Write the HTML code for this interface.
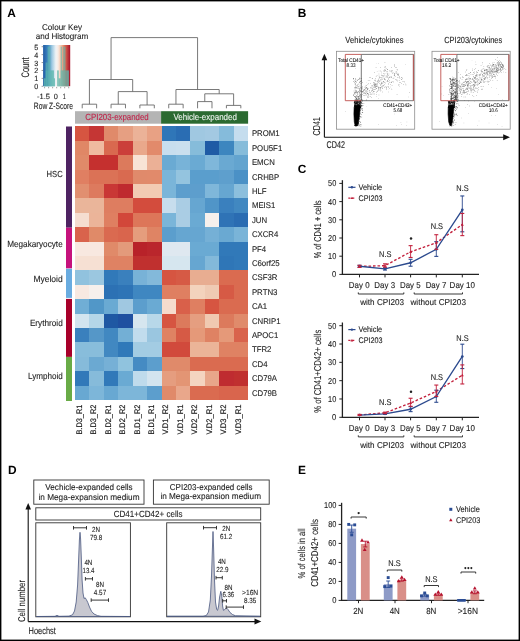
<!DOCTYPE html>
<html><head><meta charset="utf-8"><title>Figure</title>
<style>
html,body{margin:0;padding:0;background:#fff;}
body{width:520px;height:641px;overflow:hidden;}
svg{display:block;filter:blur(0.3px);}
text{font-family:"Liberation Sans", sans-serif;text-rendering:geometricPrecision;}
</style></head><body>
<svg width="520" height="641" viewBox="0 0 520 641">
<rect x="0" y="0" width="520" height="641" fill="#fff"/>
<text x="7.20" y="17.00" font-size="11.9" fill="#000" font-weight="bold">A</text>
<text x="62.00" y="29.50" font-size="8.35" fill="#222" text-anchor="middle" textLength="40" lengthAdjust="spacingAndGlyphs" stroke="#222" stroke-width="0.1">Colour Key</text>
<text x="62.00" y="38.60" font-size="8.35" fill="#222" text-anchor="middle" textLength="52.5" lengthAdjust="spacingAndGlyphs" stroke="#222" stroke-width="0.1">and Histogram</text>
<defs><linearGradient id="ck" x1="0" x2="1" y1="0" y2="0">
<stop offset="0" stop-color="#1f5aa4"/>
<stop offset="0.18" stop-color="#3f86c0"/>
<stop offset="0.33" stop-color="#9fcae2"/>
<stop offset="0.47" stop-color="#eef3f6"/>
<stop offset="0.55" stop-color="#f7ece6"/>
<stop offset="0.67" stop-color="#f3c0a4"/>
<stop offset="0.8" stop-color="#dc6f55"/>
<stop offset="1" stop-color="#a8102a"/>
</linearGradient></defs>
<rect x="43.10" y="45.00" width="27.10" height="41.20" fill="url(#ck)" />
<rect x="43.80" y="78.38" width="1.80" height="7.92" fill="#5db7ae" fill-opacity="0.6"/>
<rect x="43.80" y="78.38" width="1.80" height="7.92" fill="#5db7ae" fill-opacity="0.45"/>
<rect x="45.60" y="62.54" width="2.00" height="23.76" fill="#5db7ae" fill-opacity="0.6"/>
<rect x="45.60" y="70.46" width="2.00" height="15.84" fill="#5db7ae" fill-opacity="0.45"/>
<rect x="47.60" y="46.70" width="2.80" height="39.60" fill="#5db7ae" fill-opacity="0.6"/>
<rect x="47.60" y="70.46" width="2.80" height="15.84" fill="#5db7ae" fill-opacity="0.45"/>
<rect x="50.40" y="70.46" width="3.50" height="15.84" fill="#5db7ae" fill-opacity="0.6"/>
<rect x="50.40" y="70.46" width="3.50" height="15.84" fill="#5db7ae" fill-opacity="0.45"/>
<rect x="53.90" y="78.38" width="1.10" height="7.92" fill="#5db7ae" fill-opacity="0.6"/>
<rect x="53.90" y="78.38" width="1.10" height="7.92" fill="#5db7ae" fill-opacity="0.45"/>
<rect x="57.20" y="70.46" width="1.50" height="15.84" fill="#5db7ae" fill-opacity="0.6"/>
<rect x="57.20" y="70.46" width="1.50" height="15.84" fill="#5db7ae" fill-opacity="0.45"/>
<rect x="58.70" y="78.38" width="1.90" height="7.92" fill="#5db7ae" fill-opacity="0.6"/>
<rect x="58.70" y="78.38" width="1.90" height="7.92" fill="#5db7ae" fill-opacity="0.45"/>
<rect x="60.60" y="46.70" width="1.50" height="39.60" fill="#5db7ae" fill-opacity="0.6"/>
<rect x="60.60" y="70.46" width="1.50" height="15.84" fill="#5db7ae" fill-opacity="0.45"/>
<rect x="62.10" y="70.46" width="1.10" height="15.84" fill="#5db7ae" fill-opacity="0.6"/>
<rect x="62.10" y="70.46" width="1.10" height="15.84" fill="#5db7ae" fill-opacity="0.45"/>
<rect x="63.20" y="46.70" width="2.30" height="39.60" fill="#5db7ae" fill-opacity="0.6"/>
<rect x="63.20" y="70.46" width="2.30" height="15.84" fill="#5db7ae" fill-opacity="0.45"/>
<rect x="65.50" y="70.46" width="1.10" height="15.84" fill="#5db7ae" fill-opacity="0.6"/>
<rect x="65.50" y="70.46" width="1.10" height="15.84" fill="#5db7ae" fill-opacity="0.45"/>
<rect x="66.60" y="70.46" width="2.30" height="15.84" fill="#5db7ae" fill-opacity="0.6"/>
<rect x="66.60" y="70.46" width="2.30" height="15.84" fill="#5db7ae" fill-opacity="0.45"/>
<line x1="41.60" y1="86.30" x2="43.10" y2="86.30" stroke="#555" stroke-width="0.6" />
<text x="38.30" y="89.28" font-size="7.49" fill="#222" text-anchor="end" textLength="4.0" lengthAdjust="spacingAndGlyphs" stroke="#222" stroke-width="0.1">0</text>
<line x1="41.60" y1="78.38" x2="43.10" y2="78.38" stroke="#555" stroke-width="0.6" />
<text x="38.30" y="81.36" font-size="7.49" fill="#222" text-anchor="end" textLength="4.0" lengthAdjust="spacingAndGlyphs" stroke="#222" stroke-width="0.1">1</text>
<line x1="41.60" y1="70.46" x2="43.10" y2="70.46" stroke="#555" stroke-width="0.6" />
<text x="38.30" y="73.44" font-size="7.49" fill="#222" text-anchor="end" textLength="4.0" lengthAdjust="spacingAndGlyphs" stroke="#222" stroke-width="0.1">2</text>
<line x1="41.60" y1="62.54" x2="43.10" y2="62.54" stroke="#555" stroke-width="0.6" />
<text x="38.30" y="65.52" font-size="7.49" fill="#222" text-anchor="end" textLength="4.0" lengthAdjust="spacingAndGlyphs" stroke="#222" stroke-width="0.1">3</text>
<line x1="41.60" y1="54.62" x2="43.10" y2="54.62" stroke="#555" stroke-width="0.6" />
<text x="38.30" y="57.60" font-size="7.49" fill="#222" text-anchor="end" textLength="4.0" lengthAdjust="spacingAndGlyphs" stroke="#222" stroke-width="0.1">4</text>
<line x1="41.60" y1="46.70" x2="43.10" y2="46.70" stroke="#555" stroke-width="0.6" />
<text x="38.30" y="49.68" font-size="7.49" fill="#222" text-anchor="end" textLength="4.0" lengthAdjust="spacingAndGlyphs" stroke="#222" stroke-width="0.1">5</text>
<line x1="44.60" y1="86.90" x2="44.60" y2="88.30" stroke="#666" stroke-width="0.6" />
<line x1="48.62" y1="86.90" x2="48.62" y2="88.30" stroke="#666" stroke-width="0.6" />
<line x1="52.64" y1="86.90" x2="52.64" y2="88.30" stroke="#666" stroke-width="0.6" />
<line x1="56.66" y1="86.90" x2="56.66" y2="88.30" stroke="#666" stroke-width="0.6" />
<line x1="60.68" y1="86.90" x2="60.68" y2="88.30" stroke="#666" stroke-width="0.6" />
<line x1="64.70" y1="86.90" x2="64.70" y2="88.30" stroke="#666" stroke-width="0.6" />
<line x1="68.72" y1="86.90" x2="68.72" y2="88.30" stroke="#666" stroke-width="0.6" />
<text x="43.50" y="98.78" font-size="7.49" fill="#222" text-anchor="middle" textLength="13.0" lengthAdjust="spacingAndGlyphs" stroke="#222" stroke-width="0.1">-1.5</text>
<text x="55.80" y="98.78" font-size="7.49" fill="#222" text-anchor="middle" textLength="4.1" lengthAdjust="spacingAndGlyphs" stroke="#222" stroke-width="0.1">0</text>
<text x="64.20" y="98.78" font-size="7.49" fill="#222" text-anchor="middle" textLength="3.0" lengthAdjust="spacingAndGlyphs" stroke="#222" stroke-width="0.1">1</text>
<text x="53.40" y="109.46" font-size="9.2" fill="#222" text-anchor="middle" textLength="39.2" lengthAdjust="spacingAndGlyphs" stroke="#222" stroke-width="0.1">Row Z-Score</text>
<text x="28.90" y="67.50" font-size="10.91" fill="#222" text-anchor="middle" textLength="20.0" lengthAdjust="spacingAndGlyphs" transform="rotate(-90 28.90 67.50)" stroke="#222" stroke-width="0.1">Count</text>
<path d="M82.21,108.30 L82.21,104.20 L96.63,104.20 L96.63,108.30" fill="none" stroke="#6a6a6a" stroke-width="0.9" />
<path d="M111.05,108.30 L111.05,104.20 L125.47,104.20 L125.47,108.30" fill="none" stroke="#6a6a6a" stroke-width="0.9" />
<path d="M139.89,108.30 L139.89,105.00 L154.31,105.00 L154.31,108.30" fill="none" stroke="#6a6a6a" stroke-width="0.9" />
<path d="M168.73,108.30 L168.73,104.20 L183.15,104.20 L183.15,108.30" fill="none" stroke="#6a6a6a" stroke-width="0.9" />
<path d="M197.57,108.30 L197.57,101.60 L211.99,101.60 L211.99,108.30" fill="none" stroke="#6a6a6a" stroke-width="0.9" />
<path d="M226.41,108.30 L226.41,105.40 L240.83,105.40 L240.83,108.30" fill="none" stroke="#6a6a6a" stroke-width="0.9" />
<path d="M118.26,104.20 L118.26,91.60 L147.10,91.60 L147.10,105.00" fill="none" stroke="#6a6a6a" stroke-width="0.9" />
<path d="M89.42,104.20 L89.42,79.50 L132.68,79.50 L132.68,91.60" fill="none" stroke="#6a6a6a" stroke-width="0.9" />
<path d="M204.78,101.60 L204.78,93.80 L233.62,93.80 L233.62,105.40" fill="none" stroke="#6a6a6a" stroke-width="0.9" />
<path d="M175.94,104.20 L175.94,89.50 L219.20,89.50 L219.20,93.80" fill="none" stroke="#6a6a6a" stroke-width="0.9" />
<path d="M111.05,79.50 L111.05,37.60 L197.57,37.60 L197.57,89.50" fill="none" stroke="#6a6a6a" stroke-width="0.9" />
<rect x="75.00" y="111.20" width="86.10" height="12.50" fill="#b4b4b4" />
<rect x="161.10" y="111.20" width="87.00" height="12.50" fill="#2b6a31" />
<text x="117.00" y="120.49" font-size="8.99" fill="#c0244a" text-anchor="middle" textLength="63.5" lengthAdjust="spacingAndGlyphs" stroke="#c0244a" stroke-width="0.12">CPI203-expanded</text>
<text x="205.20" y="120.49" font-size="8.99" fill="#eef3ee" text-anchor="middle" textLength="63.5" lengthAdjust="spacingAndGlyphs" stroke="#eef3ee" stroke-width="0.12">Vehicle-expanded</text>
<g shape-rendering="crispEdges">
<rect x="75.00" y="126.30" width="14.82" height="14.80" fill="#d65541"/>
<rect x="89.42" y="126.30" width="14.82" height="14.80" fill="#c53634"/>
<rect x="103.84" y="126.30" width="14.82" height="14.80" fill="#e08a6a"/>
<rect x="118.26" y="126.30" width="14.82" height="14.80" fill="#e69f82"/>
<rect x="132.68" y="126.30" width="14.82" height="14.80" fill="#ebb298"/>
<rect x="147.10" y="126.30" width="14.82" height="14.80" fill="#e8a184"/>
<rect x="161.52" y="126.30" width="14.82" height="14.80" fill="#2f76b8"/>
<rect x="175.94" y="126.30" width="14.82" height="14.80" fill="#2a6db3"/>
<rect x="190.36" y="126.30" width="14.82" height="14.80" fill="#a0c8e1"/>
<rect x="204.78" y="126.30" width="14.82" height="14.80" fill="#a3c9e2"/>
<rect x="219.20" y="126.30" width="14.82" height="14.80" fill="#85bbdb"/>
<rect x="233.62" y="126.30" width="14.82" height="14.80" fill="#c5ddee"/>
<rect x="75.00" y="140.70" width="14.82" height="14.80" fill="#e08766"/>
<rect x="89.42" y="140.70" width="14.82" height="14.80" fill="#efbba0"/>
<rect x="103.84" y="140.70" width="14.82" height="14.80" fill="#d9694f"/>
<rect x="118.26" y="140.70" width="14.82" height="14.80" fill="#cb3f3a"/>
<rect x="132.68" y="140.70" width="14.82" height="14.80" fill="#e9a88b"/>
<rect x="147.10" y="140.70" width="14.82" height="14.80" fill="#e28a6b"/>
<rect x="161.52" y="140.70" width="14.82" height="14.80" fill="#c8deee"/>
<rect x="175.94" y="140.70" width="14.82" height="14.80" fill="#cadfee"/>
<rect x="190.36" y="140.70" width="14.82" height="14.80" fill="#86bcda"/>
<rect x="204.78" y="140.70" width="14.82" height="14.80" fill="#1f5ba5"/>
<rect x="219.20" y="140.70" width="14.82" height="14.80" fill="#3d86bf"/>
<rect x="233.62" y="140.70" width="14.82" height="14.80" fill="#86bcda"/>
<rect x="75.00" y="155.11" width="14.82" height="14.80" fill="#e08a69"/>
<rect x="89.42" y="155.11" width="14.82" height="14.80" fill="#c5302f"/>
<rect x="103.84" y="155.11" width="14.82" height="14.80" fill="#c5302f"/>
<rect x="118.26" y="155.11" width="14.82" height="14.80" fill="#dc7a5c"/>
<rect x="132.68" y="155.11" width="14.82" height="14.80" fill="#f8e4d6"/>
<rect x="147.10" y="155.11" width="14.82" height="14.80" fill="#ebb096"/>
<rect x="161.52" y="155.11" width="14.82" height="14.80" fill="#6aaad3"/>
<rect x="175.94" y="155.11" width="14.82" height="14.80" fill="#78b3d8"/>
<rect x="190.36" y="155.11" width="14.82" height="14.80" fill="#6aaad3"/>
<rect x="204.78" y="155.11" width="14.82" height="14.80" fill="#7fb7da"/>
<rect x="219.20" y="155.11" width="14.82" height="14.80" fill="#6aa9d2"/>
<rect x="233.62" y="155.11" width="14.82" height="14.80" fill="#63a4cf"/>
<rect x="75.00" y="169.51" width="14.82" height="14.80" fill="#e07f62"/>
<rect x="89.42" y="169.51" width="14.82" height="14.80" fill="#db7256"/>
<rect x="103.84" y="169.51" width="14.82" height="14.80" fill="#db7256"/>
<rect x="118.26" y="169.51" width="14.82" height="14.80" fill="#d96a50"/>
<rect x="132.68" y="169.51" width="14.82" height="14.80" fill="#e08a6b"/>
<rect x="147.10" y="169.51" width="14.82" height="14.80" fill="#e18a6b"/>
<rect x="161.52" y="169.51" width="14.82" height="14.80" fill="#7ab5d9"/>
<rect x="175.94" y="169.51" width="14.82" height="14.80" fill="#94c4df"/>
<rect x="190.36" y="169.51" width="14.82" height="14.80" fill="#5a9ecd"/>
<rect x="204.78" y="169.51" width="14.82" height="14.80" fill="#5a9ecd"/>
<rect x="219.20" y="169.51" width="14.82" height="14.80" fill="#5e9fcd"/>
<rect x="233.62" y="169.51" width="14.82" height="14.80" fill="#4b91c6"/>
<rect x="75.00" y="183.92" width="14.82" height="14.80" fill="#e18f70"/>
<rect x="89.42" y="183.92" width="14.82" height="14.80" fill="#dd7a5e"/>
<rect x="103.84" y="183.92" width="14.82" height="14.80" fill="#c93735"/>
<rect x="118.26" y="183.92" width="14.82" height="14.80" fill="#bf2a2f"/>
<rect x="132.68" y="183.92" width="14.82" height="14.80" fill="#f2cbb3"/>
<rect x="147.10" y="183.92" width="14.82" height="14.80" fill="#f2cbb3"/>
<rect x="161.52" y="183.92" width="14.82" height="14.80" fill="#7ab5d9"/>
<rect x="175.94" y="183.92" width="14.82" height="14.80" fill="#5d9ecd"/>
<rect x="190.36" y="183.92" width="14.82" height="14.80" fill="#5d9ecd"/>
<rect x="204.78" y="183.92" width="14.82" height="14.80" fill="#7fb7da"/>
<rect x="219.20" y="183.92" width="14.82" height="14.80" fill="#66a6d1"/>
<rect x="233.62" y="183.92" width="14.82" height="14.80" fill="#8cbfdd"/>
<rect x="75.00" y="198.32" width="14.82" height="14.80" fill="#eab59a"/>
<rect x="89.42" y="198.32" width="14.82" height="14.80" fill="#eab59a"/>
<rect x="103.84" y="198.32" width="14.82" height="14.80" fill="#de7d60"/>
<rect x="118.26" y="198.32" width="14.82" height="14.80" fill="#de7d60"/>
<rect x="132.68" y="198.32" width="14.82" height="14.80" fill="#d34c3d"/>
<rect x="147.10" y="198.32" width="14.82" height="14.80" fill="#d34c3d"/>
<rect x="161.52" y="198.32" width="14.82" height="14.80" fill="#c7dded"/>
<rect x="175.94" y="198.32" width="14.82" height="14.80" fill="#aacde4"/>
<rect x="190.36" y="198.32" width="14.82" height="14.80" fill="#66a6d1"/>
<rect x="204.78" y="198.32" width="14.82" height="14.80" fill="#5095c8"/>
<rect x="219.20" y="198.32" width="14.82" height="14.80" fill="#3a80be"/>
<rect x="233.62" y="198.32" width="14.82" height="14.80" fill="#4188c1"/>
<rect x="75.00" y="212.73" width="14.82" height="14.80" fill="#f5ddd0"/>
<rect x="89.42" y="212.73" width="14.82" height="14.80" fill="#ebb499"/>
<rect x="103.84" y="212.73" width="14.82" height="14.80" fill="#df7f61"/>
<rect x="118.26" y="212.73" width="14.82" height="14.80" fill="#d2473a"/>
<rect x="132.68" y="212.73" width="14.82" height="14.80" fill="#dd7659"/>
<rect x="147.10" y="212.73" width="14.82" height="14.80" fill="#dd7659"/>
<rect x="161.52" y="212.73" width="14.82" height="14.80" fill="#7ab5d9"/>
<rect x="175.94" y="212.73" width="14.82" height="14.80" fill="#aacde4"/>
<rect x="190.36" y="212.73" width="14.82" height="14.80" fill="#6aaad3"/>
<rect x="204.78" y="212.73" width="14.82" height="14.80" fill="#f6f0ec"/>
<rect x="219.20" y="212.73" width="14.82" height="14.80" fill="#2f73b6"/>
<rect x="233.62" y="212.73" width="14.82" height="14.80" fill="#2a6cb2"/>
<rect x="75.00" y="227.13" width="14.82" height="14.80" fill="#d9634c"/>
<rect x="89.42" y="227.13" width="14.82" height="14.80" fill="#e08a68"/>
<rect x="103.84" y="227.13" width="14.82" height="14.80" fill="#da6a50"/>
<rect x="118.26" y="227.13" width="14.82" height="14.80" fill="#d9654d"/>
<rect x="132.68" y="227.13" width="14.82" height="14.80" fill="#e59d7d"/>
<rect x="147.10" y="227.13" width="14.82" height="14.80" fill="#df8464"/>
<rect x="161.52" y="227.13" width="14.82" height="14.80" fill="#5b9ecd"/>
<rect x="175.94" y="227.13" width="14.82" height="14.80" fill="#66a6d1"/>
<rect x="190.36" y="227.13" width="14.82" height="14.80" fill="#66a6d1"/>
<rect x="204.78" y="227.13" width="14.82" height="14.80" fill="#75b0d6"/>
<rect x="219.20" y="227.13" width="14.82" height="14.80" fill="#6aa9d2"/>
<rect x="233.62" y="227.13" width="14.82" height="14.80" fill="#7ab4d8"/>
<rect x="75.00" y="241.54" width="14.82" height="14.80" fill="#f8e8e0"/>
<rect x="89.42" y="241.54" width="14.82" height="14.80" fill="#f8e8e0"/>
<rect x="103.84" y="241.54" width="14.82" height="14.80" fill="#e08a69"/>
<rect x="118.26" y="241.54" width="14.82" height="14.80" fill="#e39a7b"/>
<rect x="132.68" y="241.54" width="14.82" height="14.80" fill="#b82229"/>
<rect x="147.10" y="241.54" width="14.82" height="14.80" fill="#ba262c"/>
<rect x="161.52" y="241.54" width="14.82" height="14.80" fill="#dfe8f0"/>
<rect x="175.94" y="241.54" width="14.82" height="14.80" fill="#dfe8f0"/>
<rect x="190.36" y="241.54" width="14.82" height="14.80" fill="#6aaad3"/>
<rect x="204.78" y="241.54" width="14.82" height="14.80" fill="#6aaad3"/>
<rect x="219.20" y="241.54" width="14.82" height="14.80" fill="#3179b9"/>
<rect x="233.62" y="241.54" width="14.82" height="14.80" fill="#3179b9"/>
<rect x="75.00" y="255.94" width="14.82" height="14.80" fill="#f6e0d3"/>
<rect x="89.42" y="255.94" width="14.82" height="14.80" fill="#f6e0d3"/>
<rect x="103.84" y="255.94" width="14.82" height="14.80" fill="#df8263"/>
<rect x="118.26" y="255.94" width="14.82" height="14.80" fill="#df8263"/>
<rect x="132.68" y="255.94" width="14.82" height="14.80" fill="#c0302f"/>
<rect x="147.10" y="255.94" width="14.82" height="14.80" fill="#c0302f"/>
<rect x="161.52" y="255.94" width="14.82" height="14.80" fill="#d6e6ef"/>
<rect x="175.94" y="255.94" width="14.82" height="14.80" fill="#d6e6ef"/>
<rect x="190.36" y="255.94" width="14.82" height="14.80" fill="#66a6d1"/>
<rect x="204.78" y="255.94" width="14.82" height="14.80" fill="#83b9da"/>
<rect x="219.20" y="255.94" width="14.82" height="14.80" fill="#2f76b7"/>
<rect x="233.62" y="255.94" width="14.82" height="14.80" fill="#3179b9"/>
<rect x="75.00" y="270.35" width="14.82" height="14.80" fill="#91c2de"/>
<rect x="89.42" y="270.35" width="14.82" height="14.80" fill="#9bc7e0"/>
<rect x="103.84" y="270.35" width="14.82" height="14.80" fill="#3179b9"/>
<rect x="118.26" y="270.35" width="14.82" height="14.80" fill="#3a80bd"/>
<rect x="132.68" y="270.35" width="14.82" height="14.80" fill="#78b2d7"/>
<rect x="147.10" y="270.35" width="14.82" height="14.80" fill="#83b9da"/>
<rect x="161.52" y="270.35" width="14.82" height="14.80" fill="#d65541"/>
<rect x="175.94" y="270.35" width="14.82" height="14.80" fill="#d65a45"/>
<rect x="190.36" y="270.35" width="14.82" height="14.80" fill="#e8ad91"/>
<rect x="204.78" y="270.35" width="14.82" height="14.80" fill="#e8ad91"/>
<rect x="219.20" y="270.35" width="14.82" height="14.80" fill="#da6b50"/>
<rect x="233.62" y="270.35" width="14.82" height="14.80" fill="#da6b50"/>
<rect x="75.00" y="284.75" width="14.82" height="14.80" fill="#f8e9e1"/>
<rect x="89.42" y="284.75" width="14.82" height="14.80" fill="#f6f0ec"/>
<rect x="103.84" y="284.75" width="14.82" height="14.80" fill="#2c71b4"/>
<rect x="118.26" y="284.75" width="14.82" height="14.80" fill="#2e74b6"/>
<rect x="132.68" y="284.75" width="14.82" height="14.80" fill="#3f87c1"/>
<rect x="147.10" y="284.75" width="14.82" height="14.80" fill="#3f87c1"/>
<rect x="161.52" y="284.75" width="14.82" height="14.80" fill="#df7f61"/>
<rect x="175.94" y="284.75" width="14.82" height="14.80" fill="#df7f61"/>
<rect x="190.36" y="284.75" width="14.82" height="14.80" fill="#f3d3bd"/>
<rect x="204.78" y="284.75" width="14.82" height="14.80" fill="#efcab3"/>
<rect x="219.20" y="284.75" width="14.82" height="14.80" fill="#d65a45"/>
<rect x="233.62" y="284.75" width="14.82" height="14.80" fill="#da6b50"/>
<rect x="75.00" y="299.16" width="14.82" height="14.80" fill="#70aed5"/>
<rect x="89.42" y="299.16" width="14.82" height="14.80" fill="#5197c8"/>
<rect x="103.84" y="299.16" width="14.82" height="14.80" fill="#6aaad3"/>
<rect x="118.26" y="299.16" width="14.82" height="14.80" fill="#a0c8e1"/>
<rect x="132.68" y="299.16" width="14.82" height="14.80" fill="#5c9ecd"/>
<rect x="147.10" y="299.16" width="14.82" height="14.80" fill="#6aaad3"/>
<rect x="161.52" y="299.16" width="14.82" height="14.80" fill="#f6dccd"/>
<rect x="175.94" y="299.16" width="14.82" height="14.80" fill="#d9604a"/>
<rect x="190.36" y="299.16" width="14.82" height="14.80" fill="#df7f61"/>
<rect x="204.78" y="299.16" width="14.82" height="14.80" fill="#d65541"/>
<rect x="219.20" y="299.16" width="14.82" height="14.80" fill="#da6b50"/>
<rect x="233.62" y="299.16" width="14.82" height="14.80" fill="#da6b50"/>
<rect x="75.00" y="313.56" width="14.82" height="14.80" fill="#d3e5ef"/>
<rect x="89.42" y="313.56" width="14.82" height="14.80" fill="#b4d6e8"/>
<rect x="103.84" y="313.56" width="14.82" height="14.80" fill="#1f58a3"/>
<rect x="118.26" y="313.56" width="14.82" height="14.80" fill="#1f50a0"/>
<rect x="132.68" y="313.56" width="14.82" height="14.80" fill="#d6e6ef"/>
<rect x="147.10" y="313.56" width="14.82" height="14.80" fill="#b8d8e9"/>
<rect x="161.52" y="313.56" width="14.82" height="14.80" fill="#d65541"/>
<rect x="175.94" y="313.56" width="14.82" height="14.80" fill="#dc7a5c"/>
<rect x="190.36" y="313.56" width="14.82" height="14.80" fill="#e59e80"/>
<rect x="204.78" y="313.56" width="14.82" height="14.80" fill="#f0c9b1"/>
<rect x="219.20" y="313.56" width="14.82" height="14.80" fill="#dc7a5c"/>
<rect x="233.62" y="313.56" width="14.82" height="14.80" fill="#e08b6b"/>
<rect x="75.00" y="327.97" width="14.82" height="14.80" fill="#3a80bd"/>
<rect x="89.42" y="327.97" width="14.82" height="14.80" fill="#5597c8"/>
<rect x="103.84" y="327.97" width="14.82" height="14.80" fill="#4188c1"/>
<rect x="118.26" y="327.97" width="14.82" height="14.80" fill="#73afd5"/>
<rect x="132.68" y="327.97" width="14.82" height="14.80" fill="#c1dced"/>
<rect x="147.10" y="327.97" width="14.82" height="14.80" fill="#9ac6e0"/>
<rect x="161.52" y="327.97" width="14.82" height="14.80" fill="#df8263"/>
<rect x="175.94" y="327.97" width="14.82" height="14.80" fill="#d65a45"/>
<rect x="190.36" y="327.97" width="14.82" height="14.80" fill="#e59979"/>
<rect x="204.78" y="327.97" width="14.82" height="14.80" fill="#df8263"/>
<rect x="219.20" y="327.97" width="14.82" height="14.80" fill="#e59979"/>
<rect x="233.62" y="327.97" width="14.82" height="14.80" fill="#d9634c"/>
<rect x="75.00" y="342.38" width="14.82" height="14.80" fill="#88bddb"/>
<rect x="89.42" y="342.38" width="14.82" height="14.80" fill="#88bddb"/>
<rect x="103.84" y="342.38" width="14.82" height="14.80" fill="#4188c1"/>
<rect x="118.26" y="342.38" width="14.82" height="14.80" fill="#3079b9"/>
<rect x="132.68" y="342.38" width="14.82" height="14.80" fill="#a3cce3"/>
<rect x="147.10" y="342.38" width="14.82" height="14.80" fill="#a3cce3"/>
<rect x="161.52" y="342.38" width="14.82" height="14.80" fill="#d14a3c"/>
<rect x="175.94" y="342.38" width="14.82" height="14.80" fill="#d14a3c"/>
<rect x="190.36" y="342.38" width="14.82" height="14.80" fill="#ebb498"/>
<rect x="204.78" y="342.38" width="14.82" height="14.80" fill="#ebb498"/>
<rect x="219.20" y="342.38" width="14.82" height="14.80" fill="#df8263"/>
<rect x="233.62" y="342.38" width="14.82" height="14.80" fill="#df8263"/>
<rect x="75.00" y="356.78" width="14.82" height="14.80" fill="#86bbda"/>
<rect x="89.42" y="356.78" width="14.82" height="14.80" fill="#6ba9d2"/>
<rect x="103.84" y="356.78" width="14.82" height="14.80" fill="#76b0d6"/>
<rect x="118.26" y="356.78" width="14.82" height="14.80" fill="#90c3de"/>
<rect x="132.68" y="356.78" width="14.82" height="14.80" fill="#458bc3"/>
<rect x="147.10" y="356.78" width="14.82" height="14.80" fill="#5c9ecd"/>
<rect x="161.52" y="356.78" width="14.82" height="14.80" fill="#e08a6a"/>
<rect x="175.94" y="356.78" width="14.82" height="14.80" fill="#e08a6a"/>
<rect x="190.36" y="356.78" width="14.82" height="14.80" fill="#da6b50"/>
<rect x="204.78" y="356.78" width="14.82" height="14.80" fill="#da6b50"/>
<rect x="219.20" y="356.78" width="14.82" height="14.80" fill="#da6b50"/>
<rect x="233.62" y="356.78" width="14.82" height="14.80" fill="#da6b50"/>
<rect x="75.00" y="371.19" width="14.82" height="14.80" fill="#3179b9"/>
<rect x="89.42" y="371.19" width="14.82" height="14.80" fill="#86bbda"/>
<rect x="103.84" y="371.19" width="14.82" height="14.80" fill="#3179b9"/>
<rect x="118.26" y="371.19" width="14.82" height="14.80" fill="#6aaad3"/>
<rect x="132.68" y="371.19" width="14.82" height="14.80" fill="#bfdbec"/>
<rect x="147.10" y="371.19" width="14.82" height="14.80" fill="#d3e4ef"/>
<rect x="161.52" y="371.19" width="14.82" height="14.80" fill="#e59d7f"/>
<rect x="175.94" y="371.19" width="14.82" height="14.80" fill="#e39574"/>
<rect x="190.36" y="371.19" width="14.82" height="14.80" fill="#f4d4c0"/>
<rect x="204.78" y="371.19" width="14.82" height="14.80" fill="#e8a68a"/>
<rect x="219.20" y="371.19" width="14.82" height="14.80" fill="#bf2c30"/>
<rect x="233.62" y="371.19" width="14.82" height="14.80" fill="#c0302f"/>
<rect x="75.00" y="385.59" width="14.82" height="14.80" fill="#68a8d2"/>
<rect x="89.42" y="385.59" width="14.82" height="14.80" fill="#7db6d9"/>
<rect x="103.84" y="385.59" width="14.82" height="14.80" fill="#68a8d2"/>
<rect x="118.26" y="385.59" width="14.82" height="14.80" fill="#7db6d9"/>
<rect x="132.68" y="385.59" width="14.82" height="14.80" fill="#7db6d9"/>
<rect x="147.10" y="385.59" width="14.82" height="14.80" fill="#5c9ecd"/>
<rect x="161.52" y="385.59" width="14.82" height="14.80" fill="#e08a6a"/>
<rect x="175.94" y="385.59" width="14.82" height="14.80" fill="#e9a78b"/>
<rect x="190.36" y="385.59" width="14.82" height="14.80" fill="#da6b50"/>
<rect x="204.78" y="385.59" width="14.82" height="14.80" fill="#da6b50"/>
<rect x="219.20" y="385.59" width="14.82" height="14.80" fill="#d9654d"/>
<rect x="233.62" y="385.59" width="14.82" height="14.80" fill="#d9654d"/>
</g>
<rect x="66.00" y="126.50" width="6.00" height="101.20" fill="#4e2362" />
<text x="62.70" y="177.25" font-size="8.88" fill="#222" text-anchor="end" textLength="16.1" lengthAdjust="spacingAndGlyphs" stroke="#222" stroke-width="0.1">HSC</text>
<rect x="66.00" y="227.70" width="6.00" height="40.70" fill="#c6127c" />
<text x="62.70" y="246.75" font-size="8.88" fill="#222" text-anchor="end" textLength="55.5" lengthAdjust="spacingAndGlyphs" stroke="#222" stroke-width="0.1">Megakaryocyte</text>
<rect x="66.00" y="268.80" width="6.00" height="29.10" fill="#6aace0" />
<text x="62.70" y="282.05" font-size="8.88" fill="#222" text-anchor="end" textLength="29.3" lengthAdjust="spacingAndGlyphs" stroke="#222" stroke-width="0.1">Myeloid</text>
<rect x="66.00" y="298.90" width="6.00" height="58.00" fill="#a8002a" />
<text x="62.70" y="326.35" font-size="8.88" fill="#222" text-anchor="end" textLength="32.8" lengthAdjust="spacingAndGlyphs" stroke="#222" stroke-width="0.1">Erythroid</text>
<rect x="66.00" y="356.90" width="6.00" height="44.10" fill="#69ab47" />
<text x="62.70" y="379.25" font-size="8.88" fill="#222" text-anchor="end" textLength="34.7" lengthAdjust="spacingAndGlyphs" stroke="#222" stroke-width="0.1">Lymphoid</text>
<text x="251.90" y="136.37" font-size="8.35" fill="#222" textLength="27.74" lengthAdjust="spacingAndGlyphs" stroke="#222" stroke-width="0.1">PROM1</text>
<text x="251.90" y="150.78" font-size="8.35" fill="#222" textLength="30.34" lengthAdjust="spacingAndGlyphs" stroke="#222" stroke-width="0.1">POU5F1</text>
<text x="251.90" y="165.18" font-size="8.35" fill="#222" textLength="22.97" lengthAdjust="spacingAndGlyphs" stroke="#222" stroke-width="0.1">EMCN</text>
<text x="251.90" y="179.59" font-size="8.35" fill="#222" textLength="27.3" lengthAdjust="spacingAndGlyphs" stroke="#222" stroke-width="0.1">CRHBP</text>
<text x="251.90" y="193.99" font-size="8.35" fill="#222" textLength="14.74" lengthAdjust="spacingAndGlyphs" stroke="#222" stroke-width="0.1">HLF</text>
<text x="251.90" y="208.40" font-size="8.35" fill="#222" textLength="23.41" lengthAdjust="spacingAndGlyphs" stroke="#222" stroke-width="0.1">MEIS1</text>
<text x="251.90" y="222.80" font-size="8.35" fill="#222" textLength="15.17" lengthAdjust="spacingAndGlyphs" stroke="#222" stroke-width="0.1">JUN</text>
<text x="251.90" y="237.21" font-size="8.35" fill="#222" textLength="26.44" lengthAdjust="spacingAndGlyphs" stroke="#222" stroke-width="0.1">CXCR4</text>
<text x="251.90" y="251.61" font-size="8.35" fill="#222" textLength="14.31" lengthAdjust="spacingAndGlyphs" stroke="#222" stroke-width="0.1">PF4</text>
<text x="251.90" y="266.02" font-size="8.35" fill="#222" textLength="27.75" lengthAdjust="spacingAndGlyphs" stroke="#222" stroke-width="0.1">C6orf25</text>
<text x="251.90" y="280.42" font-size="8.35" fill="#222" textLength="25.57" lengthAdjust="spacingAndGlyphs" stroke="#222" stroke-width="0.1">CSF3R</text>
<text x="251.90" y="294.83" font-size="8.35" fill="#222" textLength="25.57" lengthAdjust="spacingAndGlyphs" stroke="#222" stroke-width="0.1">PRTN3</text>
<text x="251.90" y="309.23" font-size="8.35" fill="#222" textLength="15.17" lengthAdjust="spacingAndGlyphs" stroke="#222" stroke-width="0.1">CA1</text>
<text x="251.90" y="323.64" font-size="8.35" fill="#222" textLength="28.61" lengthAdjust="spacingAndGlyphs" stroke="#222" stroke-width="0.1">CNRIP1</text>
<text x="251.90" y="338.04" font-size="8.35" fill="#222" textLength="26.44" lengthAdjust="spacingAndGlyphs" stroke="#222" stroke-width="0.1">APOC1</text>
<text x="251.90" y="352.45" font-size="8.35" fill="#222" textLength="19.5" lengthAdjust="spacingAndGlyphs" stroke="#222" stroke-width="0.1">TFR2</text>
<text x="251.90" y="366.85" font-size="8.35" fill="#222" textLength="15.6" lengthAdjust="spacingAndGlyphs" stroke="#222" stroke-width="0.1">CD4</text>
<text x="251.90" y="381.26" font-size="8.35" fill="#222" textLength="25.14" lengthAdjust="spacingAndGlyphs" stroke="#222" stroke-width="0.1">CD79A</text>
<text x="251.90" y="395.66" font-size="8.35" fill="#222" textLength="25.14" lengthAdjust="spacingAndGlyphs" stroke="#222" stroke-width="0.1">CD79B</text>
<text x="81.91" y="404.6" font-size="8.1" fill="#222" stroke="#222" stroke-width="0.18" text-anchor="end" textLength="30" lengthAdjust="spacingAndGlyphs" transform="rotate(-90 81.91 404.6)">B.D3_R1</text>
<text x="96.33" y="404.6" font-size="8.1" fill="#222" stroke="#222" stroke-width="0.18" text-anchor="end" textLength="30" lengthAdjust="spacingAndGlyphs" transform="rotate(-90 96.33 404.6)">B.D3_R2</text>
<text x="110.75" y="404.6" font-size="8.1" fill="#222" stroke="#222" stroke-width="0.18" text-anchor="end" textLength="30" lengthAdjust="spacingAndGlyphs" transform="rotate(-90 110.75 404.6)">B.D2_R1</text>
<text x="125.17" y="404.6" font-size="8.1" fill="#222" stroke="#222" stroke-width="0.18" text-anchor="end" textLength="30" lengthAdjust="spacingAndGlyphs" transform="rotate(-90 125.17 404.6)">B.D2_R2</text>
<text x="139.59" y="404.6" font-size="8.1" fill="#222" stroke="#222" stroke-width="0.18" text-anchor="end" textLength="30" lengthAdjust="spacingAndGlyphs" transform="rotate(-90 139.59 404.6)">B.D1_R2</text>
<text x="154.01" y="404.6" font-size="8.1" fill="#222" stroke="#222" stroke-width="0.18" text-anchor="end" textLength="30" lengthAdjust="spacingAndGlyphs" transform="rotate(-90 154.01 404.6)">B.D1_R1</text>
<text x="168.43" y="404.6" font-size="8.1" fill="#222" stroke="#222" stroke-width="0.18" text-anchor="end" textLength="30" lengthAdjust="spacingAndGlyphs" transform="rotate(-90 168.43 404.6)">V.D1_R2</text>
<text x="182.85" y="404.6" font-size="8.1" fill="#222" stroke="#222" stroke-width="0.18" text-anchor="end" textLength="30" lengthAdjust="spacingAndGlyphs" transform="rotate(-90 182.85 404.6)">V.D1_R1</text>
<text x="197.27" y="404.6" font-size="8.1" fill="#222" stroke="#222" stroke-width="0.18" text-anchor="end" textLength="30" lengthAdjust="spacingAndGlyphs" transform="rotate(-90 197.27 404.6)">V.D2_R2</text>
<text x="211.69" y="404.6" font-size="8.1" fill="#222" stroke="#222" stroke-width="0.18" text-anchor="end" textLength="30" lengthAdjust="spacingAndGlyphs" transform="rotate(-90 211.69 404.6)">V.D2_R1</text>
<text x="226.11" y="404.6" font-size="8.1" fill="#222" stroke="#222" stroke-width="0.18" text-anchor="end" textLength="30" lengthAdjust="spacingAndGlyphs" transform="rotate(-90 226.11 404.6)">V.D3_R2</text>
<text x="240.53" y="404.6" font-size="8.1" fill="#222" stroke="#222" stroke-width="0.18" text-anchor="end" textLength="30" lengthAdjust="spacingAndGlyphs" transform="rotate(-90 240.53 404.6)">V.D3_R1</text>
<text x="297.80" y="17.30" font-size="11.9" fill="#000" font-weight="bold">B</text>
<text x="374.40" y="43.45" font-size="8.88" fill="#222" text-anchor="middle" textLength="58.2" lengthAdjust="spacingAndGlyphs" stroke="#222" stroke-width="0.1">Vehicle/cytokines</text>
<text x="473.20" y="43.25" font-size="8.88" fill="#222" text-anchor="middle" textLength="57.9" lengthAdjust="spacingAndGlyphs" stroke="#222" stroke-width="0.1">CPI203/cytokines</text>
<line x1="324.40" y1="137.30" x2="324.40" y2="58.50" stroke="#111" stroke-width="1.1" />
<path d="M324.4,53.8 L321.6,60.2 L327.2,60.2 Z" fill="#111" />
<line x1="324.40" y1="137.30" x2="504.50" y2="137.30" stroke="#111" stroke-width="1.1" />
<path d="M510,137.3 L503.2,134.3 L503.2,140.3 Z" fill="#111" />
<text x="320.10" y="126.30" font-size="10.06" fill="#222" text-anchor="middle" textLength="18.3" lengthAdjust="spacingAndGlyphs" transform="rotate(-90 320.10 126.30)" stroke="#222" stroke-width="0.1">CD41</text>
<text x="335.80" y="147.58" font-size="9.84" fill="#222" text-anchor="middle" textLength="18.4" lengthAdjust="spacingAndGlyphs" stroke="#222" stroke-width="0.1">CD42</text>
<rect x="336.50" y="51.30" width="78.20" height="77.90" fill="none" stroke="#8d8d8d" stroke-width="0.8" />
<path d="M362.5,112.0h0.55v0.55h-0.55zM359.3,113.4h0.55v0.55h-0.55zM361.5,105.2h0.55v0.55h-0.55zM358.6,102.9h0.55v0.55h-0.55zM359.7,102.8h0.55v0.55h-0.55zM354.0,125.5h0.55v0.55h-0.55zM357.9,117.2h0.55v0.55h-0.55zM358.1,114.0h0.55v0.55h-0.55zM358.1,105.4h0.55v0.55h-0.55zM357.1,111.7h0.55v0.55h-0.55zM359.0,113.7h0.55v0.55h-0.55zM359.6,112.2h0.55v0.55h-0.55zM360.6,125.9h0.55v0.55h-0.55zM357.9,108.5h0.55v0.55h-0.55zM361.5,107.9h0.55v0.55h-0.55zM358.1,122.1h0.55v0.55h-0.55zM356.2,124.9h0.55v0.55h-0.55zM356.3,123.7h0.55v0.55h-0.55zM356.8,125.5h0.55v0.55h-0.55zM357.1,120.4h0.55v0.55h-0.55zM361.4,102.7h0.55v0.55h-0.55zM363.6,103.5h0.55v0.55h-0.55zM362.3,103.1h0.55v0.55h-0.55zM358.7,114.8h0.55v0.55h-0.55zM358.2,105.4h0.55v0.55h-0.55zM359.5,103.5h0.55v0.55h-0.55zM357.5,105.9h0.55v0.55h-0.55zM354.0,108.3h0.55v0.55h-0.55zM361.7,105.9h0.55v0.55h-0.55zM356.6,103.1h0.55v0.55h-0.55zM358.2,105.9h0.55v0.55h-0.55zM361.9,108.1h0.55v0.55h-0.55zM359.9,102.8h0.55v0.55h-0.55zM358.5,110.0h0.55v0.55h-0.55zM354.2,125.0h0.55v0.55h-0.55zM358.4,105.2h0.55v0.55h-0.55zM357.0,123.7h0.55v0.55h-0.55zM355.7,119.4h0.55v0.55h-0.55zM362.8,105.5h0.55v0.55h-0.55zM359.0,111.2h0.55v0.55h-0.55zM360.2,101.5h0.55v0.55h-0.55zM357.6,107.1h0.55v0.55h-0.55zM357.4,115.7h0.55v0.55h-0.55zM359.8,102.3h0.55v0.55h-0.55zM359.1,114.8h0.55v0.55h-0.55zM358.9,123.9h0.55v0.55h-0.55zM358.8,100.9h0.55v0.55h-0.55zM360.7,105.0h0.55v0.55h-0.55zM356.2,115.1h0.55v0.55h-0.55zM357.7,125.5h0.55v0.55h-0.55zM357.9,118.1h0.55v0.55h-0.55zM358.1,101.0h0.55v0.55h-0.55zM357.2,118.4h0.55v0.55h-0.55zM357.4,112.8h0.55v0.55h-0.55zM358.7,108.6h0.55v0.55h-0.55zM356.7,119.3h0.55v0.55h-0.55zM355.9,119.3h0.55v0.55h-0.55zM361.7,109.5h0.55v0.55h-0.55zM358.0,123.5h0.55v0.55h-0.55zM358.2,122.5h0.55v0.55h-0.55zM359.3,116.4h0.55v0.55h-0.55zM360.5,102.5h0.55v0.55h-0.55zM358.8,125.8h0.55v0.55h-0.55zM359.3,119.2h0.55v0.55h-0.55zM358.0,111.7h0.55v0.55h-0.55zM359.3,101.3h0.55v0.55h-0.55zM357.8,112.8h0.55v0.55h-0.55zM354.8,116.2h0.55v0.55h-0.55zM359.9,107.0h0.55v0.55h-0.55zM358.2,105.7h0.55v0.55h-0.55zM355.4,123.6h0.55v0.55h-0.55zM359.9,108.8h0.55v0.55h-0.55zM355.7,105.6h0.55v0.55h-0.55zM358.1,122.9h0.55v0.55h-0.55zM357.6,115.4h0.55v0.55h-0.55zM355.7,121.8h0.55v0.55h-0.55zM358.6,118.6h0.55v0.55h-0.55zM358.0,112.0h0.55v0.55h-0.55zM360.9,106.0h0.55v0.55h-0.55zM356.7,108.5h0.55v0.55h-0.55zM356.9,125.5h0.55v0.55h-0.55zM356.6,122.8h0.55v0.55h-0.55zM358.6,118.6h0.55v0.55h-0.55zM359.4,101.0h0.55v0.55h-0.55zM361.9,112.1h0.55v0.55h-0.55zM358.9,104.1h0.55v0.55h-0.55zM360.1,116.5h0.55v0.55h-0.55zM355.8,121.1h0.55v0.55h-0.55zM357.7,118.0h0.55v0.55h-0.55zM361.1,100.8h0.55v0.55h-0.55zM357.6,118.7h0.55v0.55h-0.55zM358.5,118.3h0.55v0.55h-0.55zM357.1,116.2h0.55v0.55h-0.55zM358.6,123.6h0.55v0.55h-0.55zM356.4,124.3h0.55v0.55h-0.55zM356.2,116.5h0.55v0.55h-0.55zM362.1,110.1h0.55v0.55h-0.55zM358.2,124.6h0.55v0.55h-0.55zM356.2,117.1h0.55v0.55h-0.55zM360.6,116.9h0.55v0.55h-0.55zM354.7,105.9h0.55v0.55h-0.55zM361.1,114.2h0.55v0.55h-0.55zM361.7,108.7h0.55v0.55h-0.55zM360.9,102.6h0.55v0.55h-0.55zM357.5,114.5h0.55v0.55h-0.55zM359.2,121.1h0.55v0.55h-0.55zM357.5,120.9h0.55v0.55h-0.55zM360.1,104.1h0.55v0.55h-0.55zM358.0,113.7h0.55v0.55h-0.55zM360.7,124.6h0.55v0.55h-0.55zM357.6,124.7h0.55v0.55h-0.55zM358.7,107.9h0.55v0.55h-0.55zM361.5,116.8h0.55v0.55h-0.55zM358.4,108.4h0.55v0.55h-0.55zM355.6,122.1h0.55v0.55h-0.55zM357.0,125.2h0.55v0.55h-0.55zM358.0,115.1h0.55v0.55h-0.55zM359.8,115.9h0.55v0.55h-0.55zM354.6,125.2h0.55v0.55h-0.55zM357.4,114.9h0.55v0.55h-0.55zM359.5,118.1h0.55v0.55h-0.55zM355.4,124.9h0.55v0.55h-0.55zM359.1,107.4h0.55v0.55h-0.55zM356.3,121.3h0.55v0.55h-0.55zM358.0,112.7h0.55v0.55h-0.55zM357.6,124.1h0.55v0.55h-0.55zM358.1,120.4h0.55v0.55h-0.55zM357.0,118.0h0.55v0.55h-0.55zM358.5,109.6h0.55v0.55h-0.55zM359.0,103.6h0.55v0.55h-0.55zM358.9,106.9h0.55v0.55h-0.55zM360.4,110.1h0.55v0.55h-0.55zM358.1,114.0h0.55v0.55h-0.55zM358.3,116.8h0.55v0.55h-0.55zM360.0,122.2h0.55v0.55h-0.55zM354.8,119.4h0.55v0.55h-0.55zM355.7,123.5h0.55v0.55h-0.55zM356.8,106.1h0.55v0.55h-0.55zM357.5,123.1h0.55v0.55h-0.55zM359.2,107.1h0.55v0.55h-0.55zM360.2,121.7h0.55v0.55h-0.55zM359.5,110.8h0.55v0.55h-0.55zM357.8,101.0h0.55v0.55h-0.55zM359.5,125.2h0.55v0.55h-0.55zM357.4,113.4h0.55v0.55h-0.55zM360.9,105.3h0.55v0.55h-0.55zM361.2,103.2h0.55v0.55h-0.55zM357.8,115.0h0.55v0.55h-0.55zM357.3,105.2h0.55v0.55h-0.55zM360.6,124.1h0.55v0.55h-0.55zM360.9,102.1h0.55v0.55h-0.55zM358.5,108.8h0.55v0.55h-0.55zM360.2,113.6h0.55v0.55h-0.55zM355.9,118.4h0.55v0.55h-0.55zM361.9,105.1h0.55v0.55h-0.55zM359.2,105.5h0.55v0.55h-0.55zM354.2,113.6h0.55v0.55h-0.55zM356.5,118.5h0.55v0.55h-0.55zM359.6,116.5h0.55v0.55h-0.55zM354.9,125.6h0.55v0.55h-0.55zM355.9,100.6h0.55v0.55h-0.55zM357.3,93.7h0.55v0.55h-0.55zM358.8,79.2h0.55v0.55h-0.55zM356.7,84.9h0.55v0.55h-0.55zM354.7,80.6h0.55v0.55h-0.55zM357.6,92.1h0.55v0.55h-0.55zM360.3,99.8h0.55v0.55h-0.55zM356.7,100.6h0.55v0.55h-0.55zM358.9,94.0h0.55v0.55h-0.55zM357.7,100.4h0.55v0.55h-0.55zM362.0,94.2h0.55v0.55h-0.55zM356.1,101.0h0.55v0.55h-0.55zM355.1,87.4h0.55v0.55h-0.55zM361.5,101.0h0.55v0.55h-0.55zM355.1,84.6h0.55v0.55h-0.55zM357.8,96.1h0.55v0.55h-0.55zM355.8,97.6h0.55v0.55h-0.55zM356.0,98.3h0.55v0.55h-0.55zM357.2,86.8h0.55v0.55h-0.55zM356.2,87.0h0.55v0.55h-0.55zM354.7,83.7h0.55v0.55h-0.55zM359.7,88.4h0.55v0.55h-0.55zM357.4,99.5h0.55v0.55h-0.55zM354.9,100.5h0.55v0.55h-0.55zM354.6,99.8h0.55v0.55h-0.55zM357.3,80.4h0.55v0.55h-0.55zM359.1,93.0h0.55v0.55h-0.55zM355.3,95.9h0.55v0.55h-0.55zM353.2,95.3h0.55v0.55h-0.55zM360.7,78.2h0.55v0.55h-0.55zM359.2,88.9h0.55v0.55h-0.55zM359.1,96.8h0.55v0.55h-0.55zM355.8,100.3h0.55v0.55h-0.55zM358.6,83.7h0.55v0.55h-0.55zM360.6,99.8h0.55v0.55h-0.55zM357.4,96.6h0.55v0.55h-0.55zM360.2,100.0h0.55v0.55h-0.55zM360.4,87.2h0.55v0.55h-0.55zM361.1,99.3h0.55v0.55h-0.55zM355.5,100.6h0.55v0.55h-0.55zM358.7,91.3h0.55v0.55h-0.55zM358.7,96.4h0.55v0.55h-0.55zM362.4,100.2h0.55v0.55h-0.55zM359.3,92.1h0.55v0.55h-0.55zM357.5,91.7h0.55v0.55h-0.55zM357.6,84.0h0.55v0.55h-0.55zM360.1,100.2h0.55v0.55h-0.55zM359.6,98.6h0.55v0.55h-0.55zM355.1,83.5h0.55v0.55h-0.55zM355.2,100.9h0.55v0.55h-0.55zM361.0,78.0h0.55v0.55h-0.55zM359.3,88.6h0.55v0.55h-0.55zM358.6,96.0h0.55v0.55h-0.55zM357.4,99.2h0.55v0.55h-0.55zM356.6,100.0h0.55v0.55h-0.55zM355.8,92.8h0.55v0.55h-0.55zM356.4,91.5h0.55v0.55h-0.55zM354.8,88.6h0.55v0.55h-0.55zM358.0,79.0h0.55v0.55h-0.55zM359.4,90.0h0.55v0.55h-0.55zM357.9,85.9h0.55v0.55h-0.55zM360.8,83.3h0.55v0.55h-0.55zM356.1,95.4h0.55v0.55h-0.55zM357.5,92.6h0.55v0.55h-0.55zM360.9,94.9h0.55v0.55h-0.55zM361.2,86.9h0.55v0.55h-0.55zM358.6,86.7h0.55v0.55h-0.55zM353.8,90.8h0.55v0.55h-0.55zM356.8,100.2h0.55v0.55h-0.55zM359.3,100.8h0.55v0.55h-0.55zM355.5,92.6h0.55v0.55h-0.55zM354.9,98.7h0.55v0.55h-0.55zM360.9,80.7h0.55v0.55h-0.55zM359.2,95.1h0.55v0.55h-0.55zM358.6,98.9h0.55v0.55h-0.55zM359.6,100.4h0.55v0.55h-0.55zM358.1,100.2h0.55v0.55h-0.55zM356.2,98.5h0.55v0.55h-0.55zM355.2,97.1h0.55v0.55h-0.55zM356.0,95.6h0.55v0.55h-0.55zM355.4,91.0h0.55v0.55h-0.55zM358.0,97.4h0.55v0.55h-0.55zM361.2,79.9h0.55v0.55h-0.55zM361.3,97.7h0.55v0.55h-0.55zM355.7,81.3h0.55v0.55h-0.55zM354.7,93.9h0.55v0.55h-0.55zM362.0,81.9h0.55v0.55h-0.55zM361.7,99.3h0.55v0.55h-0.55zM354.6,100.8h0.55v0.55h-0.55zM360.2,81.1h0.55v0.55h-0.55zM354.4,87.3h0.55v0.55h-0.55zM353.1,94.6h0.55v0.55h-0.55zM356.2,98.9h0.55v0.55h-0.55zM355.3,99.5h0.55v0.55h-0.55zM359.5,88.8h0.55v0.55h-0.55zM359.2,81.7h0.55v0.55h-0.55zM357.0,98.8h0.55v0.55h-0.55zM358.5,98.0h0.55v0.55h-0.55zM361.0,100.5h0.55v0.55h-0.55zM354.4,92.5h0.55v0.55h-0.55zM356.1,90.6h0.55v0.55h-0.55zM357.2,100.5h0.55v0.55h-0.55zM355.6,86.0h0.55v0.55h-0.55zM361.7,99.4h0.55v0.55h-0.55zM353.1,78.0h0.55v0.55h-0.55zM361.5,95.9h0.55v0.55h-0.55zM354.4,93.3h0.55v0.55h-0.55zM358.8,96.4h0.55v0.55h-0.55zM356.8,85.1h0.55v0.55h-0.55zM357.9,88.2h0.55v0.55h-0.55zM355.3,79.3h0.55v0.55h-0.55zM355.3,90.4h0.55v0.55h-0.55zM360.2,94.7h0.55v0.55h-0.55zM356.7,98.7h0.55v0.55h-0.55zM358.3,98.9h0.55v0.55h-0.55zM359.5,90.7h0.55v0.55h-0.55zM360.9,91.4h0.55v0.55h-0.55zM358.1,101.0h0.55v0.55h-0.55zM357.2,94.8h0.55v0.55h-0.55zM362.1,100.6h0.55v0.55h-0.55zM358.3,91.5h0.55v0.55h-0.55zM355.9,99.9h0.55v0.55h-0.55zM355.8,100.9h0.55v0.55h-0.55zM358.0,98.2h0.55v0.55h-0.55zM360.6,100.5h0.55v0.55h-0.55zM359.7,99.8h0.55v0.55h-0.55zM360.7,83.5h0.55v0.55h-0.55zM355.8,96.3h0.55v0.55h-0.55zM353.1,78.6h0.55v0.55h-0.55zM355.0,78.0h0.55v0.55h-0.55zM360.2,94.3h0.55v0.55h-0.55zM355.0,81.5h0.55v0.55h-0.55zM356.0,95.7h0.55v0.55h-0.55zM361.9,100.9h0.55v0.55h-0.55zM359.7,85.7h0.55v0.55h-0.55zM356.2,91.9h0.55v0.55h-0.55zM360.9,94.2h0.55v0.55h-0.55zM359.1,78.2h0.55v0.55h-0.55zM356.9,100.9h0.55v0.55h-0.55zM359.2,96.8h0.55v0.55h-0.55zM359.0,82.4h0.55v0.55h-0.55zM360.1,95.7h0.55v0.55h-0.55zM360.2,96.0h0.55v0.55h-0.55zM358.7,99.4h0.55v0.55h-0.55zM355.6,99.7h0.55v0.55h-0.55zM358.0,97.4h0.55v0.55h-0.55zM359.5,77.8h0.55v0.55h-0.55zM354.1,95.9h0.55v0.55h-0.55zM356.7,88.0h0.55v0.55h-0.55zM356.0,99.5h0.55v0.55h-0.55zM361.1,95.7h0.55v0.55h-0.55zM354.6,96.4h0.55v0.55h-0.55zM356.8,79.8h0.55v0.55h-0.55zM353.0,80.9h0.55v0.55h-0.55zM358.0,97.2h0.55v0.55h-0.55zM360.6,97.1h0.55v0.55h-0.55zM353.9,92.8h0.55v0.55h-0.55zM355.3,100.9h0.55v0.55h-0.55zM353.8,90.7h0.55v0.55h-0.55zM355.5,92.1h0.55v0.55h-0.55zM355.7,87.5h0.55v0.55h-0.55zM354.6,99.9h0.55v0.55h-0.55zM359.0,97.9h0.55v0.55h-0.55zM355.9,82.3h0.55v0.55h-0.55zM356.6,97.7h0.55v0.55h-0.55zM359.0,100.9h0.55v0.55h-0.55zM360.8,91.5h0.55v0.55h-0.55zM361.1,88.6h0.55v0.55h-0.55zM358.6,99.0h0.55v0.55h-0.55zM354.4,82.3h0.55v0.55h-0.55z" fill="#333"/>
<path d="M360.2,102.4h0.7v0.7h-0.7zM359.2,105.7h0.7v0.7h-0.7zM356.6,106.2h0.7v0.7h-0.7zM359.9,106.8h0.7v0.7h-0.7zM359.1,105.4h0.7v0.7h-0.7zM356.6,105.9h0.7v0.7h-0.7zM354.2,105.6h0.7v0.7h-0.7zM357.0,103.0h0.7v0.7h-0.7zM356.2,100.7h0.7v0.7h-0.7zM358.1,105.0h0.7v0.7h-0.7zM360.4,102.2h0.7v0.7h-0.7zM356.1,105.2h0.7v0.7h-0.7zM357.7,105.2h0.7v0.7h-0.7zM356.5,104.3h0.7v0.7h-0.7zM358.3,107.5h0.7v0.7h-0.7zM359.1,105.4h0.7v0.7h-0.7zM353.9,107.4h0.7v0.7h-0.7zM358.9,104.8h0.7v0.7h-0.7zM356.6,102.4h0.7v0.7h-0.7zM355.1,100.9h0.7v0.7h-0.7zM354.4,103.2h0.7v0.7h-0.7zM360.1,102.3h0.7v0.7h-0.7zM357.3,104.4h0.7v0.7h-0.7zM357.7,107.3h0.7v0.7h-0.7zM358.2,107.5h0.7v0.7h-0.7zM354.2,106.2h0.7v0.7h-0.7zM359.1,104.7h0.7v0.7h-0.7zM360.3,100.9h0.7v0.7h-0.7zM357.0,101.7h0.7v0.7h-0.7zM357.2,101.8h0.7v0.7h-0.7zM354.1,104.8h0.7v0.7h-0.7zM356.7,107.1h0.7v0.7h-0.7zM357.9,104.2h0.7v0.7h-0.7zM355.7,103.1h0.7v0.7h-0.7zM357.7,105.1h0.7v0.7h-0.7zM358.8,102.6h0.7v0.7h-0.7zM353.8,102.6h0.7v0.7h-0.7zM354.0,102.3h0.7v0.7h-0.7zM359.1,101.7h0.7v0.7h-0.7zM360.1,103.3h0.7v0.7h-0.7zM354.1,105.8h0.7v0.7h-0.7zM360.4,107.4h0.7v0.7h-0.7zM360.1,101.1h0.7v0.7h-0.7zM357.1,103.6h0.7v0.7h-0.7zM355.4,107.3h0.7v0.7h-0.7zM360.4,104.2h0.7v0.7h-0.7zM357.0,105.6h0.7v0.7h-0.7zM359.5,107.4h0.7v0.7h-0.7zM354.5,104.8h0.7v0.7h-0.7zM356.9,104.9h0.7v0.7h-0.7zM354.1,102.0h0.7v0.7h-0.7zM354.6,104.2h0.7v0.7h-0.7zM358.4,103.7h0.7v0.7h-0.7zM355.6,103.7h0.7v0.7h-0.7zM356.7,104.6h0.7v0.7h-0.7zM357.5,106.0h0.7v0.7h-0.7zM360.5,107.5h0.7v0.7h-0.7zM355.4,105.7h0.7v0.7h-0.7zM360.0,101.4h0.7v0.7h-0.7zM358.1,106.0h0.7v0.7h-0.7zM355.6,103.1h0.7v0.7h-0.7zM357.7,105.3h0.7v0.7h-0.7zM358.2,104.7h0.7v0.7h-0.7zM355.0,105.8h0.7v0.7h-0.7zM360.7,102.3h0.7v0.7h-0.7zM359.9,106.9h0.7v0.7h-0.7zM354.1,100.9h0.7v0.7h-0.7zM356.7,102.5h0.7v0.7h-0.7zM354.4,104.9h0.7v0.7h-0.7zM354.2,104.3h0.7v0.7h-0.7zM358.5,101.2h0.7v0.7h-0.7zM358.2,104.4h0.7v0.7h-0.7zM357.1,103.2h0.7v0.7h-0.7zM356.1,102.1h0.7v0.7h-0.7zM359.7,105.7h0.7v0.7h-0.7zM354.6,101.1h0.7v0.7h-0.7zM358.1,106.2h0.7v0.7h-0.7zM355.2,105.9h0.7v0.7h-0.7zM355.5,103.5h0.7v0.7h-0.7zM356.3,106.2h0.7v0.7h-0.7zM360.7,105.1h0.7v0.7h-0.7zM357.6,102.8h0.7v0.7h-0.7zM360.2,105.7h0.7v0.7h-0.7zM356.3,103.6h0.7v0.7h-0.7zM359.9,101.3h0.7v0.7h-0.7zM354.3,101.1h0.7v0.7h-0.7zM357.1,104.5h0.7v0.7h-0.7zM355.8,105.3h0.7v0.7h-0.7zM354.2,106.0h0.7v0.7h-0.7zM358.4,102.1h0.7v0.7h-0.7zM355.9,101.2h0.7v0.7h-0.7zM358.6,105.6h0.7v0.7h-0.7zM354.7,102.6h0.7v0.7h-0.7zM358.9,103.1h0.7v0.7h-0.7zM354.5,103.1h0.7v0.7h-0.7zM357.7,105.5h0.7v0.7h-0.7zM360.4,106.9h0.7v0.7h-0.7zM356.8,106.9h0.7v0.7h-0.7zM355.9,106.1h0.7v0.7h-0.7zM356.5,102.8h0.7v0.7h-0.7zM360.1,107.0h0.7v0.7h-0.7zM356.3,102.3h0.7v0.7h-0.7zM356.3,103.1h0.7v0.7h-0.7zM356.5,103.3h0.7v0.7h-0.7zM357.7,101.9h0.7v0.7h-0.7zM357.5,106.1h0.7v0.7h-0.7zM357.7,106.4h0.7v0.7h-0.7zM359.1,101.8h0.7v0.7h-0.7zM355.7,106.7h0.7v0.7h-0.7zM357.4,100.8h0.7v0.7h-0.7zM357.7,104.4h0.7v0.7h-0.7zM358.3,107.3h0.7v0.7h-0.7zM354.2,106.1h0.7v0.7h-0.7zM359.3,104.4h0.7v0.7h-0.7zM354.3,101.2h0.7v0.7h-0.7zM360.1,105.7h0.7v0.7h-0.7zM358.2,101.2h0.7v0.7h-0.7zM359.0,101.6h0.7v0.7h-0.7zM355.4,105.1h0.7v0.7h-0.7zM359.1,102.1h0.7v0.7h-0.7zM359.1,104.2h0.7v0.7h-0.7zM356.1,103.3h0.7v0.7h-0.7zM358.5,107.3h0.7v0.7h-0.7zM357.5,104.0h0.7v0.7h-0.7zM358.7,105.6h0.7v0.7h-0.7zM356.6,106.9h0.7v0.7h-0.7zM358.4,106.3h0.7v0.7h-0.7zM359.4,106.5h0.7v0.7h-0.7zM360.0,106.4h0.7v0.7h-0.7zM358.2,107.2h0.7v0.7h-0.7zM358.7,104.2h0.7v0.7h-0.7zM356.7,106.1h0.7v0.7h-0.7zM354.7,103.5h0.7v0.7h-0.7zM360.7,105.7h0.7v0.7h-0.7zM354.9,103.2h0.7v0.7h-0.7zM356.7,102.0h0.7v0.7h-0.7zM360.6,102.6h0.7v0.7h-0.7zM355.9,101.0h0.7v0.7h-0.7zM358.3,101.4h0.7v0.7h-0.7zM355.0,106.0h0.7v0.7h-0.7zM357.0,101.0h0.7v0.7h-0.7zM360.2,104.6h0.7v0.7h-0.7zM354.5,100.9h0.7v0.7h-0.7zM355.2,101.9h0.7v0.7h-0.7zM358.8,102.2h0.7v0.7h-0.7zM355.3,104.7h0.7v0.7h-0.7zM355.7,101.9h0.7v0.7h-0.7zM359.1,101.8h0.7v0.7h-0.7zM357.6,102.8h0.7v0.7h-0.7zM357.1,106.2h0.7v0.7h-0.7zM360.0,102.4h0.7v0.7h-0.7zM356.1,106.9h0.7v0.7h-0.7zM360.5,104.4h0.7v0.7h-0.7zM355.3,103.9h0.7v0.7h-0.7zM360.4,100.9h0.7v0.7h-0.7zM356.4,106.1h0.7v0.7h-0.7zM357.4,104.2h0.7v0.7h-0.7zM360.7,102.5h0.7v0.7h-0.7zM355.4,105.1h0.7v0.7h-0.7zM357.1,100.7h0.7v0.7h-0.7zM359.4,103.2h0.7v0.7h-0.7zM358.0,105.5h0.7v0.7h-0.7zM354.8,101.7h0.7v0.7h-0.7zM355.5,102.8h0.7v0.7h-0.7zM357.4,106.6h0.7v0.7h-0.7zM360.8,105.0h0.7v0.7h-0.7zM357.5,102.4h0.7v0.7h-0.7zM359.2,101.6h0.7v0.7h-0.7zM359.5,100.6h0.7v0.7h-0.7zM359.5,106.4h0.7v0.7h-0.7z" fill="#111"/>
<path d="M388.0,84.3h0.5v0.5h-0.5zM377.9,87.4h0.5v0.5h-0.5zM363.1,90.3h0.5v0.5h-0.5zM381.9,85.5h0.5v0.5h-0.5zM373.5,89.5h0.5v0.5h-0.5zM381.8,87.0h0.5v0.5h-0.5zM367.5,88.7h0.5v0.5h-0.5zM364.3,89.6h0.5v0.5h-0.5zM373.5,84.2h0.5v0.5h-0.5zM384.3,82.3h0.5v0.5h-0.5zM383.5,70.8h0.5v0.5h-0.5zM362.0,91.6h0.5v0.5h-0.5zM375.9,84.1h0.5v0.5h-0.5zM377.6,85.9h0.5v0.5h-0.5zM361.8,88.5h0.5v0.5h-0.5zM379.4,83.6h0.5v0.5h-0.5zM374.0,86.5h0.5v0.5h-0.5zM375.3,86.9h0.5v0.5h-0.5zM392.5,70.1h0.5v0.5h-0.5zM385.8,77.5h0.5v0.5h-0.5zM366.2,85.0h0.5v0.5h-0.5zM398.3,74.6h0.5v0.5h-0.5zM370.5,77.2h0.5v0.5h-0.5zM387.0,70.9h0.5v0.5h-0.5zM383.1,76.3h0.5v0.5h-0.5zM375.7,81.6h0.5v0.5h-0.5zM374.3,91.2h0.5v0.5h-0.5zM371.9,78.0h0.5v0.5h-0.5zM397.5,77.1h0.5v0.5h-0.5zM381.1,83.2h0.5v0.5h-0.5zM369.6,80.2h0.5v0.5h-0.5zM371.5,97.1h0.5v0.5h-0.5zM369.5,90.0h0.5v0.5h-0.5zM373.7,93.7h0.5v0.5h-0.5zM360.5,90.9h0.5v0.5h-0.5zM370.3,87.4h0.5v0.5h-0.5zM378.3,79.6h0.5v0.5h-0.5zM382.2,75.0h0.5v0.5h-0.5zM386.3,87.5h0.5v0.5h-0.5zM369.2,77.4h0.5v0.5h-0.5zM376.3,88.6h0.5v0.5h-0.5zM386.7,75.1h0.5v0.5h-0.5zM384.7,73.3h0.5v0.5h-0.5zM384.7,62.3h0.5v0.5h-0.5zM366.3,87.4h0.5v0.5h-0.5zM380.7,77.6h0.5v0.5h-0.5zM374.8,84.1h0.5v0.5h-0.5zM386.1,89.5h0.5v0.5h-0.5zM370.8,88.4h0.5v0.5h-0.5zM370.3,92.6h0.5v0.5h-0.5zM381.7,83.6h0.5v0.5h-0.5zM365.0,92.8h0.5v0.5h-0.5zM365.5,90.9h0.5v0.5h-0.5zM377.5,81.8h0.5v0.5h-0.5zM388.7,73.7h0.5v0.5h-0.5zM394.3,75.3h0.5v0.5h-0.5zM396.6,79.0h0.5v0.5h-0.5zM381.4,83.7h0.5v0.5h-0.5zM387.5,69.5h0.5v0.5h-0.5zM373.4,91.6h0.5v0.5h-0.5zM387.2,75.9h0.5v0.5h-0.5zM392.6,81.5h0.5v0.5h-0.5zM395.2,78.9h0.5v0.5h-0.5zM374.8,79.7h0.5v0.5h-0.5zM384.0,71.2h0.5v0.5h-0.5zM387.4,68.9h0.5v0.5h-0.5zM364.7,87.5h0.5v0.5h-0.5zM372.7,92.2h0.5v0.5h-0.5zM371.4,93.9h0.5v0.5h-0.5zM397.2,74.0h0.5v0.5h-0.5zM401.6,79.0h0.5v0.5h-0.5zM380.3,89.3h0.5v0.5h-0.5zM380.0,70.7h0.5v0.5h-0.5zM403.7,81.1h0.5v0.5h-0.5zM363.6,92.1h0.5v0.5h-0.5zM362.8,91.2h0.5v0.5h-0.5zM371.8,86.0h0.5v0.5h-0.5zM360.8,81.1h0.5v0.5h-0.5zM377.0,91.2h0.5v0.5h-0.5zM380.4,84.0h0.5v0.5h-0.5zM374.3,82.8h0.5v0.5h-0.5zM398.6,85.0h0.5v0.5h-0.5zM370.2,83.4h0.5v0.5h-0.5zM393.1,81.8h0.5v0.5h-0.5zM394.0,65.0h0.5v0.5h-0.5zM384.9,86.4h0.5v0.5h-0.5zM392.8,78.4h0.5v0.5h-0.5zM366.8,92.7h0.5v0.5h-0.5zM396.5,73.4h0.5v0.5h-0.5zM368.5,94.5h0.5v0.5h-0.5zM376.8,91.5h0.5v0.5h-0.5zM367.6,90.9h0.5v0.5h-0.5zM384.8,79.5h0.5v0.5h-0.5zM381.7,86.3h0.5v0.5h-0.5zM375.5,85.6h0.5v0.5h-0.5zM364.9,93.1h0.5v0.5h-0.5zM394.5,73.4h0.5v0.5h-0.5zM369.5,90.8h0.5v0.5h-0.5zM381.6,86.1h0.5v0.5h-0.5zM394.0,74.8h0.5v0.5h-0.5zM375.9,76.2h0.5v0.5h-0.5zM378.9,88.8h0.5v0.5h-0.5zM361.8,88.3h0.5v0.5h-0.5zM383.7,77.8h0.5v0.5h-0.5zM376.2,94.4h0.5v0.5h-0.5zM396.0,67.4h0.5v0.5h-0.5zM380.4,87.4h0.5v0.5h-0.5zM365.8,85.1h0.5v0.5h-0.5zM363.4,93.6h0.5v0.5h-0.5zM365.5,93.2h0.5v0.5h-0.5zM375.3,85.9h0.5v0.5h-0.5zM378.8,78.5h0.5v0.5h-0.5zM363.4,95.0h0.5v0.5h-0.5zM366.3,99.9h0.5v0.5h-0.5zM383.3,85.2h0.5v0.5h-0.5zM384.1,68.9h0.5v0.5h-0.5zM378.2,87.4h0.5v0.5h-0.5zM384.8,67.3h0.5v0.5h-0.5zM405.7,84.7h0.5v0.5h-0.5zM380.4,90.8h0.5v0.5h-0.5zM388.1,78.3h0.5v0.5h-0.5zM366.4,99.0h0.5v0.5h-0.5zM383.7,81.8h0.5v0.5h-0.5zM378.0,89.5h0.5v0.5h-0.5zM387.4,81.2h0.5v0.5h-0.5zM383.0,75.4h0.5v0.5h-0.5zM374.2,84.3h0.5v0.5h-0.5zM378.7,94.8h0.5v0.5h-0.5zM364.0,89.0h0.5v0.5h-0.5zM372.6,93.8h0.5v0.5h-0.5zM385.0,69.7h0.5v0.5h-0.5zM367.7,88.3h0.5v0.5h-0.5zM366.9,93.0h0.5v0.5h-0.5zM379.7,87.3h0.5v0.5h-0.5zM360.8,90.6h0.5v0.5h-0.5zM373.9,86.5h0.5v0.5h-0.5zM383.6,84.9h0.5v0.5h-0.5zM393.9,73.4h0.5v0.5h-0.5zM373.9,86.6h0.5v0.5h-0.5zM396.8,69.3h0.5v0.5h-0.5zM379.6,87.2h0.5v0.5h-0.5zM376.7,84.0h0.5v0.5h-0.5zM389.2,80.2h0.5v0.5h-0.5zM389.2,82.6h0.5v0.5h-0.5zM396.1,71.4h0.5v0.5h-0.5zM376.5,88.1h0.5v0.5h-0.5zM401.7,77.5h0.5v0.5h-0.5zM378.7,90.0h0.5v0.5h-0.5zM386.8,81.3h0.5v0.5h-0.5zM399.5,82.4h0.5v0.5h-0.5zM390.9,70.3h0.5v0.5h-0.5zM380.6,77.2h0.5v0.5h-0.5zM367.7,93.5h0.5v0.5h-0.5zM375.5,78.1h0.5v0.5h-0.5zM384.1,74.8h0.5v0.5h-0.5zM371.5,90.2h0.5v0.5h-0.5zM381.2,75.3h0.5v0.5h-0.5zM362.3,91.3h0.5v0.5h-0.5zM381.6,73.7h0.5v0.5h-0.5zM385.2,82.8h0.5v0.5h-0.5zM398.8,77.4h0.5v0.5h-0.5zM402.1,77.9h0.5v0.5h-0.5zM387.3,74.3h0.5v0.5h-0.5zM404.1,81.7h0.5v0.5h-0.5zM377.7,86.3h0.5v0.5h-0.5zM397.2,69.8h0.5v0.5h-0.5zM380.7,83.8h0.5v0.5h-0.5zM391.6,89.1h0.5v0.5h-0.5zM399.7,78.5h0.5v0.5h-0.5zM376.8,75.4h0.5v0.5h-0.5zM405.6,83.8h0.5v0.5h-0.5zM390.8,82.4h0.5v0.5h-0.5zM372.1,89.5h0.5v0.5h-0.5zM379.1,77.2h0.5v0.5h-0.5zM394.9,76.5h0.5v0.5h-0.5zM388.0,83.5h0.5v0.5h-0.5zM361.9,87.1h0.5v0.5h-0.5zM378.6,80.3h0.5v0.5h-0.5zM372.2,90.5h0.5v0.5h-0.5zM384.6,66.7h0.5v0.5h-0.5zM386.3,88.6h0.5v0.5h-0.5zM365.8,87.0h0.5v0.5h-0.5zM376.1,86.5h0.5v0.5h-0.5zM375.2,86.7h0.5v0.5h-0.5zM394.9,76.4h0.5v0.5h-0.5zM367.9,88.2h0.5v0.5h-0.5zM378.3,88.4h0.5v0.5h-0.5zM391.5,67.4h0.5v0.5h-0.5zM365.8,93.9h0.5v0.5h-0.5zM385.1,79.7h0.5v0.5h-0.5zM394.1,74.1h0.5v0.5h-0.5zM384.8,75.8h0.5v0.5h-0.5zM380.2,88.1h0.5v0.5h-0.5zM373.9,87.1h0.5v0.5h-0.5zM384.6,78.8h0.5v0.5h-0.5zM391.8,85.5h0.5v0.5h-0.5zM370.7,93.2h0.5v0.5h-0.5zM382.1,88.3h0.5v0.5h-0.5zM370.0,96.3h0.5v0.5h-0.5zM389.1,88.1h0.5v0.5h-0.5zM377.7,90.1h0.5v0.5h-0.5zM396.8,94.5h0.5v0.5h-0.5zM387.5,74.7h0.5v0.5h-0.5zM378.7,87.5h0.5v0.5h-0.5zM366.1,88.1h0.5v0.5h-0.5zM389.8,71.5h0.5v0.5h-0.5zM374.4,79.9h0.5v0.5h-0.5zM398.0,75.2h0.5v0.5h-0.5zM374.3,85.2h0.5v0.5h-0.5zM381.5,77.7h0.5v0.5h-0.5zM373.8,89.5h0.5v0.5h-0.5zM391.6,71.7h0.5v0.5h-0.5zM380.4,67.5h0.5v0.5h-0.5zM377.9,87.8h0.5v0.5h-0.5zM386.8,72.8h0.5v0.5h-0.5zM363.3,90.2h0.5v0.5h-0.5zM377.0,83.6h0.5v0.5h-0.5zM401.1,79.5h0.5v0.5h-0.5zM371.7,85.3h0.5v0.5h-0.5zM368.2,83.2h0.5v0.5h-0.5zM380.7,90.6h0.5v0.5h-0.5zM374.6,93.7h0.5v0.5h-0.5zM375.1,80.2h0.5v0.5h-0.5zM398.7,84.2h0.5v0.5h-0.5zM382.6,78.7h0.5v0.5h-0.5zM394.7,73.5h0.5v0.5h-0.5zM364.2,89.7h0.5v0.5h-0.5zM391.0,81.8h0.5v0.5h-0.5zM383.2,73.0h0.5v0.5h-0.5zM403.5,84.0h0.5v0.5h-0.5zM361.7,90.9h0.5v0.5h-0.5zM373.5,82.4h0.5v0.5h-0.5zM377.7,80.9h0.5v0.5h-0.5zM388.3,87.1h0.5v0.5h-0.5zM409.1,91.9h0.5v0.5h-0.5zM375.5,83.1h0.5v0.5h-0.5zM389.6,70.5h0.5v0.5h-0.5zM394.3,64.1h0.5v0.5h-0.5zM362.8,89.2h0.5v0.5h-0.5zM387.0,80.6h0.5v0.5h-0.5zM371.4,91.2h0.5v0.5h-0.5zM375.6,85.4h0.5v0.5h-0.5zM364.9,86.3h0.5v0.5h-0.5zM366.8,94.7h0.5v0.5h-0.5zM366.6,87.2h0.5v0.5h-0.5zM385.9,71.5h0.5v0.5h-0.5zM372.6,90.2h0.5v0.5h-0.5zM385.9,68.6h0.5v0.5h-0.5zM366.1,90.4h0.5v0.5h-0.5zM393.9,75.2h0.5v0.5h-0.5zM397.6,74.3h0.5v0.5h-0.5zM374.7,85.4h0.5v0.5h-0.5zM380.6,79.8h0.5v0.5h-0.5zM390.9,76.0h0.5v0.5h-0.5zM372.0,85.1h0.5v0.5h-0.5zM382.9,81.2h0.5v0.5h-0.5zM368.7,93.9h0.5v0.5h-0.5zM374.2,89.5h0.5v0.5h-0.5zM390.8,76.9h0.5v0.5h-0.5zM365.7,95.3h0.5v0.5h-0.5zM367.6,84.6h0.5v0.5h-0.5zM380.0,85.3h0.5v0.5h-0.5zM398.7,84.1h0.5v0.5h-0.5zM370.0,94.0h0.5v0.5h-0.5zM394.3,66.4h0.5v0.5h-0.5zM384.2,79.6h0.5v0.5h-0.5zM397.4,80.8h0.5v0.5h-0.5zM362.0,92.6h0.5v0.5h-0.5zM369.0,92.4h0.5v0.5h-0.5zM383.8,70.4h0.5v0.5h-0.5zM367.3,89.4h0.5v0.5h-0.5zM366.0,91.0h0.5v0.5h-0.5zM376.2,92.3h0.5v0.5h-0.5zM392.4,73.5h0.5v0.5h-0.5zM363.1,91.5h0.5v0.5h-0.5zM372.1,88.6h0.5v0.5h-0.5zM367.5,93.5h0.5v0.5h-0.5zM379.0,81.0h0.5v0.5h-0.5zM391.6,88.7h0.5v0.5h-0.5zM378.7,73.8h0.5v0.5h-0.5zM382.7,86.4h0.5v0.5h-0.5zM371.8,84.9h0.5v0.5h-0.5zM389.2,77.3h0.5v0.5h-0.5zM380.2,88.3h0.5v0.5h-0.5zM377.9,80.3h0.5v0.5h-0.5zM380.7,87.4h0.5v0.5h-0.5zM364.1,93.0h0.5v0.5h-0.5zM380.7,80.7h0.5v0.5h-0.5zM380.7,79.1h0.5v0.5h-0.5zM366.4,92.6h0.5v0.5h-0.5zM374.7,83.7h0.5v0.5h-0.5zM372.7,92.3h0.5v0.5h-0.5zM389.3,76.7h0.5v0.5h-0.5zM377.1,84.8h0.5v0.5h-0.5zM402.6,81.0h0.5v0.5h-0.5zM397.8,73.2h0.5v0.5h-0.5zM373.7,82.5h0.5v0.5h-0.5zM371.9,84.9h0.5v0.5h-0.5zM382.4,76.8h0.5v0.5h-0.5zM379.2,80.7h0.5v0.5h-0.5zM381.1,82.4h0.5v0.5h-0.5zM364.9,90.5h0.5v0.5h-0.5zM370.9,87.3h0.5v0.5h-0.5zM382.1,91.8h0.5v0.5h-0.5zM391.6,71.1h0.5v0.5h-0.5zM388.6,81.3h0.5v0.5h-0.5zM368.4,97.2h0.5v0.5h-0.5zM373.7,85.7h0.5v0.5h-0.5zM375.4,89.5h0.5v0.5h-0.5zM381.1,71.7h0.5v0.5h-0.5zM364.1,92.4h0.5v0.5h-0.5zM384.2,78.5h0.5v0.5h-0.5zM385.9,87.6h0.5v0.5h-0.5zM361.8,91.3h0.5v0.5h-0.5zM396.6,73.5h0.5v0.5h-0.5zM360.2,89.9h0.5v0.5h-0.5zM385.2,70.6h0.5v0.5h-0.5zM401.1,77.0h0.5v0.5h-0.5zM401.4,83.1h0.5v0.5h-0.5zM380.3,87.4h0.5v0.5h-0.5zM387.3,73.1h0.5v0.5h-0.5zM380.0,87.3h0.5v0.5h-0.5zM365.1,88.8h0.5v0.5h-0.5zM367.1,96.3h0.5v0.5h-0.5zM367.6,93.3h0.5v0.5h-0.5zM378.8,75.7h0.5v0.5h-0.5zM367.3,93.0h0.5v0.5h-0.5zM399.4,76.6h0.5v0.5h-0.5zM384.4,84.3h0.5v0.5h-0.5zM376.6,83.2h0.5v0.5h-0.5zM382.6,83.2h0.5v0.5h-0.5zM392.8,72.2h0.5v0.5h-0.5zM382.1,87.9h0.5v0.5h-0.5zM376.5,86.2h0.5v0.5h-0.5zM390.1,84.4h0.5v0.5h-0.5zM386.0,76.0h0.5v0.5h-0.5zM376.6,85.5h0.5v0.5h-0.5zM388.0,75.0h0.5v0.5h-0.5zM367.1,88.0h0.5v0.5h-0.5zM374.0,84.7h0.5v0.5h-0.5zM366.6,87.4h0.5v0.5h-0.5zM384.1,87.3h0.5v0.5h-0.5zM372.3,78.1h0.5v0.5h-0.5zM373.3,82.4h0.5v0.5h-0.5zM375.8,67.6h0.5v0.5h-0.5zM374.9,87.8h0.5v0.5h-0.5zM388.0,78.9h0.5v0.5h-0.5zM391.4,81.9h0.5v0.5h-0.5zM383.2,81.1h0.5v0.5h-0.5zM393.7,77.8h0.5v0.5h-0.5zM375.4,84.5h0.5v0.5h-0.5zM381.9,75.1h0.5v0.5h-0.5zM388.6,91.7h0.5v0.5h-0.5zM378.0,82.3h0.5v0.5h-0.5zM380.5,83.9h0.5v0.5h-0.5zM368.7,96.3h0.5v0.5h-0.5zM373.7,87.5h0.5v0.5h-0.5zM387.2,77.3h0.5v0.5h-0.5zM380.7,77.2h0.5v0.5h-0.5zM367.1,89.3h0.5v0.5h-0.5zM397.8,74.1h0.5v0.5h-0.5zM362.5,86.0h0.5v0.5h-0.5zM391.4,77.4h0.5v0.5h-0.5zM383.5,85.0h0.5v0.5h-0.5zM388.1,86.4h0.5v0.5h-0.5zM386.8,86.6h0.5v0.5h-0.5zM400.0,82.2h0.5v0.5h-0.5zM373.8,82.9h0.5v0.5h-0.5zM396.6,72.1h0.5v0.5h-0.5zM391.0,70.3h0.5v0.5h-0.5zM388.7,77.5h0.5v0.5h-0.5zM364.0,95.1h0.5v0.5h-0.5zM381.8,81.9h0.5v0.5h-0.5zM373.1,91.0h0.5v0.5h-0.5zM365.4,88.2h0.5v0.5h-0.5zM372.7,87.7h0.5v0.5h-0.5zM367.9,80.1h0.5v0.5h-0.5zM367.7,89.7h0.5v0.5h-0.5zM396.6,79.9h0.5v0.5h-0.5zM379.2,76.8h0.5v0.5h-0.5zM384.7,70.1h0.5v0.5h-0.5zM394.9,71.8h0.5v0.5h-0.5zM390.6,76.7h0.5v0.5h-0.5zM397.8,75.4h0.5v0.5h-0.5zM375.8,86.4h0.5v0.5h-0.5zM377.0,80.7h0.5v0.5h-0.5zM375.0,84.3h0.5v0.5h-0.5zM374.5,71.9h0.5v0.5h-0.5zM381.8,79.3h0.5v0.5h-0.5zM399.3,76.7h0.5v0.5h-0.5zM368.5,95.3h0.5v0.5h-0.5zM363.7,90.4h0.5v0.5h-0.5zM398.9,80.3h0.5v0.5h-0.5zM367.8,93.3h0.5v0.5h-0.5zM395.9,67.6h0.5v0.5h-0.5zM367.4,97.6h0.5v0.5h-0.5zM387.3,80.3h0.5v0.5h-0.5zM383.4,81.7h0.5v0.5h-0.5zM395.5,67.5h0.5v0.5h-0.5zM385.2,66.6h0.5v0.5h-0.5z" fill="#555"/>
<path d="M378.4,63.3h0.45v0.45h-0.45zM378.8,70.7h0.45v0.45h-0.45zM378.8,82.4h0.45v0.45h-0.45zM376.9,71.6h0.45v0.45h-0.45zM390.5,86.8h0.45v0.45h-0.45zM376.1,63.4h0.45v0.45h-0.45zM376.1,96.5h0.45v0.45h-0.45zM408.2,96.7h0.45v0.45h-0.45zM352.9,78.7h0.45v0.45h-0.45zM366.2,106.4h0.45v0.45h-0.45zM406.0,125.3h0.45v0.45h-0.45zM406.7,121.8h0.45v0.45h-0.45zM400.7,122.5h0.45v0.45h-0.45zM345.3,91.8h0.45v0.45h-0.45zM383.0,105.3h0.45v0.45h-0.45zM384.4,100.3h0.45v0.45h-0.45zM405.6,64.0h0.45v0.45h-0.45zM378.3,124.2h0.45v0.45h-0.45zM346.1,65.7h0.45v0.45h-0.45zM401.4,124.0h0.45v0.45h-0.45zM345.6,60.2h0.45v0.45h-0.45zM398.8,105.5h0.45v0.45h-0.45zM378.3,98.0h0.45v0.45h-0.45zM394.0,113.7h0.45v0.45h-0.45zM344.0,62.7h0.45v0.45h-0.45zM396.4,125.3h0.45v0.45h-0.45zM399.0,86.1h0.45v0.45h-0.45zM366.1,81.9h0.45v0.45h-0.45zM345.0,111.1h0.45v0.45h-0.45zM361.3,98.4h0.45v0.45h-0.45zM378.7,81.1h0.45v0.45h-0.45zM388.5,89.4h0.45v0.45h-0.45zM359.5,118.8h0.45v0.45h-0.45zM355.6,68.3h0.45v0.45h-0.45zM360.7,91.1h0.45v0.45h-0.45z" fill="#888"/>
<path d="M354.6,105.5 L360.2,105.5 L360.2,108.0 L359.8,112.0 L359.2,118.0 L358.3,123.0 L357.2,126.0 L355.2,126.0 L354.3,122.0 L353.9,114.0 L354.1,108.0 Z" fill="#000" stroke="#000" stroke-width="0.6" stroke-linejoin="round"/>
<path d="M361.3,54.4 L413.4,54.4 L413.4,100.7 L361.3,100.7 Z" fill="none" stroke="#555" stroke-width="0.8" />
<path d="M345.3,54.4 L361.3,54.4 M345.3,54.4 L345.3,100.7 L361.3,100.7 M413.4,54.4 L413.4,100.7" fill="none" stroke="#c0504d" stroke-width="0.9" />
<text x="351.10" y="62.14" font-size="5.35" fill="#111" text-anchor="middle" textLength="26.0" lengthAdjust="spacingAndGlyphs" stroke="#111" stroke-width="0.08">Total CD41+</text>
<text x="351.10" y="67.14" font-size="5.35" fill="#111" text-anchor="middle" textLength="9.0" lengthAdjust="spacingAndGlyphs" stroke="#111" stroke-width="0.08">8.33</text>
<text x="397.80" y="106.74" font-size="5.35" fill="#111" text-anchor="middle" textLength="29.0" lengthAdjust="spacingAndGlyphs" stroke="#111" stroke-width="0.08">CD41+CD42+</text>
<text x="397.80" y="111.84" font-size="5.35" fill="#111" text-anchor="middle" textLength="8.6" lengthAdjust="spacingAndGlyphs" stroke="#111" stroke-width="0.08">5.68</text>
<rect x="432.00" y="51.30" width="78.20" height="77.90" fill="none" stroke="#8d8d8d" stroke-width="0.8" />
<path d="M453.3,112.6h0.55v0.55h-0.55zM455.5,100.8h0.55v0.55h-0.55zM453.2,107.5h0.55v0.55h-0.55zM454.5,114.7h0.55v0.55h-0.55zM451.3,104.2h0.55v0.55h-0.55zM452.0,102.0h0.55v0.55h-0.55zM453.2,102.4h0.55v0.55h-0.55zM452.4,122.0h0.55v0.55h-0.55zM454.8,102.1h0.55v0.55h-0.55zM449.1,125.7h0.55v0.55h-0.55zM453.4,103.4h0.55v0.55h-0.55zM451.5,116.3h0.55v0.55h-0.55zM449.9,118.3h0.55v0.55h-0.55zM452.0,110.7h0.55v0.55h-0.55zM453.3,115.7h0.55v0.55h-0.55zM450.5,119.0h0.55v0.55h-0.55zM451.2,125.4h0.55v0.55h-0.55zM452.7,118.1h0.55v0.55h-0.55zM452.4,103.4h0.55v0.55h-0.55zM452.7,121.2h0.55v0.55h-0.55zM453.6,101.2h0.55v0.55h-0.55zM454.2,106.2h0.55v0.55h-0.55zM451.7,110.4h0.55v0.55h-0.55zM453.2,105.0h0.55v0.55h-0.55zM452.8,101.4h0.55v0.55h-0.55zM454.6,101.8h0.55v0.55h-0.55zM451.7,105.8h0.55v0.55h-0.55zM449.7,112.8h0.55v0.55h-0.55zM454.1,104.8h0.55v0.55h-0.55zM450.0,119.6h0.55v0.55h-0.55zM453.0,100.7h0.55v0.55h-0.55zM456.0,106.7h0.55v0.55h-0.55zM449.4,101.5h0.55v0.55h-0.55zM455.9,113.3h0.55v0.55h-0.55zM452.7,108.7h0.55v0.55h-0.55zM456.3,106.4h0.55v0.55h-0.55zM450.5,112.7h0.55v0.55h-0.55zM451.6,123.3h0.55v0.55h-0.55zM451.0,107.9h0.55v0.55h-0.55zM452.6,113.6h0.55v0.55h-0.55zM451.2,118.5h0.55v0.55h-0.55zM452.7,117.9h0.55v0.55h-0.55zM454.1,103.9h0.55v0.55h-0.55zM450.4,111.6h0.55v0.55h-0.55zM448.8,114.8h0.55v0.55h-0.55zM454.4,119.9h0.55v0.55h-0.55zM454.5,115.5h0.55v0.55h-0.55zM454.1,109.4h0.55v0.55h-0.55zM451.0,119.3h0.55v0.55h-0.55zM450.4,123.5h0.55v0.55h-0.55zM452.7,123.4h0.55v0.55h-0.55zM453.1,110.2h0.55v0.55h-0.55zM453.7,109.5h0.55v0.55h-0.55zM456.3,114.3h0.55v0.55h-0.55zM455.8,103.7h0.55v0.55h-0.55zM452.7,106.8h0.55v0.55h-0.55zM452.2,108.8h0.55v0.55h-0.55zM452.9,108.5h0.55v0.55h-0.55zM453.6,119.9h0.55v0.55h-0.55zM457.2,101.3h0.55v0.55h-0.55zM452.9,111.8h0.55v0.55h-0.55zM455.1,106.6h0.55v0.55h-0.55zM452.4,124.6h0.55v0.55h-0.55zM452.1,105.6h0.55v0.55h-0.55zM454.4,106.1h0.55v0.55h-0.55zM453.5,104.6h0.55v0.55h-0.55zM452.0,116.0h0.55v0.55h-0.55zM449.4,122.3h0.55v0.55h-0.55zM455.9,106.3h0.55v0.55h-0.55zM451.8,117.7h0.55v0.55h-0.55zM453.5,125.3h0.55v0.55h-0.55zM451.9,119.2h0.55v0.55h-0.55zM452.6,113.2h0.55v0.55h-0.55zM453.5,106.3h0.55v0.55h-0.55zM456.0,106.9h0.55v0.55h-0.55zM451.4,124.4h0.55v0.55h-0.55zM455.1,110.4h0.55v0.55h-0.55zM455.9,103.7h0.55v0.55h-0.55zM453.6,122.0h0.55v0.55h-0.55zM453.6,116.3h0.55v0.55h-0.55zM453.2,110.9h0.55v0.55h-0.55zM452.1,121.1h0.55v0.55h-0.55zM452.2,105.7h0.55v0.55h-0.55zM448.5,101.8h0.55v0.55h-0.55zM451.3,122.8h0.55v0.55h-0.55zM453.8,108.3h0.55v0.55h-0.55zM449.8,122.6h0.55v0.55h-0.55zM453.9,101.1h0.55v0.55h-0.55zM453.2,100.8h0.55v0.55h-0.55zM453.0,108.1h0.55v0.55h-0.55zM453.9,105.2h0.55v0.55h-0.55zM456.7,103.1h0.55v0.55h-0.55zM453.9,114.2h0.55v0.55h-0.55zM451.4,120.9h0.55v0.55h-0.55zM454.2,116.7h0.55v0.55h-0.55zM452.2,111.1h0.55v0.55h-0.55zM451.7,118.7h0.55v0.55h-0.55zM455.7,122.3h0.55v0.55h-0.55zM451.1,124.9h0.55v0.55h-0.55zM453.3,116.0h0.55v0.55h-0.55zM451.0,121.9h0.55v0.55h-0.55zM452.9,102.6h0.55v0.55h-0.55zM452.5,100.7h0.55v0.55h-0.55zM450.2,116.2h0.55v0.55h-0.55zM450.2,125.0h0.55v0.55h-0.55zM448.4,106.3h0.55v0.55h-0.55zM452.4,112.6h0.55v0.55h-0.55zM455.0,114.3h0.55v0.55h-0.55zM450.2,106.7h0.55v0.55h-0.55zM451.7,125.7h0.55v0.55h-0.55zM449.3,124.3h0.55v0.55h-0.55zM452.5,115.8h0.55v0.55h-0.55zM452.9,100.8h0.55v0.55h-0.55zM453.1,121.6h0.55v0.55h-0.55zM449.5,109.2h0.55v0.55h-0.55zM454.5,112.9h0.55v0.55h-0.55zM453.1,116.4h0.55v0.55h-0.55zM452.0,110.3h0.55v0.55h-0.55zM457.9,103.7h0.55v0.55h-0.55zM453.4,106.9h0.55v0.55h-0.55zM452.5,103.1h0.55v0.55h-0.55zM454.5,114.5h0.55v0.55h-0.55zM452.5,115.2h0.55v0.55h-0.55zM451.4,125.9h0.55v0.55h-0.55zM452.7,113.3h0.55v0.55h-0.55zM452.4,105.7h0.55v0.55h-0.55zM454.9,109.9h0.55v0.55h-0.55zM456.2,109.0h0.55v0.55h-0.55zM454.9,110.6h0.55v0.55h-0.55zM451.1,117.6h0.55v0.55h-0.55zM454.5,106.9h0.55v0.55h-0.55zM458.8,104.9h0.55v0.55h-0.55zM452.7,107.7h0.55v0.55h-0.55zM452.4,116.8h0.55v0.55h-0.55zM457.0,115.5h0.55v0.55h-0.55zM450.9,124.4h0.55v0.55h-0.55zM453.7,112.4h0.55v0.55h-0.55zM454.8,106.6h0.55v0.55h-0.55zM454.2,119.0h0.55v0.55h-0.55zM450.7,118.7h0.55v0.55h-0.55zM456.7,108.3h0.55v0.55h-0.55zM451.1,110.5h0.55v0.55h-0.55zM452.9,123.5h0.55v0.55h-0.55zM455.4,108.5h0.55v0.55h-0.55zM452.2,111.1h0.55v0.55h-0.55zM452.0,108.3h0.55v0.55h-0.55zM453.4,103.6h0.55v0.55h-0.55zM449.8,115.8h0.55v0.55h-0.55zM451.7,104.2h0.55v0.55h-0.55zM454.9,124.3h0.55v0.55h-0.55zM453.6,109.9h0.55v0.55h-0.55zM456.0,114.6h0.55v0.55h-0.55zM457.0,107.1h0.55v0.55h-0.55zM452.0,116.2h0.55v0.55h-0.55zM452.2,121.9h0.55v0.55h-0.55zM455.4,101.0h0.55v0.55h-0.55zM451.1,109.7h0.55v0.55h-0.55zM451.7,113.8h0.55v0.55h-0.55zM452.8,122.0h0.55v0.55h-0.55zM452.2,122.1h0.55v0.55h-0.55zM453.7,94.4h0.55v0.55h-0.55zM450.1,87.9h0.55v0.55h-0.55zM455.7,89.5h0.55v0.55h-0.55zM450.3,92.2h0.55v0.55h-0.55zM457.8,99.3h0.55v0.55h-0.55zM453.2,100.2h0.55v0.55h-0.55zM449.0,90.0h0.55v0.55h-0.55zM451.5,95.9h0.55v0.55h-0.55zM457.7,100.7h0.55v0.55h-0.55zM452.5,89.6h0.55v0.55h-0.55zM455.1,91.8h0.55v0.55h-0.55zM451.8,80.3h0.55v0.55h-0.55zM453.5,93.5h0.55v0.55h-0.55zM453.4,85.7h0.55v0.55h-0.55zM449.9,92.2h0.55v0.55h-0.55zM452.4,86.0h0.55v0.55h-0.55zM453.1,100.2h0.55v0.55h-0.55zM449.6,88.7h0.55v0.55h-0.55zM451.5,98.9h0.55v0.55h-0.55zM452.3,79.5h0.55v0.55h-0.55zM450.8,101.0h0.55v0.55h-0.55zM450.4,84.1h0.55v0.55h-0.55zM455.4,78.6h0.55v0.55h-0.55zM450.9,97.5h0.55v0.55h-0.55zM457.6,101.0h0.55v0.55h-0.55zM453.0,90.6h0.55v0.55h-0.55zM450.6,88.1h0.55v0.55h-0.55zM454.2,90.9h0.55v0.55h-0.55zM455.0,83.0h0.55v0.55h-0.55zM455.1,96.1h0.55v0.55h-0.55zM457.8,84.5h0.55v0.55h-0.55zM456.6,97.3h0.55v0.55h-0.55zM456.9,95.6h0.55v0.55h-0.55zM454.4,85.7h0.55v0.55h-0.55zM452.8,100.2h0.55v0.55h-0.55zM452.9,95.7h0.55v0.55h-0.55zM457.9,87.2h0.55v0.55h-0.55zM456.5,98.8h0.55v0.55h-0.55zM455.4,86.3h0.55v0.55h-0.55zM450.5,82.8h0.55v0.55h-0.55zM457.0,91.2h0.55v0.55h-0.55zM455.4,88.4h0.55v0.55h-0.55zM453.7,97.1h0.55v0.55h-0.55zM454.4,99.6h0.55v0.55h-0.55zM454.7,82.8h0.55v0.55h-0.55zM456.1,97.8h0.55v0.55h-0.55zM451.5,98.3h0.55v0.55h-0.55zM452.3,83.8h0.55v0.55h-0.55zM451.2,86.4h0.55v0.55h-0.55zM455.4,91.3h0.55v0.55h-0.55zM455.1,93.1h0.55v0.55h-0.55zM453.1,85.1h0.55v0.55h-0.55zM454.7,86.4h0.55v0.55h-0.55zM455.1,97.5h0.55v0.55h-0.55zM452.9,84.0h0.55v0.55h-0.55zM451.7,91.3h0.55v0.55h-0.55zM452.8,94.2h0.55v0.55h-0.55zM453.3,90.2h0.55v0.55h-0.55zM450.7,94.1h0.55v0.55h-0.55zM453.2,96.7h0.55v0.55h-0.55zM454.8,100.1h0.55v0.55h-0.55zM456.6,99.7h0.55v0.55h-0.55zM452.9,90.1h0.55v0.55h-0.55zM457.0,98.9h0.55v0.55h-0.55zM451.7,87.2h0.55v0.55h-0.55zM454.2,98.8h0.55v0.55h-0.55zM453.5,81.8h0.55v0.55h-0.55zM456.1,100.4h0.55v0.55h-0.55zM451.2,96.1h0.55v0.55h-0.55zM450.9,98.9h0.55v0.55h-0.55zM454.5,90.7h0.55v0.55h-0.55zM452.9,82.5h0.55v0.55h-0.55zM457.0,92.2h0.55v0.55h-0.55zM455.2,95.1h0.55v0.55h-0.55zM451.7,98.8h0.55v0.55h-0.55zM457.6,97.6h0.55v0.55h-0.55zM454.4,82.2h0.55v0.55h-0.55zM456.4,91.3h0.55v0.55h-0.55zM450.8,79.2h0.55v0.55h-0.55zM451.1,95.5h0.55v0.55h-0.55zM456.6,100.9h0.55v0.55h-0.55zM453.8,100.5h0.55v0.55h-0.55zM456.5,88.2h0.55v0.55h-0.55zM456.2,80.1h0.55v0.55h-0.55zM457.1,84.3h0.55v0.55h-0.55zM449.2,85.6h0.55v0.55h-0.55zM449.1,77.9h0.55v0.55h-0.55zM452.7,93.0h0.55v0.55h-0.55zM452.1,93.0h0.55v0.55h-0.55zM454.6,96.7h0.55v0.55h-0.55zM448.6,94.3h0.55v0.55h-0.55zM455.7,92.7h0.55v0.55h-0.55zM456.2,95.9h0.55v0.55h-0.55zM455.8,89.9h0.55v0.55h-0.55zM458.1,95.7h0.55v0.55h-0.55zM452.5,80.9h0.55v0.55h-0.55zM457.0,96.8h0.55v0.55h-0.55zM449.2,91.7h0.55v0.55h-0.55zM449.8,91.7h0.55v0.55h-0.55zM450.9,90.4h0.55v0.55h-0.55zM455.4,97.1h0.55v0.55h-0.55zM449.8,78.1h0.55v0.55h-0.55zM454.5,95.3h0.55v0.55h-0.55zM450.1,81.0h0.55v0.55h-0.55zM451.2,93.0h0.55v0.55h-0.55zM455.5,89.8h0.55v0.55h-0.55zM452.7,93.2h0.55v0.55h-0.55zM452.6,80.7h0.55v0.55h-0.55zM457.2,93.3h0.55v0.55h-0.55zM452.1,87.5h0.55v0.55h-0.55zM455.6,94.9h0.55v0.55h-0.55zM454.8,91.6h0.55v0.55h-0.55zM456.0,96.4h0.55v0.55h-0.55zM453.6,97.7h0.55v0.55h-0.55zM452.3,91.7h0.55v0.55h-0.55zM452.1,83.4h0.55v0.55h-0.55zM451.1,96.7h0.55v0.55h-0.55zM450.2,82.3h0.55v0.55h-0.55zM456.2,96.8h0.55v0.55h-0.55zM457.1,94.5h0.55v0.55h-0.55zM452.2,78.3h0.55v0.55h-0.55zM456.1,100.7h0.55v0.55h-0.55zM456.2,100.2h0.55v0.55h-0.55zM457.0,93.8h0.55v0.55h-0.55zM451.5,86.3h0.55v0.55h-0.55zM450.7,90.4h0.55v0.55h-0.55zM453.2,100.6h0.55v0.55h-0.55zM451.7,89.8h0.55v0.55h-0.55zM451.4,84.9h0.55v0.55h-0.55zM450.6,82.9h0.55v0.55h-0.55zM451.3,84.2h0.55v0.55h-0.55zM453.6,86.2h0.55v0.55h-0.55zM455.3,88.6h0.55v0.55h-0.55zM451.8,80.8h0.55v0.55h-0.55zM450.0,98.6h0.55v0.55h-0.55zM455.3,100.9h0.55v0.55h-0.55zM453.1,100.3h0.55v0.55h-0.55zM453.5,97.1h0.55v0.55h-0.55zM451.9,85.1h0.55v0.55h-0.55zM452.2,98.2h0.55v0.55h-0.55zM457.0,80.0h0.55v0.55h-0.55zM453.0,82.1h0.55v0.55h-0.55zM450.4,96.8h0.55v0.55h-0.55zM457.0,93.3h0.55v0.55h-0.55zM451.6,94.6h0.55v0.55h-0.55zM455.3,93.7h0.55v0.55h-0.55zM455.2,99.4h0.55v0.55h-0.55zM454.7,97.2h0.55v0.55h-0.55zM451.0,100.3h0.55v0.55h-0.55zM453.2,89.9h0.55v0.55h-0.55zM455.0,96.6h0.55v0.55h-0.55zM452.2,86.7h0.55v0.55h-0.55zM451.6,84.0h0.55v0.55h-0.55zM453.8,79.3h0.55v0.55h-0.55zM451.3,99.2h0.55v0.55h-0.55zM453.7,99.9h0.55v0.55h-0.55zM455.7,95.2h0.55v0.55h-0.55zM451.8,79.1h0.55v0.55h-0.55zM453.0,95.8h0.55v0.55h-0.55zM454.2,97.3h0.55v0.55h-0.55zM454.3,100.0h0.55v0.55h-0.55zM455.8,82.9h0.55v0.55h-0.55zM450.9,94.6h0.55v0.55h-0.55zM454.8,85.8h0.55v0.55h-0.55zM451.8,101.0h0.55v0.55h-0.55zM450.7,92.9h0.55v0.55h-0.55zM455.9,85.0h0.55v0.55h-0.55zM452.6,100.6h0.55v0.55h-0.55zM453.5,92.9h0.55v0.55h-0.55zM456.1,98.7h0.55v0.55h-0.55zM455.8,78.8h0.55v0.55h-0.55zM455.6,81.3h0.55v0.55h-0.55zM455.8,89.3h0.55v0.55h-0.55zM455.1,98.4h0.55v0.55h-0.55zM450.8,80.1h0.55v0.55h-0.55zM450.9,84.5h0.55v0.55h-0.55zM451.8,84.3h0.55v0.55h-0.55zM453.4,94.2h0.55v0.55h-0.55zM455.8,99.4h0.55v0.55h-0.55zM453.6,77.6h0.55v0.55h-0.55zM449.8,100.9h0.55v0.55h-0.55zM452.8,85.3h0.55v0.55h-0.55zM452.0,98.3h0.55v0.55h-0.55zM451.4,88.3h0.55v0.55h-0.55zM455.3,94.6h0.55v0.55h-0.55zM455.6,96.6h0.55v0.55h-0.55zM454.5,100.8h0.55v0.55h-0.55zM456.1,91.9h0.55v0.55h-0.55zM455.3,97.1h0.55v0.55h-0.55zM454.1,100.7h0.55v0.55h-0.55zM451.2,96.1h0.55v0.55h-0.55zM451.9,94.1h0.55v0.55h-0.55zM451.4,100.3h0.55v0.55h-0.55zM450.4,86.2h0.55v0.55h-0.55zM455.1,98.0h0.55v0.55h-0.55zM452.8,94.2h0.55v0.55h-0.55zM457.0,100.9h0.55v0.55h-0.55zM454.1,99.0h0.55v0.55h-0.55zM451.0,88.3h0.55v0.55h-0.55zM455.3,98.2h0.55v0.55h-0.55zM450.5,100.8h0.55v0.55h-0.55zM454.3,80.1h0.55v0.55h-0.55zM450.6,93.6h0.55v0.55h-0.55zM452.2,100.7h0.55v0.55h-0.55zM455.0,98.3h0.55v0.55h-0.55zM452.4,98.0h0.55v0.55h-0.55zM452.9,100.3h0.55v0.55h-0.55zM454.5,96.9h0.55v0.55h-0.55zM455.6,80.8h0.55v0.55h-0.55zM450.3,100.8h0.55v0.55h-0.55zM455.4,83.9h0.55v0.55h-0.55zM453.3,100.0h0.55v0.55h-0.55zM450.0,101.0h0.55v0.55h-0.55zM452.4,95.3h0.55v0.55h-0.55zM452.7,82.2h0.55v0.55h-0.55zM458.1,99.8h0.55v0.55h-0.55zM457.1,80.3h0.55v0.55h-0.55zM455.0,99.2h0.55v0.55h-0.55zM455.4,94.7h0.55v0.55h-0.55zM452.7,82.7h0.55v0.55h-0.55zM450.8,83.4h0.55v0.55h-0.55zM450.2,98.5h0.55v0.55h-0.55zM454.2,99.3h0.55v0.55h-0.55zM450.7,80.7h0.55v0.55h-0.55zM452.6,79.8h0.55v0.55h-0.55zM451.1,98.1h0.55v0.55h-0.55zM452.2,94.8h0.55v0.55h-0.55zM449.0,88.9h0.55v0.55h-0.55zM456.0,84.6h0.55v0.55h-0.55zM452.8,80.0h0.55v0.55h-0.55zM451.3,91.8h0.55v0.55h-0.55zM452.4,91.6h0.55v0.55h-0.55zM453.2,91.9h0.55v0.55h-0.55zM450.9,97.2h0.55v0.55h-0.55zM452.8,98.6h0.55v0.55h-0.55zM450.2,81.5h0.55v0.55h-0.55zM449.8,79.5h0.55v0.55h-0.55zM451.0,88.5h0.55v0.55h-0.55zM456.2,99.1h0.55v0.55h-0.55zM452.3,100.4h0.55v0.55h-0.55zM455.8,96.4h0.55v0.55h-0.55zM451.2,97.0h0.55v0.55h-0.55zM451.1,100.7h0.55v0.55h-0.55zM450.6,96.2h0.55v0.55h-0.55zM450.5,82.4h0.55v0.55h-0.55zM453.2,100.9h0.55v0.55h-0.55zM454.6,99.2h0.55v0.55h-0.55zM455.6,86.1h0.55v0.55h-0.55zM455.3,96.1h0.55v0.55h-0.55zM455.0,96.3h0.55v0.55h-0.55zM455.2,99.4h0.55v0.55h-0.55zM450.9,85.9h0.55v0.55h-0.55zM454.2,96.2h0.55v0.55h-0.55zM455.0,92.2h0.55v0.55h-0.55zM452.2,88.1h0.55v0.55h-0.55zM454.4,99.3h0.55v0.55h-0.55zM451.4,92.6h0.55v0.55h-0.55zM451.4,99.3h0.55v0.55h-0.55zM450.3,79.1h0.55v0.55h-0.55zM450.7,83.1h0.55v0.55h-0.55zM455.1,92.5h0.55v0.55h-0.55zM454.7,89.2h0.55v0.55h-0.55zM451.1,93.6h0.55v0.55h-0.55zM453.9,100.4h0.55v0.55h-0.55zM450.9,95.2h0.55v0.55h-0.55zM454.3,83.8h0.55v0.55h-0.55zM456.7,94.8h0.55v0.55h-0.55zM453.7,100.9h0.55v0.55h-0.55zM455.3,98.7h0.55v0.55h-0.55zM451.8,82.8h0.55v0.55h-0.55zM451.0,83.9h0.55v0.55h-0.55zM453.4,98.6h0.55v0.55h-0.55zM455.8,96.2h0.55v0.55h-0.55zM450.5,98.6h0.55v0.55h-0.55zM453.4,83.5h0.55v0.55h-0.55zM455.1,98.6h0.55v0.55h-0.55zM451.0,95.5h0.55v0.55h-0.55zM450.2,99.8h0.55v0.55h-0.55zM451.7,93.3h0.55v0.55h-0.55zM451.2,100.6h0.55v0.55h-0.55zM450.7,98.9h0.55v0.55h-0.55zM453.2,95.7h0.55v0.55h-0.55zM452.7,79.1h0.55v0.55h-0.55zM453.8,88.4h0.55v0.55h-0.55zM452.0,84.1h0.55v0.55h-0.55zM456.6,97.0h0.55v0.55h-0.55zM451.2,98.4h0.55v0.55h-0.55zM457.7,93.2h0.55v0.55h-0.55zM451.3,96.9h0.55v0.55h-0.55zM457.1,93.2h0.55v0.55h-0.55zM454.5,79.4h0.55v0.55h-0.55zM454.8,81.8h0.55v0.55h-0.55zM455.7,92.4h0.55v0.55h-0.55zM453.4,79.1h0.55v0.55h-0.55zM457.0,96.8h0.55v0.55h-0.55zM457.0,86.4h0.55v0.55h-0.55zM454.0,92.8h0.55v0.55h-0.55zM451.2,87.6h0.55v0.55h-0.55zM456.9,97.1h0.55v0.55h-0.55zM457.5,87.2h0.55v0.55h-0.55zM454.1,83.0h0.55v0.55h-0.55zM455.9,80.7h0.55v0.55h-0.55zM452.5,97.2h0.55v0.55h-0.55zM451.4,99.6h0.55v0.55h-0.55zM455.9,87.5h0.55v0.55h-0.55zM455.8,90.7h0.55v0.55h-0.55zM456.0,99.7h0.55v0.55h-0.55zM456.8,90.6h0.55v0.55h-0.55zM456.8,88.0h0.55v0.55h-0.55zM456.5,80.3h0.55v0.55h-0.55zM450.8,83.3h0.55v0.55h-0.55zM454.0,92.1h0.55v0.55h-0.55zM456.3,81.5h0.55v0.55h-0.55zM451.1,100.8h0.55v0.55h-0.55zM450.3,78.1h0.55v0.55h-0.55zM453.5,88.8h0.55v0.55h-0.55zM457.5,82.3h0.55v0.55h-0.55zM457.0,89.5h0.55v0.55h-0.55zM453.9,95.1h0.55v0.55h-0.55zM454.0,101.0h0.55v0.55h-0.55zM450.8,100.1h0.55v0.55h-0.55zM456.2,95.5h0.55v0.55h-0.55zM450.8,98.9h0.55v0.55h-0.55zM455.1,98.3h0.55v0.55h-0.55zM453.6,78.6h0.55v0.55h-0.55zM451.1,87.0h0.55v0.55h-0.55zM453.6,82.7h0.55v0.55h-0.55zM455.8,98.8h0.55v0.55h-0.55zM450.8,93.6h0.55v0.55h-0.55zM451.6,97.9h0.55v0.55h-0.55z" fill="#333"/>
<path d="M448.1,106.8h0.7v0.7h-0.7zM451.3,106.1h0.7v0.7h-0.7zM454.3,104.9h0.7v0.7h-0.7zM450.5,102.1h0.7v0.7h-0.7zM452.8,106.1h0.7v0.7h-0.7zM453.0,104.2h0.7v0.7h-0.7zM453.5,105.3h0.7v0.7h-0.7zM450.3,105.1h0.7v0.7h-0.7zM448.4,102.6h0.7v0.7h-0.7zM448.2,101.5h0.7v0.7h-0.7zM448.8,107.3h0.7v0.7h-0.7zM448.8,104.8h0.7v0.7h-0.7zM451.4,107.3h0.7v0.7h-0.7zM453.3,101.8h0.7v0.7h-0.7zM454.3,106.5h0.7v0.7h-0.7zM450.5,102.1h0.7v0.7h-0.7zM449.7,105.2h0.7v0.7h-0.7zM452.5,104.5h0.7v0.7h-0.7zM453.3,105.8h0.7v0.7h-0.7zM449.8,105.8h0.7v0.7h-0.7zM450.7,105.8h0.7v0.7h-0.7zM448.0,101.8h0.7v0.7h-0.7zM450.2,104.9h0.7v0.7h-0.7zM451.1,101.2h0.7v0.7h-0.7zM450.0,103.5h0.7v0.7h-0.7zM451.4,104.5h0.7v0.7h-0.7zM454.3,104.3h0.7v0.7h-0.7zM449.8,106.8h0.7v0.7h-0.7zM449.9,106.6h0.7v0.7h-0.7zM448.3,107.1h0.7v0.7h-0.7zM454.0,102.8h0.7v0.7h-0.7zM452.5,105.2h0.7v0.7h-0.7zM448.7,102.0h0.7v0.7h-0.7zM448.3,107.2h0.7v0.7h-0.7zM450.7,101.8h0.7v0.7h-0.7zM452.3,106.3h0.7v0.7h-0.7zM453.0,107.5h0.7v0.7h-0.7zM453.8,103.6h0.7v0.7h-0.7zM448.2,102.8h0.7v0.7h-0.7zM453.6,107.2h0.7v0.7h-0.7zM451.0,105.2h0.7v0.7h-0.7zM449.3,102.0h0.7v0.7h-0.7zM448.5,101.1h0.7v0.7h-0.7zM453.7,103.9h0.7v0.7h-0.7zM451.2,107.0h0.7v0.7h-0.7zM450.9,105.2h0.7v0.7h-0.7zM452.5,106.0h0.7v0.7h-0.7zM453.4,107.4h0.7v0.7h-0.7zM451.7,105.3h0.7v0.7h-0.7zM451.0,101.8h0.7v0.7h-0.7zM448.9,103.7h0.7v0.7h-0.7zM450.6,102.0h0.7v0.7h-0.7zM452.0,101.8h0.7v0.7h-0.7zM454.3,102.9h0.7v0.7h-0.7zM451.3,105.3h0.7v0.7h-0.7zM450.4,103.6h0.7v0.7h-0.7zM454.2,102.0h0.7v0.7h-0.7zM452.1,106.9h0.7v0.7h-0.7zM448.8,105.1h0.7v0.7h-0.7zM449.0,104.3h0.7v0.7h-0.7zM451.7,102.8h0.7v0.7h-0.7zM449.4,101.8h0.7v0.7h-0.7zM451.1,105.6h0.7v0.7h-0.7zM448.9,106.7h0.7v0.7h-0.7zM454.0,101.2h0.7v0.7h-0.7zM452.4,104.8h0.7v0.7h-0.7zM448.9,104.4h0.7v0.7h-0.7zM451.1,107.3h0.7v0.7h-0.7zM448.9,106.9h0.7v0.7h-0.7zM451.5,102.5h0.7v0.7h-0.7zM453.5,102.3h0.7v0.7h-0.7zM448.4,102.4h0.7v0.7h-0.7zM449.7,101.7h0.7v0.7h-0.7zM453.6,107.1h0.7v0.7h-0.7zM450.7,105.2h0.7v0.7h-0.7zM453.3,100.9h0.7v0.7h-0.7zM449.2,101.5h0.7v0.7h-0.7zM453.5,103.6h0.7v0.7h-0.7zM448.3,101.9h0.7v0.7h-0.7zM448.0,106.9h0.7v0.7h-0.7zM448.8,105.7h0.7v0.7h-0.7zM449.2,102.7h0.7v0.7h-0.7zM453.9,103.6h0.7v0.7h-0.7zM451.4,106.4h0.7v0.7h-0.7zM449.0,101.2h0.7v0.7h-0.7zM453.1,102.6h0.7v0.7h-0.7zM448.1,106.9h0.7v0.7h-0.7zM454.1,102.9h0.7v0.7h-0.7zM448.4,101.6h0.7v0.7h-0.7zM453.7,102.4h0.7v0.7h-0.7zM452.6,102.4h0.7v0.7h-0.7zM452.2,101.4h0.7v0.7h-0.7zM451.8,101.8h0.7v0.7h-0.7zM453.6,105.7h0.7v0.7h-0.7zM454.3,103.6h0.7v0.7h-0.7zM454.1,103.4h0.7v0.7h-0.7zM454.4,106.9h0.7v0.7h-0.7zM449.7,101.3h0.7v0.7h-0.7zM453.7,105.4h0.7v0.7h-0.7zM452.9,102.4h0.7v0.7h-0.7zM447.9,103.9h0.7v0.7h-0.7zM447.9,101.2h0.7v0.7h-0.7zM454.0,102.2h0.7v0.7h-0.7zM453.5,105.3h0.7v0.7h-0.7zM450.5,106.9h0.7v0.7h-0.7zM452.2,105.4h0.7v0.7h-0.7zM448.5,105.4h0.7v0.7h-0.7zM448.9,106.7h0.7v0.7h-0.7zM452.4,103.7h0.7v0.7h-0.7zM453.3,105.7h0.7v0.7h-0.7zM449.8,102.8h0.7v0.7h-0.7zM448.2,105.6h0.7v0.7h-0.7zM449.9,106.6h0.7v0.7h-0.7zM449.9,103.3h0.7v0.7h-0.7zM449.0,105.5h0.7v0.7h-0.7zM448.3,101.5h0.7v0.7h-0.7zM452.0,101.5h0.7v0.7h-0.7zM447.9,107.4h0.7v0.7h-0.7zM450.2,103.8h0.7v0.7h-0.7zM450.1,102.7h0.7v0.7h-0.7zM450.7,101.3h0.7v0.7h-0.7zM448.3,102.4h0.7v0.7h-0.7zM453.9,101.5h0.7v0.7h-0.7zM454.3,105.6h0.7v0.7h-0.7zM452.7,106.2h0.7v0.7h-0.7zM448.6,102.2h0.7v0.7h-0.7zM452.3,107.4h0.7v0.7h-0.7zM448.8,105.6h0.7v0.7h-0.7zM451.4,106.1h0.7v0.7h-0.7zM449.3,101.2h0.7v0.7h-0.7zM451.9,107.3h0.7v0.7h-0.7zM448.4,101.2h0.7v0.7h-0.7zM450.2,105.8h0.7v0.7h-0.7zM448.8,103.9h0.7v0.7h-0.7zM451.1,101.8h0.7v0.7h-0.7zM449.1,103.5h0.7v0.7h-0.7zM450.8,101.6h0.7v0.7h-0.7zM448.3,101.4h0.7v0.7h-0.7zM448.2,103.9h0.7v0.7h-0.7zM452.9,105.7h0.7v0.7h-0.7zM454.1,105.5h0.7v0.7h-0.7zM450.6,101.7h0.7v0.7h-0.7zM448.4,103.5h0.7v0.7h-0.7zM448.2,106.5h0.7v0.7h-0.7zM452.3,107.4h0.7v0.7h-0.7zM448.3,107.4h0.7v0.7h-0.7zM454.2,106.8h0.7v0.7h-0.7zM451.7,106.0h0.7v0.7h-0.7zM451.0,105.1h0.7v0.7h-0.7zM451.7,106.5h0.7v0.7h-0.7zM450.5,104.4h0.7v0.7h-0.7zM451.7,104.9h0.7v0.7h-0.7zM452.9,107.1h0.7v0.7h-0.7zM452.6,102.9h0.7v0.7h-0.7zM451.0,102.2h0.7v0.7h-0.7zM452.6,104.2h0.7v0.7h-0.7zM448.9,101.1h0.7v0.7h-0.7zM451.9,101.9h0.7v0.7h-0.7zM451.5,101.8h0.7v0.7h-0.7zM450.7,106.7h0.7v0.7h-0.7zM451.8,102.1h0.7v0.7h-0.7zM450.7,103.4h0.7v0.7h-0.7zM452.3,101.8h0.7v0.7h-0.7zM454.3,103.0h0.7v0.7h-0.7zM452.3,104.0h0.7v0.7h-0.7zM454.3,107.0h0.7v0.7h-0.7zM453.9,100.7h0.7v0.7h-0.7zM454.1,101.3h0.7v0.7h-0.7zM449.6,106.0h0.7v0.7h-0.7zM451.6,105.5h0.7v0.7h-0.7z" fill="#111"/>
<path d="M483.3,75.7h0.5v0.5h-0.5zM489.2,72.0h0.5v0.5h-0.5zM462.1,75.9h0.5v0.5h-0.5zM471.7,82.4h0.5v0.5h-0.5zM497.3,70.5h0.5v0.5h-0.5zM459.1,93.0h0.5v0.5h-0.5zM462.9,82.0h0.5v0.5h-0.5zM489.3,63.6h0.5v0.5h-0.5zM465.1,78.9h0.5v0.5h-0.5zM468.5,78.8h0.5v0.5h-0.5zM465.5,96.7h0.5v0.5h-0.5zM469.3,73.3h0.5v0.5h-0.5zM463.4,88.4h0.5v0.5h-0.5zM458.2,85.6h0.5v0.5h-0.5zM502.9,65.3h0.5v0.5h-0.5zM489.4,75.5h0.5v0.5h-0.5zM490.2,70.3h0.5v0.5h-0.5zM497.9,65.7h0.5v0.5h-0.5zM476.3,82.6h0.5v0.5h-0.5zM473.4,92.4h0.5v0.5h-0.5zM477.4,78.6h0.5v0.5h-0.5zM494.5,74.0h0.5v0.5h-0.5zM467.4,93.0h0.5v0.5h-0.5zM496.5,68.2h0.5v0.5h-0.5zM476.8,74.6h0.5v0.5h-0.5zM464.0,93.4h0.5v0.5h-0.5zM468.6,87.1h0.5v0.5h-0.5zM471.6,85.1h0.5v0.5h-0.5zM466.8,87.0h0.5v0.5h-0.5zM469.6,82.6h0.5v0.5h-0.5zM455.5,79.0h0.5v0.5h-0.5zM480.9,71.5h0.5v0.5h-0.5zM476.7,81.1h0.5v0.5h-0.5zM488.1,67.3h0.5v0.5h-0.5zM491.0,71.3h0.5v0.5h-0.5zM473.0,84.0h0.5v0.5h-0.5zM467.5,84.2h0.5v0.5h-0.5zM454.9,78.1h0.5v0.5h-0.5zM482.3,71.2h0.5v0.5h-0.5zM468.5,82.6h0.5v0.5h-0.5zM503.5,65.9h0.5v0.5h-0.5zM492.7,64.1h0.5v0.5h-0.5zM501.7,69.8h0.5v0.5h-0.5zM486.4,69.0h0.5v0.5h-0.5zM457.8,87.4h0.5v0.5h-0.5zM494.7,72.5h0.5v0.5h-0.5zM458.8,88.7h0.5v0.5h-0.5zM459.6,82.0h0.5v0.5h-0.5zM475.0,79.3h0.5v0.5h-0.5zM474.1,90.3h0.5v0.5h-0.5zM470.5,85.5h0.5v0.5h-0.5zM491.4,67.3h0.5v0.5h-0.5zM463.1,84.3h0.5v0.5h-0.5zM470.8,85.7h0.5v0.5h-0.5zM483.1,80.1h0.5v0.5h-0.5zM496.2,65.3h0.5v0.5h-0.5zM478.2,89.1h0.5v0.5h-0.5zM473.5,85.9h0.5v0.5h-0.5zM467.8,75.6h0.5v0.5h-0.5zM475.7,64.2h0.5v0.5h-0.5zM481.8,76.9h0.5v0.5h-0.5zM475.5,82.4h0.5v0.5h-0.5zM466.5,82.0h0.5v0.5h-0.5zM469.6,82.7h0.5v0.5h-0.5zM475.6,91.2h0.5v0.5h-0.5zM475.3,82.0h0.5v0.5h-0.5zM489.9,71.1h0.5v0.5h-0.5zM478.5,70.4h0.5v0.5h-0.5zM465.2,81.5h0.5v0.5h-0.5zM468.9,80.4h0.5v0.5h-0.5zM498.1,72.8h0.5v0.5h-0.5zM497.0,63.4h0.5v0.5h-0.5zM487.4,76.9h0.5v0.5h-0.5zM496.7,63.8h0.5v0.5h-0.5zM467.7,85.9h0.5v0.5h-0.5zM477.3,81.5h0.5v0.5h-0.5zM501.3,63.1h0.5v0.5h-0.5zM486.6,72.3h0.5v0.5h-0.5zM469.6,75.8h0.5v0.5h-0.5zM488.8,68.4h0.5v0.5h-0.5zM483.8,72.9h0.5v0.5h-0.5zM463.1,89.7h0.5v0.5h-0.5zM459.0,81.2h0.5v0.5h-0.5zM499.6,72.0h0.5v0.5h-0.5zM466.8,84.4h0.5v0.5h-0.5zM473.0,76.1h0.5v0.5h-0.5zM497.0,64.1h0.5v0.5h-0.5zM498.4,64.8h0.5v0.5h-0.5zM471.1,81.8h0.5v0.5h-0.5zM472.8,84.6h0.5v0.5h-0.5zM492.5,75.2h0.5v0.5h-0.5zM466.7,88.4h0.5v0.5h-0.5zM484.5,82.3h0.5v0.5h-0.5zM481.0,79.6h0.5v0.5h-0.5zM497.2,68.0h0.5v0.5h-0.5zM485.8,77.1h0.5v0.5h-0.5zM476.2,88.1h0.5v0.5h-0.5zM496.2,66.7h0.5v0.5h-0.5zM485.1,73.5h0.5v0.5h-0.5zM480.3,73.8h0.5v0.5h-0.5zM466.3,81.8h0.5v0.5h-0.5zM498.2,64.0h0.5v0.5h-0.5zM485.2,74.3h0.5v0.5h-0.5zM501.7,63.8h0.5v0.5h-0.5zM493.0,70.1h0.5v0.5h-0.5zM492.4,77.2h0.5v0.5h-0.5zM473.6,80.7h0.5v0.5h-0.5zM465.2,88.9h0.5v0.5h-0.5zM473.8,80.6h0.5v0.5h-0.5zM498.8,69.3h0.5v0.5h-0.5zM466.5,82.9h0.5v0.5h-0.5zM477.9,80.6h0.5v0.5h-0.5zM463.0,92.2h0.5v0.5h-0.5zM488.9,81.6h0.5v0.5h-0.5zM484.0,69.1h0.5v0.5h-0.5zM464.7,84.8h0.5v0.5h-0.5zM457.6,85.6h0.5v0.5h-0.5zM457.5,88.5h0.5v0.5h-0.5zM494.7,64.5h0.5v0.5h-0.5zM468.6,77.3h0.5v0.5h-0.5zM467.2,85.5h0.5v0.5h-0.5zM469.9,79.5h0.5v0.5h-0.5zM499.5,63.5h0.5v0.5h-0.5zM492.8,64.5h0.5v0.5h-0.5zM464.7,90.4h0.5v0.5h-0.5zM499.9,68.0h0.5v0.5h-0.5zM500.0,69.6h0.5v0.5h-0.5zM462.8,93.1h0.5v0.5h-0.5zM480.8,79.7h0.5v0.5h-0.5zM467.6,78.6h0.5v0.5h-0.5zM467.4,86.3h0.5v0.5h-0.5zM455.3,83.0h0.5v0.5h-0.5zM470.5,89.1h0.5v0.5h-0.5zM466.5,89.3h0.5v0.5h-0.5zM482.0,89.0h0.5v0.5h-0.5zM496.9,80.0h0.5v0.5h-0.5zM459.3,88.6h0.5v0.5h-0.5zM492.9,68.4h0.5v0.5h-0.5zM484.3,75.5h0.5v0.5h-0.5zM489.4,67.7h0.5v0.5h-0.5zM474.4,78.4h0.5v0.5h-0.5zM462.5,83.0h0.5v0.5h-0.5zM491.8,76.5h0.5v0.5h-0.5zM467.1,81.5h0.5v0.5h-0.5zM468.6,85.8h0.5v0.5h-0.5zM478.4,84.6h0.5v0.5h-0.5zM470.2,77.9h0.5v0.5h-0.5zM465.8,81.6h0.5v0.5h-0.5zM460.7,85.9h0.5v0.5h-0.5zM485.9,72.3h0.5v0.5h-0.5zM461.1,83.7h0.5v0.5h-0.5zM497.6,69.6h0.5v0.5h-0.5zM467.1,89.5h0.5v0.5h-0.5zM466.3,81.7h0.5v0.5h-0.5zM482.9,81.1h0.5v0.5h-0.5zM463.9,81.1h0.5v0.5h-0.5zM501.1,67.5h0.5v0.5h-0.5zM495.2,76.1h0.5v0.5h-0.5zM502.8,69.2h0.5v0.5h-0.5zM488.0,71.3h0.5v0.5h-0.5zM496.3,70.9h0.5v0.5h-0.5zM494.0,67.4h0.5v0.5h-0.5zM482.7,72.6h0.5v0.5h-0.5zM484.3,72.1h0.5v0.5h-0.5zM478.4,79.3h0.5v0.5h-0.5zM472.8,90.6h0.5v0.5h-0.5zM481.0,82.2h0.5v0.5h-0.5zM458.4,81.0h0.5v0.5h-0.5zM502.0,67.0h0.5v0.5h-0.5zM460.5,91.6h0.5v0.5h-0.5zM496.6,67.7h0.5v0.5h-0.5zM474.7,82.9h0.5v0.5h-0.5zM487.0,73.2h0.5v0.5h-0.5zM475.1,81.6h0.5v0.5h-0.5zM487.8,74.6h0.5v0.5h-0.5zM496.9,60.3h0.5v0.5h-0.5zM482.8,76.2h0.5v0.5h-0.5zM499.5,69.7h0.5v0.5h-0.5zM483.6,68.0h0.5v0.5h-0.5zM474.2,76.9h0.5v0.5h-0.5zM475.2,77.4h0.5v0.5h-0.5zM494.0,68.6h0.5v0.5h-0.5zM492.0,69.2h0.5v0.5h-0.5zM478.0,87.2h0.5v0.5h-0.5zM468.2,90.3h0.5v0.5h-0.5zM474.2,81.8h0.5v0.5h-0.5zM492.2,62.8h0.5v0.5h-0.5zM489.4,67.8h0.5v0.5h-0.5zM466.2,74.1h0.5v0.5h-0.5zM471.5,88.0h0.5v0.5h-0.5zM467.4,88.2h0.5v0.5h-0.5zM503.9,68.6h0.5v0.5h-0.5zM498.5,69.0h0.5v0.5h-0.5zM499.2,64.7h0.5v0.5h-0.5zM473.1,78.9h0.5v0.5h-0.5zM500.4,68.7h0.5v0.5h-0.5zM473.9,82.6h0.5v0.5h-0.5zM490.6,68.6h0.5v0.5h-0.5zM497.7,62.4h0.5v0.5h-0.5zM495.9,69.5h0.5v0.5h-0.5zM467.4,81.2h0.5v0.5h-0.5zM459.1,85.1h0.5v0.5h-0.5zM460.2,85.7h0.5v0.5h-0.5zM477.4,78.4h0.5v0.5h-0.5zM485.1,69.1h0.5v0.5h-0.5zM470.9,90.5h0.5v0.5h-0.5zM492.5,69.5h0.5v0.5h-0.5zM477.3,75.7h0.5v0.5h-0.5zM456.7,88.0h0.5v0.5h-0.5zM500.4,64.2h0.5v0.5h-0.5zM457.6,84.7h0.5v0.5h-0.5zM475.3,76.6h0.5v0.5h-0.5zM492.7,65.0h0.5v0.5h-0.5zM497.9,69.9h0.5v0.5h-0.5zM497.0,67.9h0.5v0.5h-0.5zM495.2,59.2h0.5v0.5h-0.5zM479.6,79.8h0.5v0.5h-0.5zM466.0,88.2h0.5v0.5h-0.5zM486.2,68.9h0.5v0.5h-0.5zM464.8,85.0h0.5v0.5h-0.5zM476.4,79.4h0.5v0.5h-0.5zM481.2,78.8h0.5v0.5h-0.5zM466.0,82.1h0.5v0.5h-0.5zM479.0,83.4h0.5v0.5h-0.5zM468.0,84.3h0.5v0.5h-0.5zM480.8,65.3h0.5v0.5h-0.5zM499.9,66.9h0.5v0.5h-0.5zM490.3,71.1h0.5v0.5h-0.5zM502.1,64.3h0.5v0.5h-0.5zM487.4,81.3h0.5v0.5h-0.5zM499.1,60.2h0.5v0.5h-0.5zM478.9,77.7h0.5v0.5h-0.5zM457.4,83.5h0.5v0.5h-0.5zM460.5,87.8h0.5v0.5h-0.5zM474.3,85.7h0.5v0.5h-0.5zM501.4,72.5h0.5v0.5h-0.5zM484.6,79.3h0.5v0.5h-0.5zM486.9,71.1h0.5v0.5h-0.5zM492.1,77.5h0.5v0.5h-0.5zM470.4,81.5h0.5v0.5h-0.5zM483.5,78.3h0.5v0.5h-0.5zM465.0,75.6h0.5v0.5h-0.5zM498.2,61.2h0.5v0.5h-0.5zM500.3,64.8h0.5v0.5h-0.5zM496.6,70.3h0.5v0.5h-0.5zM465.7,92.4h0.5v0.5h-0.5zM469.8,87.3h0.5v0.5h-0.5zM463.9,90.0h0.5v0.5h-0.5zM493.7,76.4h0.5v0.5h-0.5zM495.9,67.2h0.5v0.5h-0.5zM484.8,69.9h0.5v0.5h-0.5zM459.4,89.8h0.5v0.5h-0.5zM494.7,75.0h0.5v0.5h-0.5zM474.5,90.7h0.5v0.5h-0.5zM477.8,74.7h0.5v0.5h-0.5zM476.4,75.4h0.5v0.5h-0.5zM503.2,65.1h0.5v0.5h-0.5zM487.2,71.0h0.5v0.5h-0.5zM491.4,70.6h0.5v0.5h-0.5zM483.9,77.8h0.5v0.5h-0.5zM472.6,74.2h0.5v0.5h-0.5zM463.9,91.1h0.5v0.5h-0.5zM486.9,78.6h0.5v0.5h-0.5zM487.7,66.8h0.5v0.5h-0.5zM465.2,83.8h0.5v0.5h-0.5zM503.4,66.8h0.5v0.5h-0.5zM495.5,66.3h0.5v0.5h-0.5zM489.5,71.1h0.5v0.5h-0.5zM502.9,71.8h0.5v0.5h-0.5zM468.3,81.3h0.5v0.5h-0.5zM501.5,63.7h0.5v0.5h-0.5zM459.9,77.4h0.5v0.5h-0.5zM501.9,69.3h0.5v0.5h-0.5zM487.4,69.5h0.5v0.5h-0.5zM481.9,71.6h0.5v0.5h-0.5zM493.8,76.3h0.5v0.5h-0.5zM487.0,66.8h0.5v0.5h-0.5zM476.3,74.5h0.5v0.5h-0.5zM492.0,68.4h0.5v0.5h-0.5zM472.1,70.1h0.5v0.5h-0.5zM501.3,66.3h0.5v0.5h-0.5zM483.9,81.6h0.5v0.5h-0.5zM500.1,64.6h0.5v0.5h-0.5zM463.6,81.9h0.5v0.5h-0.5zM479.0,74.8h0.5v0.5h-0.5zM477.3,82.8h0.5v0.5h-0.5zM486.1,73.3h0.5v0.5h-0.5zM461.8,85.1h0.5v0.5h-0.5zM488.4,65.4h0.5v0.5h-0.5zM467.6,88.3h0.5v0.5h-0.5zM496.9,67.2h0.5v0.5h-0.5zM498.0,62.7h0.5v0.5h-0.5zM458.3,72.6h0.5v0.5h-0.5zM460.1,78.5h0.5v0.5h-0.5zM469.6,83.3h0.5v0.5h-0.5zM490.4,68.5h0.5v0.5h-0.5zM461.0,96.5h0.5v0.5h-0.5zM474.2,86.3h0.5v0.5h-0.5zM490.9,68.6h0.5v0.5h-0.5zM456.3,83.2h0.5v0.5h-0.5zM479.0,82.9h0.5v0.5h-0.5zM474.0,85.1h0.5v0.5h-0.5zM466.6,82.7h0.5v0.5h-0.5zM476.2,94.9h0.5v0.5h-0.5zM497.5,71.9h0.5v0.5h-0.5zM479.4,83.1h0.5v0.5h-0.5zM478.5,82.8h0.5v0.5h-0.5zM475.1,88.6h0.5v0.5h-0.5zM475.2,77.1h0.5v0.5h-0.5zM470.8,89.8h0.5v0.5h-0.5zM467.7,88.0h0.5v0.5h-0.5zM491.2,66.0h0.5v0.5h-0.5zM490.1,69.2h0.5v0.5h-0.5zM488.5,84.6h0.5v0.5h-0.5zM453.5,83.3h0.5v0.5h-0.5zM456.3,83.0h0.5v0.5h-0.5zM488.3,70.9h0.5v0.5h-0.5zM481.7,79.0h0.5v0.5h-0.5zM493.3,74.1h0.5v0.5h-0.5zM474.1,69.6h0.5v0.5h-0.5zM462.8,85.9h0.5v0.5h-0.5zM484.7,70.4h0.5v0.5h-0.5zM480.8,70.3h0.5v0.5h-0.5zM490.6,72.5h0.5v0.5h-0.5zM499.2,63.7h0.5v0.5h-0.5zM484.5,73.2h0.5v0.5h-0.5zM502.0,64.8h0.5v0.5h-0.5zM461.5,89.2h0.5v0.5h-0.5zM497.1,72.0h0.5v0.5h-0.5zM463.5,85.3h0.5v0.5h-0.5zM466.2,75.1h0.5v0.5h-0.5zM486.1,74.7h0.5v0.5h-0.5zM497.4,71.0h0.5v0.5h-0.5zM474.4,80.4h0.5v0.5h-0.5zM468.0,100.7h0.5v0.5h-0.5zM475.1,78.3h0.5v0.5h-0.5zM501.1,67.2h0.5v0.5h-0.5zM488.9,65.7h0.5v0.5h-0.5zM488.2,69.8h0.5v0.5h-0.5zM476.6,78.2h0.5v0.5h-0.5zM471.8,79.1h0.5v0.5h-0.5zM496.0,66.5h0.5v0.5h-0.5zM477.5,84.1h0.5v0.5h-0.5zM503.2,66.6h0.5v0.5h-0.5zM486.7,72.9h0.5v0.5h-0.5zM461.5,90.5h0.5v0.5h-0.5zM465.9,92.0h0.5v0.5h-0.5zM484.2,70.5h0.5v0.5h-0.5zM456.8,86.1h0.5v0.5h-0.5zM494.4,71.0h0.5v0.5h-0.5zM476.9,80.6h0.5v0.5h-0.5zM469.0,105.8h0.5v0.5h-0.5zM459.6,82.9h0.5v0.5h-0.5zM468.2,72.9h0.5v0.5h-0.5zM473.7,84.4h0.5v0.5h-0.5zM489.6,76.6h0.5v0.5h-0.5zM480.2,82.3h0.5v0.5h-0.5zM487.3,73.7h0.5v0.5h-0.5zM469.4,77.9h0.5v0.5h-0.5zM472.5,68.8h0.5v0.5h-0.5zM503.4,66.7h0.5v0.5h-0.5zM461.4,89.1h0.5v0.5h-0.5zM493.7,67.8h0.5v0.5h-0.5zM469.8,87.6h0.5v0.5h-0.5zM494.5,75.9h0.5v0.5h-0.5zM462.1,88.5h0.5v0.5h-0.5zM498.8,64.1h0.5v0.5h-0.5zM457.2,85.0h0.5v0.5h-0.5zM453.8,82.3h0.5v0.5h-0.5zM490.4,75.5h0.5v0.5h-0.5zM482.9,75.5h0.5v0.5h-0.5zM490.0,79.9h0.5v0.5h-0.5zM496.1,74.2h0.5v0.5h-0.5zM462.3,77.2h0.5v0.5h-0.5zM490.3,73.5h0.5v0.5h-0.5zM476.8,72.1h0.5v0.5h-0.5zM485.7,81.1h0.5v0.5h-0.5zM495.6,71.6h0.5v0.5h-0.5zM495.3,64.3h0.5v0.5h-0.5zM481.7,86.3h0.5v0.5h-0.5zM496.0,70.1h0.5v0.5h-0.5zM485.8,69.9h0.5v0.5h-0.5zM484.0,75.9h0.5v0.5h-0.5zM464.3,85.8h0.5v0.5h-0.5zM505.6,69.3h0.5v0.5h-0.5zM482.3,62.5h0.5v0.5h-0.5zM502.7,64.6h0.5v0.5h-0.5zM489.5,69.6h0.5v0.5h-0.5zM501.7,69.7h0.5v0.5h-0.5zM498.5,65.5h0.5v0.5h-0.5zM497.5,70.1h0.5v0.5h-0.5zM500.6,66.3h0.5v0.5h-0.5zM501.8,64.6h0.5v0.5h-0.5zM493.8,70.9h0.5v0.5h-0.5zM483.1,86.3h0.5v0.5h-0.5zM462.7,86.5h0.5v0.5h-0.5zM482.4,75.6h0.5v0.5h-0.5zM499.2,66.7h0.5v0.5h-0.5zM475.6,75.6h0.5v0.5h-0.5zM493.8,72.1h0.5v0.5h-0.5zM502.0,67.0h0.5v0.5h-0.5zM487.8,82.3h0.5v0.5h-0.5zM483.9,79.0h0.5v0.5h-0.5zM498.1,68.0h0.5v0.5h-0.5zM493.2,64.0h0.5v0.5h-0.5zM468.1,83.9h0.5v0.5h-0.5zM494.7,70.3h0.5v0.5h-0.5zM475.5,68.6h0.5v0.5h-0.5zM464.3,84.1h0.5v0.5h-0.5zM487.6,65.1h0.5v0.5h-0.5zM491.0,73.1h0.5v0.5h-0.5zM459.5,80.1h0.5v0.5h-0.5zM452.4,80.3h0.5v0.5h-0.5zM474.0,85.5h0.5v0.5h-0.5zM481.1,72.7h0.5v0.5h-0.5zM477.4,85.2h0.5v0.5h-0.5zM470.3,78.5h0.5v0.5h-0.5zM500.2,65.6h0.5v0.5h-0.5zM499.7,64.8h0.5v0.5h-0.5zM493.4,72.0h0.5v0.5h-0.5zM477.7,79.4h0.5v0.5h-0.5zM493.1,69.3h0.5v0.5h-0.5zM487.0,74.6h0.5v0.5h-0.5zM461.9,86.4h0.5v0.5h-0.5zM496.9,68.8h0.5v0.5h-0.5zM484.6,71.7h0.5v0.5h-0.5zM493.5,64.5h0.5v0.5h-0.5zM463.1,90.2h0.5v0.5h-0.5zM466.8,94.0h0.5v0.5h-0.5zM459.8,87.7h0.5v0.5h-0.5zM470.7,91.8h0.5v0.5h-0.5zM464.3,92.3h0.5v0.5h-0.5zM470.5,72.0h0.5v0.5h-0.5zM477.2,90.8h0.5v0.5h-0.5zM465.7,75.1h0.5v0.5h-0.5zM502.2,65.3h0.5v0.5h-0.5zM488.3,81.5h0.5v0.5h-0.5zM463.9,92.2h0.5v0.5h-0.5zM476.0,74.9h0.5v0.5h-0.5zM480.7,86.4h0.5v0.5h-0.5zM480.7,81.5h0.5v0.5h-0.5zM502.8,64.7h0.5v0.5h-0.5zM463.7,96.7h0.5v0.5h-0.5zM484.9,77.3h0.5v0.5h-0.5zM469.8,88.6h0.5v0.5h-0.5zM470.6,90.4h0.5v0.5h-0.5zM475.1,83.8h0.5v0.5h-0.5zM497.4,75.0h0.5v0.5h-0.5zM495.0,65.6h0.5v0.5h-0.5zM481.6,78.8h0.5v0.5h-0.5zM468.9,88.6h0.5v0.5h-0.5zM494.4,68.8h0.5v0.5h-0.5zM491.2,76.8h0.5v0.5h-0.5zM491.0,78.5h0.5v0.5h-0.5zM467.9,84.0h0.5v0.5h-0.5zM493.6,74.6h0.5v0.5h-0.5zM496.1,71.8h0.5v0.5h-0.5zM473.9,77.9h0.5v0.5h-0.5zM486.1,69.8h0.5v0.5h-0.5zM501.0,66.3h0.5v0.5h-0.5zM498.7,69.5h0.5v0.5h-0.5zM460.6,92.0h0.5v0.5h-0.5zM477.2,92.1h0.5v0.5h-0.5zM480.1,81.4h0.5v0.5h-0.5zM464.5,81.9h0.5v0.5h-0.5zM473.9,88.8h0.5v0.5h-0.5zM463.1,92.4h0.5v0.5h-0.5zM473.0,87.8h0.5v0.5h-0.5zM470.4,72.6h0.5v0.5h-0.5zM470.6,88.0h0.5v0.5h-0.5zM463.1,77.3h0.5v0.5h-0.5zM489.1,73.5h0.5v0.5h-0.5zM470.2,83.3h0.5v0.5h-0.5zM488.8,72.5h0.5v0.5h-0.5zM467.7,85.6h0.5v0.5h-0.5zM502.2,66.5h0.5v0.5h-0.5zM481.8,88.8h0.5v0.5h-0.5zM472.2,78.0h0.5v0.5h-0.5zM494.8,71.3h0.5v0.5h-0.5zM502.2,68.6h0.5v0.5h-0.5zM491.1,71.4h0.5v0.5h-0.5zM453.6,80.3h0.5v0.5h-0.5zM497.3,71.0h0.5v0.5h-0.5zM491.3,74.0h0.5v0.5h-0.5zM487.1,69.8h0.5v0.5h-0.5zM466.5,70.2h0.5v0.5h-0.5zM460.5,89.0h0.5v0.5h-0.5zM500.7,62.5h0.5v0.5h-0.5zM482.7,75.4h0.5v0.5h-0.5zM477.4,88.4h0.5v0.5h-0.5zM498.4,66.5h0.5v0.5h-0.5zM471.3,90.8h0.5v0.5h-0.5zM496.7,67.5h0.5v0.5h-0.5zM462.2,92.0h0.5v0.5h-0.5zM501.9,67.7h0.5v0.5h-0.5zM461.0,84.2h0.5v0.5h-0.5zM467.3,82.7h0.5v0.5h-0.5zM465.5,85.2h0.5v0.5h-0.5zM458.5,86.4h0.5v0.5h-0.5zM470.5,81.3h0.5v0.5h-0.5zM497.8,65.0h0.5v0.5h-0.5zM491.4,70.1h0.5v0.5h-0.5zM495.7,70.7h0.5v0.5h-0.5zM465.4,71.7h0.5v0.5h-0.5zM482.7,68.8h0.5v0.5h-0.5zM467.3,91.6h0.5v0.5h-0.5zM502.5,66.9h0.5v0.5h-0.5zM479.8,75.4h0.5v0.5h-0.5zM481.5,71.5h0.5v0.5h-0.5zM463.3,86.6h0.5v0.5h-0.5zM497.6,62.5h0.5v0.5h-0.5zM490.5,64.8h0.5v0.5h-0.5zM468.7,84.9h0.5v0.5h-0.5zM473.1,85.3h0.5v0.5h-0.5zM467.6,81.1h0.5v0.5h-0.5zM478.9,76.8h0.5v0.5h-0.5zM491.0,73.0h0.5v0.5h-0.5zM498.6,63.6h0.5v0.5h-0.5zM474.9,82.2h0.5v0.5h-0.5zM496.9,61.9h0.5v0.5h-0.5zM484.4,78.8h0.5v0.5h-0.5zM466.8,75.0h0.5v0.5h-0.5zM491.8,71.1h0.5v0.5h-0.5zM475.3,74.9h0.5v0.5h-0.5zM476.6,72.8h0.5v0.5h-0.5zM502.4,65.1h0.5v0.5h-0.5zM492.5,72.2h0.5v0.5h-0.5zM499.6,62.3h0.5v0.5h-0.5zM471.5,87.7h0.5v0.5h-0.5zM495.5,76.7h0.5v0.5h-0.5zM460.4,89.8h0.5v0.5h-0.5zM476.2,71.5h0.5v0.5h-0.5zM472.1,79.5h0.5v0.5h-0.5zM467.0,104.0h0.5v0.5h-0.5zM496.5,71.8h0.5v0.5h-0.5zM458.8,90.6h0.5v0.5h-0.5zM488.8,71.6h0.5v0.5h-0.5zM484.1,70.1h0.5v0.5h-0.5zM460.0,92.3h0.5v0.5h-0.5zM482.3,74.0h0.5v0.5h-0.5zM473.2,72.5h0.5v0.5h-0.5zM477.9,70.0h0.5v0.5h-0.5zM466.9,85.3h0.5v0.5h-0.5zM480.3,81.9h0.5v0.5h-0.5zM501.4,70.6h0.5v0.5h-0.5zM494.1,69.0h0.5v0.5h-0.5zM502.8,65.3h0.5v0.5h-0.5zM501.0,67.6h0.5v0.5h-0.5zM496.5,71.0h0.5v0.5h-0.5zM472.0,78.7h0.5v0.5h-0.5zM503.0,67.7h0.5v0.5h-0.5zM475.6,85.6h0.5v0.5h-0.5zM461.8,94.2h0.5v0.5h-0.5zM486.3,69.3h0.5v0.5h-0.5zM487.6,76.9h0.5v0.5h-0.5zM463.7,91.0h0.5v0.5h-0.5zM466.5,79.0h0.5v0.5h-0.5zM461.8,79.6h0.5v0.5h-0.5zM489.7,79.4h0.5v0.5h-0.5zM492.9,71.0h0.5v0.5h-0.5zM474.5,84.1h0.5v0.5h-0.5zM483.0,72.7h0.5v0.5h-0.5zM464.9,79.7h0.5v0.5h-0.5zM466.4,78.4h0.5v0.5h-0.5zM487.2,72.5h0.5v0.5h-0.5zM494.9,72.4h0.5v0.5h-0.5zM505.6,71.9h0.5v0.5h-0.5zM456.5,84.8h0.5v0.5h-0.5zM465.7,88.8h0.5v0.5h-0.5zM487.7,75.5h0.5v0.5h-0.5zM493.8,62.6h0.5v0.5h-0.5zM480.2,77.8h0.5v0.5h-0.5zM452.1,76.8h0.5v0.5h-0.5zM473.5,81.2h0.5v0.5h-0.5zM484.5,78.0h0.5v0.5h-0.5zM474.2,71.7h0.5v0.5h-0.5zM466.2,79.5h0.5v0.5h-0.5zM473.0,80.3h0.5v0.5h-0.5zM495.3,71.4h0.5v0.5h-0.5zM462.9,90.9h0.5v0.5h-0.5zM485.5,77.3h0.5v0.5h-0.5zM500.5,70.8h0.5v0.5h-0.5zM500.1,68.5h0.5v0.5h-0.5zM466.6,69.0h0.5v0.5h-0.5zM501.7,63.9h0.5v0.5h-0.5zM501.5,66.6h0.5v0.5h-0.5zM472.8,88.7h0.5v0.5h-0.5zM460.5,93.4h0.5v0.5h-0.5zM465.2,85.3h0.5v0.5h-0.5zM486.2,76.0h0.5v0.5h-0.5zM493.1,66.6h0.5v0.5h-0.5zM472.9,74.1h0.5v0.5h-0.5zM481.2,80.4h0.5v0.5h-0.5zM469.4,94.3h0.5v0.5h-0.5zM492.2,65.9h0.5v0.5h-0.5zM494.7,67.9h0.5v0.5h-0.5zM476.6,83.9h0.5v0.5h-0.5zM464.1,100.2h0.5v0.5h-0.5zM469.1,78.7h0.5v0.5h-0.5zM485.4,78.2h0.5v0.5h-0.5zM478.9,81.7h0.5v0.5h-0.5zM492.0,71.6h0.5v0.5h-0.5zM455.9,86.3h0.5v0.5h-0.5zM473.1,89.4h0.5v0.5h-0.5zM455.7,84.8h0.5v0.5h-0.5zM501.0,62.3h0.5v0.5h-0.5zM489.7,74.0h0.5v0.5h-0.5zM473.0,76.7h0.5v0.5h-0.5zM486.8,70.4h0.5v0.5h-0.5zM494.1,66.3h0.5v0.5h-0.5zM491.7,69.3h0.5v0.5h-0.5zM467.0,85.1h0.5v0.5h-0.5zM459.4,86.0h0.5v0.5h-0.5zM472.0,85.4h0.5v0.5h-0.5zM492.7,73.2h0.5v0.5h-0.5zM465.0,80.7h0.5v0.5h-0.5zM500.2,69.3h0.5v0.5h-0.5zM500.0,61.3h0.5v0.5h-0.5zM468.6,83.6h0.5v0.5h-0.5zM453.7,83.7h0.5v0.5h-0.5zM460.3,74.6h0.5v0.5h-0.5zM468.3,81.0h0.5v0.5h-0.5zM470.9,88.9h0.5v0.5h-0.5zM457.2,80.7h0.5v0.5h-0.5zM466.7,74.1h0.5v0.5h-0.5zM479.0,73.9h0.5v0.5h-0.5zM477.4,72.4h0.5v0.5h-0.5zM500.6,70.0h0.5v0.5h-0.5zM473.1,86.9h0.5v0.5h-0.5zM463.6,84.6h0.5v0.5h-0.5zM500.0,71.3h0.5v0.5h-0.5zM492.5,71.9h0.5v0.5h-0.5zM461.2,93.9h0.5v0.5h-0.5zM467.3,89.1h0.5v0.5h-0.5zM491.5,75.5h0.5v0.5h-0.5zM483.1,73.1h0.5v0.5h-0.5zM465.2,92.2h0.5v0.5h-0.5zM498.4,70.1h0.5v0.5h-0.5zM472.0,89.3h0.5v0.5h-0.5zM462.9,90.5h0.5v0.5h-0.5zM500.2,65.9h0.5v0.5h-0.5zM496.2,65.5h0.5v0.5h-0.5zM476.1,76.4h0.5v0.5h-0.5zM492.6,79.9h0.5v0.5h-0.5zM501.4,67.1h0.5v0.5h-0.5zM492.3,70.4h0.5v0.5h-0.5zM468.2,83.1h0.5v0.5h-0.5zM467.8,81.3h0.5v0.5h-0.5zM483.5,82.4h0.5v0.5h-0.5zM493.4,74.6h0.5v0.5h-0.5zM496.2,69.5h0.5v0.5h-0.5zM464.1,91.7h0.5v0.5h-0.5zM464.0,86.5h0.5v0.5h-0.5zM497.8,68.2h0.5v0.5h-0.5zM482.5,79.8h0.5v0.5h-0.5zM466.9,82.4h0.5v0.5h-0.5zM498.6,67.3h0.5v0.5h-0.5zM489.1,77.2h0.5v0.5h-0.5zM481.7,69.4h0.5v0.5h-0.5zM484.8,78.7h0.5v0.5h-0.5zM481.2,88.9h0.5v0.5h-0.5zM470.3,86.3h0.5v0.5h-0.5zM485.8,72.1h0.5v0.5h-0.5zM486.8,66.3h0.5v0.5h-0.5zM489.7,73.0h0.5v0.5h-0.5zM497.7,71.8h0.5v0.5h-0.5zM474.1,81.3h0.5v0.5h-0.5zM481.0,70.6h0.5v0.5h-0.5zM486.9,71.7h0.5v0.5h-0.5zM454.3,84.0h0.5v0.5h-0.5zM460.2,86.3h0.5v0.5h-0.5zM492.2,71.5h0.5v0.5h-0.5zM474.8,77.8h0.5v0.5h-0.5zM489.0,67.2h0.5v0.5h-0.5zM484.5,73.7h0.5v0.5h-0.5zM474.1,73.2h0.5v0.5h-0.5zM489.5,67.6h0.5v0.5h-0.5zM474.5,77.6h0.5v0.5h-0.5zM497.0,57.6h0.5v0.5h-0.5zM472.5,95.1h0.5v0.5h-0.5zM457.2,87.3h0.5v0.5h-0.5zM491.3,73.9h0.5v0.5h-0.5zM489.5,69.9h0.5v0.5h-0.5zM466.3,91.3h0.5v0.5h-0.5zM482.5,74.4h0.5v0.5h-0.5zM499.0,63.7h0.5v0.5h-0.5zM454.1,82.7h0.5v0.5h-0.5zM498.4,61.7h0.5v0.5h-0.5zM482.7,75.9h0.5v0.5h-0.5zM475.7,87.5h0.5v0.5h-0.5zM458.6,87.3h0.5v0.5h-0.5zM473.6,96.1h0.5v0.5h-0.5zM490.7,72.1h0.5v0.5h-0.5zM492.7,75.9h0.5v0.5h-0.5zM499.4,61.9h0.5v0.5h-0.5zM459.8,90.9h0.5v0.5h-0.5zM470.7,73.9h0.5v0.5h-0.5zM497.0,70.8h0.5v0.5h-0.5zM483.6,66.1h0.5v0.5h-0.5zM486.4,70.7h0.5v0.5h-0.5zM480.7,82.6h0.5v0.5h-0.5zM488.2,69.8h0.5v0.5h-0.5zM461.0,87.8h0.5v0.5h-0.5zM490.8,65.4h0.5v0.5h-0.5zM496.2,69.0h0.5v0.5h-0.5zM481.3,79.6h0.5v0.5h-0.5zM465.3,79.1h0.5v0.5h-0.5zM468.1,91.2h0.5v0.5h-0.5zM462.2,84.0h0.5v0.5h-0.5zM479.7,75.1h0.5v0.5h-0.5zM495.9,73.6h0.5v0.5h-0.5zM470.7,89.1h0.5v0.5h-0.5zM493.7,65.4h0.5v0.5h-0.5zM480.4,74.4h0.5v0.5h-0.5zM495.5,67.4h0.5v0.5h-0.5zM490.6,68.8h0.5v0.5h-0.5zM492.2,65.1h0.5v0.5h-0.5zM467.0,79.4h0.5v0.5h-0.5zM455.3,85.6h0.5v0.5h-0.5zM495.7,70.8h0.5v0.5h-0.5z" fill="#555"/>
<path d="M491.1,115.1h0.45v0.45h-0.45zM439.6,121.2h0.45v0.45h-0.45zM473.5,72.1h0.45v0.45h-0.45zM471.8,59.9h0.45v0.45h-0.45zM495.0,115.0h0.45v0.45h-0.45zM443.3,95.5h0.45v0.45h-0.45zM474.1,101.6h0.45v0.45h-0.45zM463.7,122.8h0.45v0.45h-0.45zM495.0,68.6h0.45v0.45h-0.45zM478.6,90.4h0.45v0.45h-0.45zM461.3,117.7h0.45v0.45h-0.45zM473.1,86.7h0.45v0.45h-0.45zM463.8,84.8h0.45v0.45h-0.45zM452.7,86.5h0.45v0.45h-0.45zM502.4,99.1h0.45v0.45h-0.45zM441.8,86.5h0.45v0.45h-0.45zM493.3,64.8h0.45v0.45h-0.45zM492.0,65.1h0.45v0.45h-0.45zM482.0,63.7h0.45v0.45h-0.45zM496.2,88.2h0.45v0.45h-0.45zM498.3,94.1h0.45v0.45h-0.45zM501.8,126.3h0.45v0.45h-0.45zM497.3,124.6h0.45v0.45h-0.45zM478.8,120.8h0.45v0.45h-0.45zM491.2,87.0h0.45v0.45h-0.45zM475.1,61.8h0.45v0.45h-0.45zM474.8,87.4h0.45v0.45h-0.45zM477.0,125.6h0.45v0.45h-0.45zM465.0,107.5h0.45v0.45h-0.45zM468.3,113.5h0.45v0.45h-0.45zM495.2,78.3h0.45v0.45h-0.45zM488.8,122.7h0.45v0.45h-0.45zM487.7,79.8h0.45v0.45h-0.45zM471.7,92.6h0.45v0.45h-0.45zM441.3,93.8h0.45v0.45h-0.45z" fill="#888"/>
<path d="M448.6,105.5 L453.8,105.5 L453.6,108.0 L453.3,112.0 L452.9,118.0 L452.2,122.0 L451.2,125.6 L450.0,125.6 L448.7,122.0 L448.1,114.0 L448.2,108.0 Z" fill="#000" stroke="#000" stroke-width="0.6" stroke-linejoin="round"/>
<path d="M456.9,54.4 L508.9,54.4 L508.9,100.7 L456.9,100.7 Z" fill="none" stroke="#555" stroke-width="0.8" />
<path d="M440.8,54.4 L456.9,54.4 M440.8,54.4 L440.8,100.7 L456.9,100.7 M508.9,54.4 L508.9,100.7" fill="none" stroke="#c0504d" stroke-width="0.9" />
<text x="446.60" y="62.14" font-size="5.35" fill="#111" text-anchor="middle" textLength="26.0" lengthAdjust="spacingAndGlyphs" stroke="#111" stroke-width="0.08">Total CD41+</text>
<text x="446.60" y="67.14" font-size="5.35" fill="#111" text-anchor="middle" textLength="9.0" lengthAdjust="spacingAndGlyphs" stroke="#111" stroke-width="0.08">16.2</text>
<text x="493.30" y="106.74" font-size="5.35" fill="#111" text-anchor="middle" textLength="29.0" lengthAdjust="spacingAndGlyphs" stroke="#111" stroke-width="0.08">CD41+CD42+</text>
<text x="493.30" y="111.84" font-size="5.35" fill="#111" text-anchor="middle" textLength="8.6" lengthAdjust="spacingAndGlyphs" stroke="#111" stroke-width="0.08">10.6</text>
<text x="297.80" y="173.30" font-size="11.9" fill="#000" font-weight="bold">C</text>
<line x1="342.40" y1="180.20" x2="342.40" y2="274.90" stroke="#222" stroke-width="1.3" />
<line x1="341.80" y1="274.40" x2="479.00" y2="274.40" stroke="#222" stroke-width="1.3" />
<line x1="339.30" y1="274.40" x2="342.40" y2="274.40" stroke="#222" stroke-width="1.0" />
<text x="336.30" y="277.34" font-size="8.56" fill="#222" text-anchor="end" textLength="4.2" lengthAdjust="spacingAndGlyphs" stroke="#222" stroke-width="0.1">0</text>
<line x1="339.30" y1="256.20" x2="342.40" y2="256.20" stroke="#222" stroke-width="1.0" />
<text x="336.30" y="259.14" font-size="8.56" fill="#222" text-anchor="end" textLength="8.2" lengthAdjust="spacingAndGlyphs" stroke="#222" stroke-width="0.1">10</text>
<line x1="339.30" y1="238.00" x2="342.40" y2="238.00" stroke="#222" stroke-width="1.0" />
<text x="336.30" y="240.94" font-size="8.56" fill="#222" text-anchor="end" textLength="8.2" lengthAdjust="spacingAndGlyphs" stroke="#222" stroke-width="0.1">20</text>
<line x1="339.30" y1="219.80" x2="342.40" y2="219.80" stroke="#222" stroke-width="1.0" />
<text x="336.30" y="222.74" font-size="8.56" fill="#222" text-anchor="end" textLength="8.2" lengthAdjust="spacingAndGlyphs" stroke="#222" stroke-width="0.1">30</text>
<line x1="339.30" y1="201.60" x2="342.40" y2="201.60" stroke="#222" stroke-width="1.0" />
<text x="336.30" y="204.54" font-size="8.56" fill="#222" text-anchor="end" textLength="8.2" lengthAdjust="spacingAndGlyphs" stroke="#222" stroke-width="0.1">40</text>
<line x1="339.30" y1="183.40" x2="342.40" y2="183.40" stroke="#222" stroke-width="1.0" />
<text x="336.30" y="186.34" font-size="8.56" fill="#222" text-anchor="end" textLength="8.2" lengthAdjust="spacingAndGlyphs" stroke="#222" stroke-width="0.1">50</text>
<line x1="359.50" y1="274.40" x2="359.50" y2="277.40" stroke="#222" stroke-width="1.0" />
<line x1="385.00" y1="274.40" x2="385.00" y2="277.40" stroke="#222" stroke-width="1.0" />
<line x1="410.60" y1="274.40" x2="410.60" y2="277.40" stroke="#222" stroke-width="1.0" />
<line x1="436.30" y1="274.40" x2="436.30" y2="277.40" stroke="#222" stroke-width="1.0" />
<line x1="462.30" y1="274.40" x2="462.30" y2="277.40" stroke="#222" stroke-width="1.0" />
<text x="321.50" y="229.30" font-size="9.95" fill="#222" text-anchor="middle" textLength="58.0" lengthAdjust="spacingAndGlyphs" transform="rotate(-90 321.50 229.30)" stroke="#222" stroke-width="0.1">% of CD41 + cells</text>
<line x1="348.30" y1="187.30" x2="355.50" y2="187.30" stroke="#2c4a8e" stroke-width="1.2" />
<circle cx="351.9" cy="187.30" r="1.2" fill="#2c4a8e"/>
<text x="358.40" y="190.00" font-size="8.13" fill="#222" textLength="23.8" lengthAdjust="spacingAndGlyphs" stroke="#222" stroke-width="0.1">Vehicle</text>
<line x1="348.30" y1="198.10" x2="355.50" y2="198.10" stroke="#c2203c" stroke-width="1.2" stroke-dasharray="2.2,1.6"/>
<path d="M351.9,196.80 l1.4,2.3 h-2.8z" fill="#c2203c"/>
<text x="358.40" y="200.90" font-size="8.13" fill="#222" textLength="24.2" lengthAdjust="spacingAndGlyphs" stroke="#222" stroke-width="0.1">CPI203</text>
<polyline points="359.5,266.39 385.0,265.66 410.6,251.83 436.3,242.73 462.3,224.53" fill="none" stroke="#c2203c" stroke-width="1.35" stroke-dasharray="2.6,1.9"/>
<polyline points="359.5,266.21 385.0,268.94 410.6,262.75 436.3,249.28 462.3,209.79" fill="none" stroke="#2c4a8e" stroke-width="1.35"/>
<line x1="359.50" y1="267.12" x2="359.50" y2="265.30" stroke="#2c4a8e" stroke-width="0.9" />
<line x1="357.50" y1="267.12" x2="361.50" y2="267.12" stroke="#2c4a8e" stroke-width="1.1" />
<line x1="357.50" y1="265.30" x2="361.50" y2="265.30" stroke="#2c4a8e" stroke-width="1.1" />
<circle cx="359.50" cy="266.21" r="1.35" fill="#2c4a8e"/>
<line x1="385.00" y1="270.03" x2="385.00" y2="267.85" stroke="#2c4a8e" stroke-width="0.9" />
<line x1="383.00" y1="270.03" x2="387.00" y2="270.03" stroke="#2c4a8e" stroke-width="1.1" />
<line x1="383.00" y1="267.85" x2="387.00" y2="267.85" stroke="#2c4a8e" stroke-width="1.1" />
<circle cx="385.00" cy="268.94" r="1.35" fill="#2c4a8e"/>
<line x1="410.60" y1="266.21" x2="410.60" y2="259.29" stroke="#2c4a8e" stroke-width="0.9" />
<line x1="408.60" y1="266.21" x2="412.60" y2="266.21" stroke="#2c4a8e" stroke-width="1.1" />
<line x1="408.60" y1="259.29" x2="412.60" y2="259.29" stroke="#2c4a8e" stroke-width="1.1" />
<circle cx="410.60" cy="262.75" r="1.35" fill="#2c4a8e"/>
<line x1="436.30" y1="256.38" x2="436.30" y2="241.64" stroke="#2c4a8e" stroke-width="0.9" />
<line x1="434.30" y1="256.38" x2="438.30" y2="256.38" stroke="#2c4a8e" stroke-width="1.1" />
<line x1="434.30" y1="241.64" x2="438.30" y2="241.64" stroke="#2c4a8e" stroke-width="1.1" />
<circle cx="436.30" cy="249.28" r="1.35" fill="#2c4a8e"/>
<line x1="462.30" y1="231.81" x2="462.30" y2="195.96" stroke="#2c4a8e" stroke-width="0.9" />
<line x1="460.30" y1="231.81" x2="464.30" y2="231.81" stroke="#2c4a8e" stroke-width="1.1" />
<line x1="460.30" y1="195.96" x2="464.30" y2="195.96" stroke="#2c4a8e" stroke-width="1.1" />
<circle cx="462.30" cy="209.79" r="1.35" fill="#2c4a8e"/>
<line x1="359.50" y1="267.48" x2="359.50" y2="265.30" stroke="#c2203c" stroke-width="0.9" />
<line x1="357.50" y1="267.48" x2="361.50" y2="267.48" stroke="#c2203c" stroke-width="1.1" />
<line x1="357.50" y1="265.30" x2="361.50" y2="265.30" stroke="#c2203c" stroke-width="1.1" />
<path d="M359.50,264.89 l1.5,2.6 h-3z" fill="#c2203c"/>
<line x1="385.00" y1="267.12" x2="385.00" y2="263.84" stroke="#c2203c" stroke-width="0.9" />
<line x1="383.00" y1="267.12" x2="387.00" y2="267.12" stroke="#c2203c" stroke-width="1.1" />
<line x1="383.00" y1="263.84" x2="387.00" y2="263.84" stroke="#c2203c" stroke-width="1.1" />
<path d="M385.00,264.16 l1.5,2.6 h-3z" fill="#c2203c"/>
<line x1="410.60" y1="257.47" x2="410.60" y2="245.64" stroke="#c2203c" stroke-width="0.9" />
<line x1="408.60" y1="257.47" x2="412.60" y2="257.47" stroke="#c2203c" stroke-width="1.1" />
<line x1="408.60" y1="245.64" x2="412.60" y2="245.64" stroke="#c2203c" stroke-width="1.1" />
<path d="M410.60,250.33 l1.5,2.6 h-3z" fill="#c2203c"/>
<line x1="436.30" y1="249.28" x2="436.30" y2="234.72" stroke="#c2203c" stroke-width="0.9" />
<line x1="434.30" y1="249.28" x2="438.30" y2="249.28" stroke="#c2203c" stroke-width="1.1" />
<line x1="434.30" y1="234.72" x2="438.30" y2="234.72" stroke="#c2203c" stroke-width="1.1" />
<path d="M436.30,241.23 l1.5,2.6 h-3z" fill="#c2203c"/>
<line x1="462.30" y1="235.63" x2="462.30" y2="213.43" stroke="#c2203c" stroke-width="0.9" />
<line x1="460.30" y1="235.63" x2="464.30" y2="235.63" stroke="#c2203c" stroke-width="1.1" />
<line x1="460.30" y1="213.43" x2="464.30" y2="213.43" stroke="#c2203c" stroke-width="1.1" />
<path d="M462.30,223.03 l1.5,2.6 h-3z" fill="#c2203c"/>
<text x="385.30" y="257.17" font-size="8.35" fill="#222" text-anchor="middle" textLength="12.4" lengthAdjust="spacingAndGlyphs" stroke="#222" stroke-width="0.1">N.S</text>
<text x="436.90" y="229.27" font-size="8.35" fill="#222" text-anchor="middle" textLength="12.4" lengthAdjust="spacingAndGlyphs" stroke="#222" stroke-width="0.1">N.S</text>
<text x="462.50" y="191.17" font-size="8.35" fill="#222" text-anchor="middle" textLength="12.4" lengthAdjust="spacingAndGlyphs" stroke="#222" stroke-width="0.1">N.S</text>
<circle cx="411.00" cy="238.40" r="1.25" fill="#222"/>
<text x="359.20" y="287.94" font-size="8.56" fill="#222" text-anchor="middle" textLength="20.7" lengthAdjust="spacingAndGlyphs" stroke="#222" stroke-width="0.1">Day 0</text>
<text x="384.70" y="287.94" font-size="8.56" fill="#222" text-anchor="middle" textLength="20.7" lengthAdjust="spacingAndGlyphs" stroke="#222" stroke-width="0.1">Day 3</text>
<text x="410.30" y="287.94" font-size="8.56" fill="#222" text-anchor="middle" textLength="20.7" lengthAdjust="spacingAndGlyphs" stroke="#222" stroke-width="0.1">Day 5</text>
<text x="436.00" y="287.94" font-size="8.56" fill="#222" text-anchor="middle" textLength="20.7" lengthAdjust="spacingAndGlyphs" stroke="#222" stroke-width="0.1">Day 7</text>
<text x="462.30" y="287.94" font-size="8.56" fill="#222" text-anchor="middle" textLength="25.4" lengthAdjust="spacingAndGlyphs" stroke="#222" stroke-width="0.1">Day 10</text>
<path d="M358.3,292.40 L358.3,294.00 L403.8,294.00 L403.8,292.40" fill="none" stroke="#222" stroke-width="0.9" />
<path d="M414.2,292.40 L414.2,294.00 L462.5,294.00 L462.5,292.40" fill="none" stroke="#222" stroke-width="0.9" />
<text x="382.10" y="304.64" font-size="8.56" fill="#222" text-anchor="middle" textLength="43.8" lengthAdjust="spacingAndGlyphs" stroke="#222" stroke-width="0.1">with CPI203</text>
<text x="438.20" y="304.64" font-size="8.56" fill="#222" text-anchor="middle" textLength="55.5" lengthAdjust="spacingAndGlyphs" stroke="#222" stroke-width="0.1">without CPI203</text>
<line x1="342.40" y1="322.50" x2="342.40" y2="417.80" stroke="#222" stroke-width="1.3" />
<line x1="341.80" y1="417.30" x2="479.00" y2="417.30" stroke="#222" stroke-width="1.3" />
<line x1="339.30" y1="417.30" x2="342.40" y2="417.30" stroke="#222" stroke-width="1.0" />
<text x="336.30" y="420.24" font-size="8.56" fill="#222" text-anchor="end" textLength="4.2" lengthAdjust="spacingAndGlyphs" stroke="#222" stroke-width="0.1">0</text>
<line x1="339.30" y1="398.98" x2="342.40" y2="398.98" stroke="#222" stroke-width="1.0" />
<text x="336.30" y="401.92" font-size="8.56" fill="#222" text-anchor="end" textLength="8.2" lengthAdjust="spacingAndGlyphs" stroke="#222" stroke-width="0.1">10</text>
<line x1="339.30" y1="380.66" x2="342.40" y2="380.66" stroke="#222" stroke-width="1.0" />
<text x="336.30" y="383.60" font-size="8.56" fill="#222" text-anchor="end" textLength="8.2" lengthAdjust="spacingAndGlyphs" stroke="#222" stroke-width="0.1">20</text>
<line x1="339.30" y1="362.34" x2="342.40" y2="362.34" stroke="#222" stroke-width="1.0" />
<text x="336.30" y="365.28" font-size="8.56" fill="#222" text-anchor="end" textLength="8.2" lengthAdjust="spacingAndGlyphs" stroke="#222" stroke-width="0.1">30</text>
<line x1="339.30" y1="344.02" x2="342.40" y2="344.02" stroke="#222" stroke-width="1.0" />
<text x="336.30" y="346.96" font-size="8.56" fill="#222" text-anchor="end" textLength="8.2" lengthAdjust="spacingAndGlyphs" stroke="#222" stroke-width="0.1">40</text>
<line x1="339.30" y1="325.70" x2="342.40" y2="325.70" stroke="#222" stroke-width="1.0" />
<text x="336.30" y="328.64" font-size="8.56" fill="#222" text-anchor="end" textLength="8.2" lengthAdjust="spacingAndGlyphs" stroke="#222" stroke-width="0.1">50</text>
<line x1="359.50" y1="417.30" x2="359.50" y2="420.30" stroke="#222" stroke-width="1.0" />
<line x1="385.00" y1="417.30" x2="385.00" y2="420.30" stroke="#222" stroke-width="1.0" />
<line x1="410.60" y1="417.30" x2="410.60" y2="420.30" stroke="#222" stroke-width="1.0" />
<line x1="436.30" y1="417.30" x2="436.30" y2="420.30" stroke="#222" stroke-width="1.0" />
<line x1="462.30" y1="417.30" x2="462.30" y2="420.30" stroke="#222" stroke-width="1.0" />
<text x="321.50" y="371.20" font-size="9.95" fill="#222" text-anchor="middle" textLength="83.1" lengthAdjust="spacingAndGlyphs" transform="rotate(-90 321.50 371.20)" stroke="#222" stroke-width="0.1">% of CD41+CD42+ cells</text>
<line x1="348.30" y1="329.60" x2="355.50" y2="329.60" stroke="#2c4a8e" stroke-width="1.2" />
<circle cx="351.9" cy="329.60" r="1.2" fill="#2c4a8e"/>
<text x="358.40" y="332.30" font-size="8.13" fill="#222" textLength="23.8" lengthAdjust="spacingAndGlyphs" stroke="#222" stroke-width="0.1">Vehicle</text>
<line x1="348.30" y1="340.40" x2="355.50" y2="340.40" stroke="#c2203c" stroke-width="1.2" stroke-dasharray="2.2,1.6"/>
<path d="M351.9,339.10 l1.4,2.3 h-2.8z" fill="#c2203c"/>
<text x="358.40" y="343.20" font-size="8.13" fill="#222" textLength="24.2" lengthAdjust="spacingAndGlyphs" stroke="#222" stroke-width="0.1">CPI203</text>
<polyline points="359.5,414.92 385.0,412.90 410.6,403.01 436.3,391.47 462.3,375.16" fill="none" stroke="#c2203c" stroke-width="1.35" stroke-dasharray="2.6,1.9"/>
<polyline points="359.5,415.10 385.0,413.82 410.6,409.24 436.3,396.60 462.3,356.48" fill="none" stroke="#2c4a8e" stroke-width="1.35"/>
<circle cx="359.50" cy="415.10" r="1.35" fill="#2c4a8e"/>
<line x1="385.00" y1="414.37" x2="385.00" y2="413.27" stroke="#2c4a8e" stroke-width="0.9" />
<line x1="383.00" y1="414.37" x2="387.00" y2="414.37" stroke="#2c4a8e" stroke-width="1.1" />
<line x1="383.00" y1="413.27" x2="387.00" y2="413.27" stroke="#2c4a8e" stroke-width="1.1" />
<circle cx="385.00" cy="413.82" r="1.35" fill="#2c4a8e"/>
<line x1="410.60" y1="411.62" x2="410.60" y2="406.67" stroke="#2c4a8e" stroke-width="0.9" />
<line x1="408.60" y1="411.62" x2="412.60" y2="411.62" stroke="#2c4a8e" stroke-width="1.1" />
<line x1="408.60" y1="406.67" x2="412.60" y2="406.67" stroke="#2c4a8e" stroke-width="1.1" />
<circle cx="410.60" cy="409.24" r="1.35" fill="#2c4a8e"/>
<line x1="436.30" y1="402.28" x2="436.30" y2="390.19" stroke="#2c4a8e" stroke-width="0.9" />
<line x1="434.30" y1="402.28" x2="438.30" y2="402.28" stroke="#2c4a8e" stroke-width="1.1" />
<line x1="434.30" y1="390.19" x2="438.30" y2="390.19" stroke="#2c4a8e" stroke-width="1.1" />
<circle cx="436.30" cy="396.60" r="1.35" fill="#2c4a8e"/>
<line x1="462.30" y1="368.57" x2="462.30" y2="344.20" stroke="#2c4a8e" stroke-width="0.9" />
<line x1="460.30" y1="368.57" x2="464.30" y2="368.57" stroke="#2c4a8e" stroke-width="1.1" />
<line x1="460.30" y1="344.20" x2="464.30" y2="344.20" stroke="#2c4a8e" stroke-width="1.1" />
<circle cx="462.30" cy="356.48" r="1.35" fill="#2c4a8e"/>
<line x1="359.50" y1="415.47" x2="359.50" y2="414.37" stroke="#c2203c" stroke-width="0.9" />
<line x1="357.50" y1="415.47" x2="361.50" y2="415.47" stroke="#c2203c" stroke-width="1.1" />
<line x1="357.50" y1="414.37" x2="361.50" y2="414.37" stroke="#c2203c" stroke-width="1.1" />
<path d="M359.50,413.42 l1.5,2.6 h-3z" fill="#c2203c"/>
<line x1="385.00" y1="413.64" x2="385.00" y2="412.17" stroke="#c2203c" stroke-width="0.9" />
<line x1="383.00" y1="413.64" x2="387.00" y2="413.64" stroke="#c2203c" stroke-width="1.1" />
<line x1="383.00" y1="412.17" x2="387.00" y2="412.17" stroke="#c2203c" stroke-width="1.1" />
<path d="M385.00,411.40 l1.5,2.6 h-3z" fill="#c2203c"/>
<line x1="410.60" y1="406.31" x2="410.60" y2="398.25" stroke="#c2203c" stroke-width="0.9" />
<line x1="408.60" y1="406.31" x2="412.60" y2="406.31" stroke="#c2203c" stroke-width="1.1" />
<line x1="408.60" y1="398.25" x2="412.60" y2="398.25" stroke="#c2203c" stroke-width="1.1" />
<path d="M410.60,401.51 l1.5,2.6 h-3z" fill="#c2203c"/>
<line x1="436.30" y1="396.42" x2="436.30" y2="385.06" stroke="#c2203c" stroke-width="0.9" />
<line x1="434.30" y1="396.42" x2="438.30" y2="396.42" stroke="#c2203c" stroke-width="1.1" />
<line x1="434.30" y1="385.06" x2="438.30" y2="385.06" stroke="#c2203c" stroke-width="1.1" />
<path d="M436.30,389.97 l1.5,2.6 h-3z" fill="#c2203c"/>
<line x1="462.30" y1="383.96" x2="462.30" y2="364.90" stroke="#c2203c" stroke-width="0.9" />
<line x1="460.30" y1="383.96" x2="464.30" y2="383.96" stroke="#c2203c" stroke-width="1.1" />
<line x1="460.30" y1="364.90" x2="464.30" y2="364.90" stroke="#c2203c" stroke-width="1.1" />
<path d="M462.30,373.66 l1.5,2.6 h-3z" fill="#c2203c"/>
<text x="385.30" y="404.67" font-size="8.35" fill="#222" text-anchor="middle" textLength="12.4" lengthAdjust="spacingAndGlyphs" stroke="#222" stroke-width="0.1">N.S</text>
<text x="436.90" y="380.07" font-size="8.35" fill="#222" text-anchor="middle" textLength="12.4" lengthAdjust="spacingAndGlyphs" stroke="#222" stroke-width="0.1">N.S</text>
<text x="462.50" y="341.17" font-size="8.35" fill="#222" text-anchor="middle" textLength="12.4" lengthAdjust="spacingAndGlyphs" stroke="#222" stroke-width="0.1">N.S</text>
<circle cx="411.00" cy="391.80" r="1.25" fill="#222"/>
<text x="359.20" y="430.84" font-size="8.56" fill="#222" text-anchor="middle" textLength="20.7" lengthAdjust="spacingAndGlyphs" stroke="#222" stroke-width="0.1">Day 0</text>
<text x="384.70" y="430.84" font-size="8.56" fill="#222" text-anchor="middle" textLength="20.7" lengthAdjust="spacingAndGlyphs" stroke="#222" stroke-width="0.1">Day 3</text>
<text x="410.30" y="430.84" font-size="8.56" fill="#222" text-anchor="middle" textLength="20.7" lengthAdjust="spacingAndGlyphs" stroke="#222" stroke-width="0.1">Day 5</text>
<text x="436.00" y="430.84" font-size="8.56" fill="#222" text-anchor="middle" textLength="20.7" lengthAdjust="spacingAndGlyphs" stroke="#222" stroke-width="0.1">Day 7</text>
<text x="462.30" y="430.84" font-size="8.56" fill="#222" text-anchor="middle" textLength="25.4" lengthAdjust="spacingAndGlyphs" stroke="#222" stroke-width="0.1">Day 10</text>
<path d="M358.3,435.30 L358.3,436.90 L403.8,436.90 L403.8,435.30" fill="none" stroke="#222" stroke-width="0.9" />
<path d="M414.2,435.30 L414.2,436.90 L462.5,436.90 L462.5,435.30" fill="none" stroke="#222" stroke-width="0.9" />
<text x="382.10" y="447.54" font-size="8.56" fill="#222" text-anchor="middle" textLength="43.8" lengthAdjust="spacingAndGlyphs" stroke="#222" stroke-width="0.1">with CPI203</text>
<text x="438.20" y="447.54" font-size="8.56" fill="#222" text-anchor="middle" textLength="55.5" lengthAdjust="spacingAndGlyphs" stroke="#222" stroke-width="0.1">without CPI203</text>
<text x="8.00" y="473.80" font-size="11.9" fill="#000" font-weight="bold">D</text>
<rect x="33.80" y="480.00" width="110.20" height="24.20" fill="none" stroke="#333" stroke-width="0.9" />
<rect x="153.40" y="480.00" width="115.80" height="24.20" fill="none" stroke="#333" stroke-width="0.9" />
<text x="89.00" y="490.24" font-size="8.56" fill="#222" text-anchor="middle" textLength="87.3" lengthAdjust="spacingAndGlyphs" stroke="#222" stroke-width="0.1">Vechicle-expanded cells</text>
<text x="89.00" y="499.64" font-size="8.56" fill="#222" text-anchor="middle" textLength="101.0" lengthAdjust="spacingAndGlyphs" stroke="#222" stroke-width="0.1">in Mega-expansion medium</text>
<text x="211.20" y="489.84" font-size="8.56" fill="#222" text-anchor="middle" textLength="82.7" lengthAdjust="spacingAndGlyphs" stroke="#222" stroke-width="0.1">CPI203-expanded cells</text>
<text x="210.70" y="499.44" font-size="8.56" fill="#222" text-anchor="middle" textLength="100.6" lengthAdjust="spacingAndGlyphs" stroke="#222" stroke-width="0.1">in Mega-expansion medium</text>
<rect x="35.80" y="507.80" width="224.90" height="12.20" fill="none" stroke="#333" stroke-width="0.9" />
<text x="148.10" y="516.99" font-size="8.99" fill="#222" text-anchor="middle" textLength="68.8" lengthAdjust="spacingAndGlyphs" stroke="#222" stroke-width="0.1">CD41+CD42+ cells</text>
<rect x="35.80" y="522.80" width="94.60" height="94.00" fill="none" stroke="#333" stroke-width="0.9" />
<rect x="166.70" y="522.80" width="94.00" height="94.00" fill="none" stroke="#333" stroke-width="0.9" />
<line x1="28.20" y1="621.60" x2="28.20" y2="509.00" stroke="#111" stroke-width="1.1" />
<path d="M28.2,503.0 L25.4,509.6 L31.0,509.6 Z" fill="#111" />
<line x1="28.20" y1="621.60" x2="255.00" y2="621.60" stroke="#111" stroke-width="1.1" />
<path d="M261.3,621.6 L254.5,618.6 L254.5,624.6 Z" fill="#111" />
<text x="24.50" y="601.00" font-size="9.84" fill="#222" text-anchor="middle" textLength="42.0" lengthAdjust="spacingAndGlyphs" transform="rotate(-90 24.50 601.00)" stroke="#222" stroke-width="0.1">Cell number</text>
<text x="42.20" y="633.98" font-size="9.84" fill="#222" text-anchor="middle" textLength="27.3" lengthAdjust="spacingAndGlyphs" stroke="#222" stroke-width="0.1">Hoechst</text>
<path d="M36.50,616.50 L55.00,616.30 L57.00,615.30 L59.00,616.30 L69.00,616.10 L72.50,614.80 L74.50,611.00 L76.20,602.00 L77.60,585.00 L78.60,560.00 L79.40,540.00 L80.00,532.30 L80.60,539.00 L81.30,557.00 L82.10,580.00 L83.00,593.00 L84.00,598.50 L85.20,597.80 L86.30,599.50 L87.80,602.50 L89.50,607.00 L91.50,611.30 L94.00,614.00 L97.50,615.60 L101.00,616.30 L130.00,616.50 Z" fill="#c8c8d0" stroke="#4a5880" stroke-width="0.8" stroke-linejoin="round"/>
<path d="M167.00,616.30 L203.00,616.30 L206.30,615.50 L208.50,612.00 L210.30,600.00 L211.50,576.00 L212.40,549.00 L213.00,531.50 L213.60,548.00 L214.50,580.00 L215.50,602.00 L216.70,609.50 L217.60,610.30 L218.60,606.00 L219.60,597.00 L220.80,591.30 L221.80,596.00 L222.60,606.00 L223.40,610.30 L224.50,609.80 L225.50,608.50 L226.50,608.00 L228.00,609.50 L230.00,612.50 L232.50,614.50 L235.50,615.80 L260.00,616.30 Z" fill="#c8c8d0" stroke="#4a5880" stroke-width="0.8" stroke-linejoin="round"/>
<line x1="73.50" y1="527.80" x2="86.50" y2="527.80" stroke="#222" stroke-width="0.9" />
<line x1="73.50" y1="526.00" x2="73.50" y2="529.60" stroke="#222" stroke-width="0.9" />
<line x1="86.50" y1="526.00" x2="86.50" y2="529.60" stroke="#222" stroke-width="0.9" />
<line x1="85.40" y1="578.80" x2="92.50" y2="578.80" stroke="#222" stroke-width="0.9" />
<line x1="85.40" y1="577.00" x2="85.40" y2="580.60" stroke="#222" stroke-width="0.9" />
<line x1="92.50" y1="577.00" x2="92.50" y2="580.60" stroke="#222" stroke-width="0.9" />
<line x1="91.20" y1="600.10" x2="108.50" y2="600.10" stroke="#222" stroke-width="0.9" />
<line x1="91.20" y1="598.30" x2="91.20" y2="601.90" stroke="#222" stroke-width="0.9" />
<line x1="108.50" y1="598.30" x2="108.50" y2="601.90" stroke="#222" stroke-width="0.9" />
<line x1="203.50" y1="527.70" x2="216.50" y2="527.70" stroke="#222" stroke-width="0.9" />
<line x1="203.50" y1="525.90" x2="203.50" y2="529.50" stroke="#222" stroke-width="0.9" />
<line x1="216.50" y1="525.90" x2="216.50" y2="529.50" stroke="#222" stroke-width="0.9" />
<line x1="216.00" y1="577.70" x2="222.30" y2="577.70" stroke="#222" stroke-width="0.9" />
<line x1="216.00" y1="575.90" x2="216.00" y2="579.50" stroke="#222" stroke-width="0.9" />
<line x1="222.30" y1="575.90" x2="222.30" y2="579.50" stroke="#222" stroke-width="0.9" />
<line x1="222.70" y1="600.80" x2="226.50" y2="600.80" stroke="#222" stroke-width="0.9" />
<line x1="222.70" y1="599.00" x2="222.70" y2="602.60" stroke="#222" stroke-width="0.9" />
<line x1="226.50" y1="599.00" x2="226.50" y2="602.60" stroke="#222" stroke-width="0.9" />
<line x1="226.20" y1="607.10" x2="243.50" y2="607.10" stroke="#222" stroke-width="0.9" />
<line x1="226.20" y1="605.30" x2="226.20" y2="608.90" stroke="#222" stroke-width="0.9" />
<line x1="243.50" y1="605.30" x2="243.50" y2="608.90" stroke="#222" stroke-width="0.9" />
<text x="96.10" y="532.04" font-size="7.38" fill="#222" text-anchor="middle" textLength="8.0" lengthAdjust="spacingAndGlyphs" stroke="#222" stroke-width="0.1">2N</text>
<text x="96.10" y="539.84" font-size="7.38" fill="#222" text-anchor="middle" textLength="12.3" lengthAdjust="spacingAndGlyphs" stroke="#222" stroke-width="0.1">79.8</text>
<text x="88.40" y="565.44" font-size="7.38" fill="#222" text-anchor="middle" textLength="8.0" lengthAdjust="spacingAndGlyphs" stroke="#222" stroke-width="0.1">4N</text>
<text x="88.50" y="573.24" font-size="7.38" fill="#222" text-anchor="middle" textLength="11.8" lengthAdjust="spacingAndGlyphs" stroke="#222" stroke-width="0.1">13.4</text>
<text x="100.00" y="587.44" font-size="7.38" fill="#222" text-anchor="middle" textLength="8.0" lengthAdjust="spacingAndGlyphs" stroke="#222" stroke-width="0.1">8N</text>
<text x="100.00" y="594.84" font-size="7.38" fill="#222" text-anchor="middle" textLength="12.3" lengthAdjust="spacingAndGlyphs" stroke="#222" stroke-width="0.1">4.57</text>
<text x="226.30" y="530.64" font-size="7.38" fill="#222" text-anchor="middle" textLength="8.0" lengthAdjust="spacingAndGlyphs" stroke="#222" stroke-width="0.1">2N</text>
<text x="226.20" y="538.84" font-size="7.38" fill="#222" text-anchor="middle" textLength="12.3" lengthAdjust="spacingAndGlyphs" stroke="#222" stroke-width="0.1">61.2</text>
<text x="221.90" y="563.84" font-size="7.38" fill="#222" text-anchor="middle" textLength="8.0" lengthAdjust="spacingAndGlyphs" stroke="#222" stroke-width="0.1">4N</text>
<text x="222.30" y="571.54" font-size="7.38" fill="#222" text-anchor="middle" textLength="12.3" lengthAdjust="spacingAndGlyphs" stroke="#222" stroke-width="0.1">22.9</text>
<text x="228.60" y="589.84" font-size="7.38" fill="#222" text-anchor="middle" textLength="8.0" lengthAdjust="spacingAndGlyphs" stroke="#222" stroke-width="0.1">8N</text>
<text x="228.30" y="596.54" font-size="7.38" fill="#222" text-anchor="middle" textLength="11.8" lengthAdjust="spacingAndGlyphs" stroke="#222" stroke-width="0.1">6.36</text>
<text x="250.10" y="595.24" font-size="7.38" fill="#222" text-anchor="middle" textLength="16.2" lengthAdjust="spacingAndGlyphs" stroke="#222" stroke-width="0.1">&gt;16N</text>
<text x="250.10" y="603.14" font-size="7.38" fill="#222" text-anchor="middle" textLength="12.3" lengthAdjust="spacingAndGlyphs" stroke="#222" stroke-width="0.1">8.35</text>
<text x="298.00" y="473.80" font-size="11.9" fill="#000" font-weight="bold">E</text>
<line x1="341.60" y1="502.80" x2="341.60" y2="600.90" stroke="#222" stroke-width="1.3" />
<line x1="341.00" y1="600.40" x2="484.20" y2="600.40" stroke="#222" stroke-width="1.3" />
<line x1="338.60" y1="600.40" x2="341.60" y2="600.40" stroke="#222" stroke-width="1.0" />
<text x="336.40" y="603.34" font-size="8.56" fill="#222" text-anchor="end" textLength="4.2" lengthAdjust="spacingAndGlyphs" stroke="#222" stroke-width="0.1">0</text>
<line x1="338.60" y1="581.40" x2="341.60" y2="581.40" stroke="#222" stroke-width="1.0" />
<text x="336.40" y="584.34" font-size="8.56" fill="#222" text-anchor="end" textLength="8.2" lengthAdjust="spacingAndGlyphs" stroke="#222" stroke-width="0.1">20</text>
<line x1="338.60" y1="562.40" x2="341.60" y2="562.40" stroke="#222" stroke-width="1.0" />
<text x="336.40" y="565.34" font-size="8.56" fill="#222" text-anchor="end" textLength="8.2" lengthAdjust="spacingAndGlyphs" stroke="#222" stroke-width="0.1">40</text>
<line x1="338.60" y1="543.40" x2="341.60" y2="543.40" stroke="#222" stroke-width="1.0" />
<text x="336.40" y="546.34" font-size="8.56" fill="#222" text-anchor="end" textLength="8.2" lengthAdjust="spacingAndGlyphs" stroke="#222" stroke-width="0.1">60</text>
<line x1="338.60" y1="524.40" x2="341.60" y2="524.40" stroke="#222" stroke-width="1.0" />
<text x="336.40" y="527.34" font-size="8.56" fill="#222" text-anchor="end" textLength="8.2" lengthAdjust="spacingAndGlyphs" stroke="#222" stroke-width="0.1">80</text>
<line x1="338.60" y1="505.40" x2="341.60" y2="505.40" stroke="#222" stroke-width="1.0" />
<text x="336.40" y="508.34" font-size="8.56" fill="#222" text-anchor="end" textLength="12.4" lengthAdjust="spacingAndGlyphs" stroke="#222" stroke-width="0.1">100</text>
<text x="305.30" y="553.40" font-size="9.95" fill="#222" text-anchor="middle" textLength="50.1" lengthAdjust="spacingAndGlyphs" transform="rotate(-90 305.30 553.40)" stroke="#222" stroke-width="0.1">% of cells in all</text>
<text x="317.70" y="552.90" font-size="9.95" fill="#222" text-anchor="middle" textLength="67.8" lengthAdjust="spacingAndGlyphs" transform="rotate(-90 317.70 552.90)" stroke="#222" stroke-width="0.1">CD41+CD42+ cells</text>
<rect x="347.30" y="528.67" width="8.80" height="71.73" fill="#8e9bc7" />
<line x1="351.70" y1="532.28" x2="351.70" y2="525.06" stroke="#2a4c94" stroke-width="0.9" />
<line x1="349.70" y1="532.28" x2="353.70" y2="532.28" stroke="#2a4c94" stroke-width="0.9" />
<line x1="349.70" y1="525.06" x2="353.70" y2="525.06" stroke="#2a4c94" stroke-width="0.9" />
<rect x="347.25" y="522.95" width="2.9" height="2.9" fill="#2a4c94"/>
<rect x="353.25" y="523.42" width="2.9" height="2.9" fill="#2a4c94"/>
<rect x="350.25" y="533.40" width="2.9" height="2.9" fill="#2a4c94"/>
<rect x="360.90" y="544.06" width="8.80" height="56.34" fill="#d98f88" />
<line x1="365.30" y1="546.91" x2="365.30" y2="541.22" stroke="#b5102c" stroke-width="0.9" />
<line x1="363.30" y1="546.91" x2="367.30" y2="546.91" stroke="#b5102c" stroke-width="0.9" />
<line x1="363.30" y1="541.22" x2="367.30" y2="541.22" stroke="#b5102c" stroke-width="0.9" />
<path d="M362.00,538.37 l1.9,3.3 h-3.8z" fill="#b5102c"/>
<path d="M368.00,540.26 l1.9,3.3 h-3.8z" fill="#b5102c"/>
<path d="M364.70,547.77 l1.9,3.3 h-3.8z" fill="#b5102c"/>
<line x1="358.50" y1="600.40" x2="358.50" y2="603.20" stroke="#222" stroke-width="1.0" />
<rect x="383.80" y="584.25" width="8.80" height="16.15" fill="#8e9bc7" />
<line x1="388.20" y1="587.48" x2="388.20" y2="581.02" stroke="#2a4c94" stroke-width="0.9" />
<line x1="386.20" y1="587.48" x2="390.20" y2="587.48" stroke="#2a4c94" stroke-width="0.9" />
<line x1="386.20" y1="581.02" x2="390.20" y2="581.02" stroke="#2a4c94" stroke-width="0.9" />
<rect x="386.75" y="576.15" width="2.9" height="2.9" fill="#2a4c94"/>
<rect x="383.25" y="585.17" width="2.9" height="2.9" fill="#2a4c94"/>
<rect x="389.35" y="584.70" width="2.9" height="2.9" fill="#2a4c94"/>
<rect x="397.40" y="579.98" width="8.80" height="20.42" fill="#d98f88" />
<line x1="401.80" y1="581.12" x2="401.80" y2="578.84" stroke="#b5102c" stroke-width="0.9" />
<line x1="399.80" y1="581.12" x2="403.80" y2="581.12" stroke="#b5102c" stroke-width="0.9" />
<line x1="399.80" y1="578.84" x2="403.80" y2="578.84" stroke="#b5102c" stroke-width="0.9" />
<path d="M401.80,575.23 l1.9,3.3 h-3.8z" fill="#b5102c"/>
<path d="M398.70,579.02 l1.9,3.3 h-3.8z" fill="#b5102c"/>
<path d="M404.60,577.79 l1.9,3.3 h-3.8z" fill="#b5102c"/>
<line x1="395.00" y1="600.40" x2="395.00" y2="603.20" stroke="#222" stroke-width="1.0" />
<rect x="420.30" y="595.17" width="8.80" height="5.23" fill="#8e9bc7" />
<line x1="424.70" y1="596.12" x2="424.70" y2="594.23" stroke="#2a4c94" stroke-width="0.9" />
<line x1="422.70" y1="596.12" x2="426.70" y2="596.12" stroke="#2a4c94" stroke-width="0.9" />
<line x1="422.70" y1="594.23" x2="426.70" y2="594.23" stroke="#2a4c94" stroke-width="0.9" />
<rect x="423.25" y="591.54" width="2.9" height="2.9" fill="#2a4c94"/>
<rect x="420.05" y="594.39" width="2.9" height="2.9" fill="#2a4c94"/>
<rect x="425.85" y="594.39" width="2.9" height="2.9" fill="#2a4c94"/>
<rect x="433.90" y="594.51" width="8.80" height="5.89" fill="#d98f88" />
<line x1="438.30" y1="595.27" x2="438.30" y2="593.75" stroke="#b5102c" stroke-width="0.9" />
<line x1="436.30" y1="595.27" x2="440.30" y2="595.27" stroke="#b5102c" stroke-width="0.9" />
<line x1="436.30" y1="593.75" x2="440.30" y2="593.75" stroke="#b5102c" stroke-width="0.9" />
<path d="M438.30,589.95 l1.9,3.3 h-3.8z" fill="#b5102c"/>
<path d="M435.30,592.42 l1.9,3.3 h-3.8z" fill="#b5102c"/>
<path d="M441.30,592.42 l1.9,3.3 h-3.8z" fill="#b5102c"/>
<line x1="431.50" y1="600.40" x2="431.50" y2="603.20" stroke="#222" stroke-width="1.0" />
<rect x="456.80" y="599.00" width="9.3" height="2.8" rx="1.2" fill="#2a4c94"/>
<rect x="470.40" y="592.32" width="8.80" height="8.08" fill="#d98f88" />
<line x1="474.80" y1="593.75" x2="474.80" y2="590.90" stroke="#b5102c" stroke-width="0.9" />
<line x1="472.80" y1="593.75" x2="476.80" y2="593.75" stroke="#b5102c" stroke-width="0.9" />
<line x1="472.80" y1="590.90" x2="476.80" y2="590.90" stroke="#b5102c" stroke-width="0.9" />
<path d="M474.80,586.15 l1.9,3.3 h-3.8z" fill="#b5102c"/>
<path d="M471.80,590.14 l1.9,3.3 h-3.8z" fill="#b5102c"/>
<path d="M477.80,590.14 l1.9,3.3 h-3.8z" fill="#b5102c"/>
<line x1="468.00" y1="600.40" x2="468.00" y2="603.20" stroke="#222" stroke-width="1.0" />
<text x="358.30" y="614.25" font-size="8.88" fill="#222" text-anchor="middle" textLength="10.2" lengthAdjust="spacingAndGlyphs" stroke="#222" stroke-width="0.1">2N</text>
<text x="394.80" y="614.25" font-size="8.88" fill="#222" text-anchor="middle" textLength="10.2" lengthAdjust="spacingAndGlyphs" stroke="#222" stroke-width="0.1">4N</text>
<text x="431.30" y="614.25" font-size="8.88" fill="#222" text-anchor="middle" textLength="10.2" lengthAdjust="spacingAndGlyphs" stroke="#222" stroke-width="0.1">8N</text>
<text x="467.80" y="614.25" font-size="8.88" fill="#222" text-anchor="middle" textLength="20.3" lengthAdjust="spacingAndGlyphs" stroke="#222" stroke-width="0.1">&gt;16N</text>
<path d="M351.1,518.6 L351.1,517.0 L366.2,517.0 L366.2,518.6" fill="none" stroke="#222" stroke-width="0.9" />
<circle cx="358.65" cy="513.10" r="1.15" fill="#222"/>
<path d="M387.3,571.6 L387.3,570.0 L401.8,570.0 L401.8,571.6" fill="none" stroke="#222" stroke-width="0.9" />
<text x="394.55" y="565.87" font-size="8.35" fill="#222" text-anchor="middle" textLength="12.4" lengthAdjust="spacingAndGlyphs" stroke="#222" stroke-width="0.1">N.S</text>
<path d="M424.2,587.1 L424.2,585.5 L438.5,585.5 L438.5,587.1" fill="none" stroke="#222" stroke-width="0.9" />
<text x="431.35" y="582.07" font-size="8.35" fill="#222" text-anchor="middle" textLength="12.4" lengthAdjust="spacingAndGlyphs" stroke="#222" stroke-width="0.1">N.S</text>
<path d="M461.0,573.6 L461.0,572.0 L475.7,572.0 L475.7,573.6" fill="none" stroke="#222" stroke-width="0.9" />
<circle cx="465.35" cy="568.10" r="1.05" fill="#222"/>
<circle cx="468.35" cy="568.10" r="1.05" fill="#222"/>
<circle cx="471.35" cy="568.10" r="1.05" fill="#222"/>
<rect x="449.3" y="507.8" width="3" height="3" fill="#2a4c94"/>
<text x="455.90" y="512.17" font-size="8.35" fill="#222" textLength="24.0" lengthAdjust="spacingAndGlyphs" stroke="#222" stroke-width="0.1">Vehicle</text>
<path d="M450.8,518.3 l1.7,3 h-3.4z" fill="#b5102c"/>
<text x="455.90" y="522.87" font-size="8.35" fill="#222" textLength="24.4" lengthAdjust="spacingAndGlyphs" stroke="#222" stroke-width="0.1">CPI203</text>
<rect x="0.7" y="0.7" width="518.6" height="639.6" fill="none" stroke="#000" stroke-width="1.4"/>
</svg>
</body></html>
